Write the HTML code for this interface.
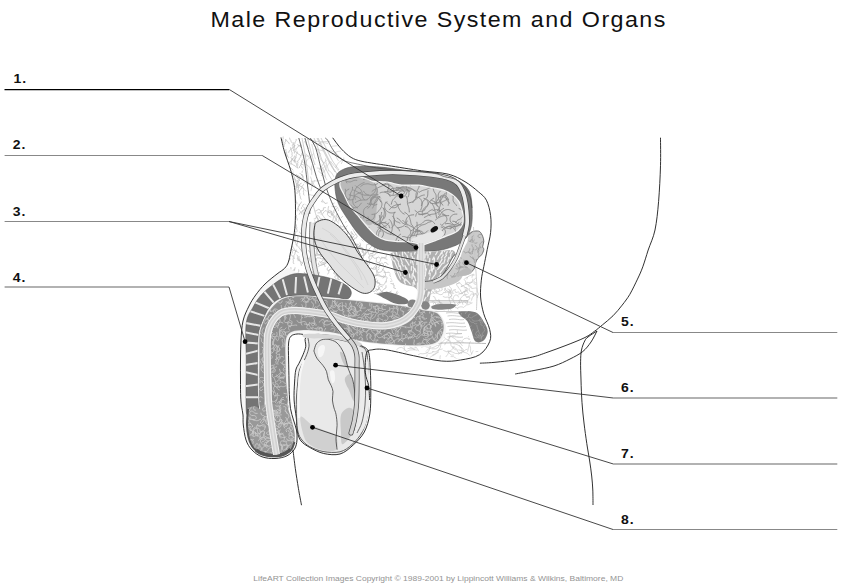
<!DOCTYPE html>
<html><head><meta charset="utf-8">
<style>
html,body{margin:0;padding:0;background:#fff;width:841px;height:587px;overflow:hidden}
svg{position:absolute;left:0;top:0;display:block}
text{font-family:"Liberation Sans",sans-serif}
.lb{font-weight:bold;font-size:12.5px;fill:#111;letter-spacing:0.9px}
</style></head><body>
<svg width="841" height="587" viewBox="0 0 841 587">
<!-- ANATOMY -->
<g id="anat">
<defs><clipPath id="c1"><path d="M281.0,137.5C283.4,135.1 295.5,135.4 299.0,137.5C302.5,139.6 301.0,145.6 302.0,150.0C303.0,154.4 304.0,157.9 304.9,163.7C305.8,169.5 306.8,178.9 307.5,185.0C308.2,191.1 309.1,195.5 309.3,200.0C309.6,204.5 309.7,207.8 309.0,212.0C308.3,216.2 306.0,220.3 305.0,225.0C304.0,229.7 303.2,234.5 303.0,240.0C302.8,245.5 303.0,252.2 304.0,258.0C305.0,263.8 309.7,272.0 309.0,275.0C308.3,278.0 303.5,277.2 300.0,276.0C296.5,274.8 289.6,272.1 288.0,268.0C286.4,263.9 289.7,256.7 290.7,251.4C291.7,246.1 293.0,241.1 293.8,236.0C294.6,230.9 295.1,227.0 295.3,220.7C295.6,214.4 295.5,204.1 295.3,198.0C295.1,191.9 294.8,188.7 294.0,184.0C293.2,179.3 292.1,175.1 290.5,169.7C288.9,164.3 286.1,157.2 284.5,151.8C282.9,146.4 278.6,139.9 281.0,137.5Z"/></clipPath><clipPath id="c2"><path d="M305.0,138.0C309.0,126.0 323.3,134.3 330.0,138.0C336.7,141.7 343.7,154.3 345.0,160.0C346.3,165.7 340.8,168.3 338.0,172.0C335.2,175.7 331.0,179.0 328.0,182.0C325.0,185.0 322.7,187.0 320.0,190.0C317.3,193.0 314.3,196.7 312.0,200.0C309.7,203.3 307.2,220.3 306.0,210.0C304.8,199.7 301.0,150.0 305.0,138.0Z"/></clipPath><clipPath id="c3"><path d="M306.0,268.0C306.5,274.2 308.0,280.3 312.0,282.0C316.0,283.7 323.7,277.7 330.0,278.0C336.3,278.3 343.0,281.7 350.0,284.0C357.0,286.3 365.0,289.3 372.0,292.0C379.0,294.7 387.3,299.3 392.0,300.0C396.7,300.7 400.0,299.3 400.0,296.0C400.0,292.7 394.0,285.7 392.0,280.0C390.0,274.3 389.2,266.7 388.0,262.0C386.8,257.3 387.7,255.0 385.0,252.0C382.3,249.0 376.2,246.3 372.0,244.0C367.8,241.7 363.3,240.7 360.0,238.0C356.7,235.3 354.7,231.3 352.0,228.0C349.3,224.7 346.7,221.8 344.0,218.0C341.3,214.2 338.7,208.7 336.0,205.0C333.3,201.3 331.0,196.0 328.0,196.0C325.0,196.0 320.7,200.7 318.0,205.0C315.3,209.3 313.5,215.3 312.0,222.0C310.5,228.7 310.0,237.3 309.0,245.0C308.0,252.7 305.5,261.8 306.0,268.0Z"/></clipPath><clipPath id="c4"><path d="M405.0,345.0C412.0,344.3 425.3,346.5 432.0,345.0C438.7,343.5 440.7,338.5 445.0,336.0C449.3,333.5 454.5,330.7 458.0,330.0C461.5,329.3 463.7,329.8 466.0,332.0C468.3,334.2 470.0,339.7 472.0,343.0C474.0,346.3 480.0,349.5 478.0,352.0C476.0,354.5 466.3,356.8 460.0,358.0C453.7,359.2 447.8,359.7 440.0,359.0C432.2,358.3 421.3,355.7 413.0,354.0C404.7,352.3 391.3,350.5 390.0,349.0C388.7,347.5 398.0,345.7 405.0,345.0Z"/></clipPath><clipPath id="c5"><path d="M444.0,282.0C450.2,279.3 457.3,277.7 462.0,276.0C466.7,274.3 469.3,270.5 472.0,272.0C474.7,273.5 477.0,280.3 478.0,285.0C479.0,289.7 479.3,296.7 478.0,300.0C476.7,303.3 473.8,303.3 470.0,305.0C466.2,306.7 460.0,309.2 455.0,310.0C450.0,310.8 444.2,311.7 440.0,310.0C435.8,308.3 432.5,303.0 430.0,300.0C427.5,297.0 422.7,295.0 425.0,292.0C427.3,289.0 437.8,284.7 444.0,282.0Z"/></clipPath><clipPath id="c6"><path d="M340.8,182.5C341.5,181.1 341.8,179.1 345.0,178.3C348.2,177.5 355.6,176.9 360.0,177.5C364.4,178.1 367.8,180.9 371.7,181.7C375.6,182.5 380.2,182.2 383.3,182.5C386.4,182.8 386.9,182.8 390.0,183.3C393.1,183.9 397.0,185.4 401.7,185.8C406.4,186.2 413.3,185.4 418.3,185.8C423.3,186.2 427.5,187.5 431.7,188.3C435.9,189.1 440.0,189.7 443.3,190.8C446.6,191.9 449.2,193.2 451.7,195.0C454.2,196.8 456.6,198.9 458.3,201.7C460.0,204.5 461.0,209.0 461.7,211.7C462.4,214.4 462.5,216.0 462.5,218.0C462.5,220.0 462.8,221.9 461.9,223.9C461.0,225.9 459.6,228.4 457.4,230.2C455.2,232.0 451.2,233.4 448.5,234.6C445.8,235.8 443.2,236.6 441.0,237.5C438.8,238.4 437.3,239.2 435.1,240.0C432.9,240.8 429.9,241.8 428.0,242.5C426.1,243.2 425.1,243.9 423.5,244.0C421.9,244.1 420.4,243.4 418.3,243.0C416.2,242.6 413.4,241.8 410.6,241.5C407.8,241.2 404.2,241.1 401.7,241.0C399.1,240.9 397.9,240.9 395.3,240.7C392.7,240.4 389.1,240.4 386.0,239.5C382.9,238.6 379.9,237.6 377.0,235.5C374.1,233.4 371.4,230.4 368.3,227.0C365.2,223.6 361.4,218.7 358.3,215.0C355.2,211.3 352.2,208.3 350.0,205.0C347.8,201.7 346.5,198.1 345.0,195.0C343.5,191.9 341.5,188.8 340.8,186.7C340.1,184.6 340.1,183.9 340.8,182.5Z"/></clipPath><clipPath id="c7"><path d="M316.2,222.5C317.6,221.4 321.0,219.8 323.4,219.6C325.8,219.3 327.8,219.6 330.7,221.0C333.6,222.4 337.7,225.4 340.8,228.3C343.9,231.2 346.6,234.3 349.5,238.4C352.4,242.5 355.2,248.6 358.1,252.9C361.0,257.2 364.4,261.1 366.8,264.5C369.2,267.9 371.2,270.5 372.6,273.1C374.0,275.7 374.7,277.6 375.0,280.0C375.3,282.4 375.2,285.6 374.3,287.7C373.4,289.8 371.4,291.6 369.5,292.5C367.6,293.4 365.2,293.7 362.7,293.1C360.2,292.5 357.7,291.0 354.5,289.0C351.3,287.0 346.8,283.6 343.6,280.9C340.4,278.2 337.8,275.4 335.4,272.7C333.0,270.0 331.4,267.3 329.2,264.5C327.0,261.7 324.2,258.9 322.0,255.8C319.8,252.7 317.5,249.1 316.2,245.7C314.9,242.3 314.2,238.8 314.0,235.5C313.8,232.2 314.3,228.2 314.7,226.0C315.1,223.8 314.8,223.6 316.2,222.5Z"/></clipPath><clipPath id="proc"><path d="M391.8,252.8C395.7,251.2 409.5,251.9 415.2,251.7C420.9,251.5 421.8,251.8 425.9,251.7C430.0,251.6 435.6,251.3 440.0,251.0C444.4,250.7 449.4,249.5 452.0,250.0C454.6,250.5 455.5,252.7 455.5,254.0C455.5,255.3 453.4,256.0 452.2,258.0C450.9,260.0 449.4,263.5 448.0,266.0C446.6,268.5 445.3,271.2 443.8,273.2C442.3,275.2 440.6,276.2 439.0,278.0C437.4,279.8 435.3,281.7 434.0,284.0C432.7,286.3 431.9,289.0 431.0,292.0C430.1,295.0 430.2,300.2 428.5,302.0C426.8,303.8 422.7,304.7 421.0,303.0C419.3,301.3 419.7,294.7 418.5,292.0C417.3,289.3 416.1,288.2 414.0,287.0C411.9,285.8 408.5,286.0 406.0,285.0C403.5,284.0 400.9,283.2 399.0,281.0C397.1,278.8 395.7,275.3 394.5,272.0C393.3,268.7 392.4,264.5 392.0,261.3C391.6,258.1 387.9,254.4 391.8,252.8Z"/></clipPath><clipPath id="c8"><path d="M470.5,232.7C471.5,232.0 473.1,231.3 474.6,231.1C476.1,230.9 478.4,230.7 479.7,231.6C481.0,232.5 482.0,234.7 482.7,236.3C483.4,237.9 483.8,239.7 483.8,241.4C483.8,243.1 482.7,245.1 482.7,246.5C482.7,247.9 484.0,248.2 483.8,249.6C483.6,251.0 482.7,253.2 481.7,254.7C480.7,256.2 478.6,257.4 477.6,258.8C476.6,260.2 476.1,261.4 475.6,262.9C475.1,264.4 475.3,266.5 474.6,268.0C473.9,269.5 472.7,270.9 471.5,272.1C470.3,273.3 469.3,274.4 467.4,275.1C465.5,275.8 462.6,275.8 460.2,276.2C457.8,276.6 455.4,277.0 453.0,277.5C450.6,278.0 447.8,278.8 446.0,279.0C444.2,279.2 441.7,280.0 442.0,279.0C442.3,278.0 445.8,275.3 448.0,273.0C450.2,270.7 453.0,267.6 455.0,265.0C457.0,262.4 459.0,259.9 460.2,257.7C461.4,255.5 461.4,253.6 462.3,251.6C463.2,249.6 464.5,247.2 465.3,245.5C466.1,243.8 466.9,243.1 467.4,241.4C467.9,239.7 467.9,236.6 468.4,235.2C468.9,233.8 469.5,233.4 470.5,232.7Z"/></clipPath><clipPath id="c9"><path d="M459.4,311.3C461.8,310.7 471.5,310.6 475.5,312.3C479.5,314.0 481.6,318.2 483.6,321.4C485.6,324.6 487.7,328.3 487.7,331.5C487.7,334.7 485.6,338.9 483.6,340.6C481.6,342.3 477.5,343.1 475.5,341.6C473.5,340.1 472.8,334.9 471.5,331.5C470.2,328.1 469.2,324.0 467.5,321.4C465.8,318.8 462.4,317.7 461.0,316.0C459.6,314.3 457.0,311.9 459.4,311.3Z"/></clipPath><clipPath id="dkc"><path d="M246.2,410.0C245.7,401.3 246.2,374.4 246.2,360.0C246.2,345.6 245.1,332.4 246.2,323.6C247.3,314.8 250.5,312.0 253.0,307.2C255.5,302.4 258.0,298.6 261.2,295.0C264.4,291.4 268.0,288.4 272.0,285.4C276.0,282.4 280.3,279.0 285.0,277.0C289.7,275.0 292.9,273.4 300.0,273.5C307.1,273.6 320.0,275.7 327.5,277.5C335.0,279.3 341.1,282.2 345.0,284.5C348.9,286.8 350.2,288.9 351.0,291.0C351.8,293.1 351.0,295.6 350.0,297.0C349.0,298.4 347.0,299.4 345.0,299.5C343.0,299.6 343.3,298.3 338.0,297.7C332.7,297.1 320.6,296.0 313.0,295.7C305.4,295.4 298.2,295.1 292.5,295.7C286.8,296.2 282.8,297.1 278.9,299.0C275.0,300.9 272.0,303.6 269.3,307.2C266.6,310.8 264.3,316.3 262.5,320.9C260.7,325.4 259.2,328.0 258.4,334.5C257.6,341.0 257.6,349.9 257.5,360.0C257.4,370.1 257.8,386.8 258.0,395.0C258.2,403.2 259.5,406.2 259.0,409.0C258.5,411.8 256.7,411.5 255.0,412.0C253.3,412.5 250.5,412.3 249.0,412.0C247.5,411.7 246.7,418.7 246.2,410.0Z"/></clipPath><clipPath id="c10"><path d="M259.5,405.0C258.7,397.5 259.4,371.8 259.5,360.0C259.6,348.2 258.9,341.5 259.8,334.5C260.8,327.5 262.9,322.9 265.2,318.1C267.5,313.3 270.0,309.3 273.4,305.9C276.8,302.5 280.2,299.3 285.7,297.7C291.1,296.1 299.0,296.1 306.1,296.3C313.2,296.5 320.1,298.0 328.6,298.8C337.1,299.6 347.5,300.1 357.0,301.0C366.5,301.9 377.6,303.0 385.7,304.0C393.8,305.0 401.1,305.9 405.7,306.8C410.2,307.7 412.1,308.5 413.0,309.5C413.9,310.5 413.2,311.5 411.0,313.0C408.8,314.5 404.2,317.0 400.0,318.5C395.8,320.0 390.5,321.4 385.7,322.0C380.9,322.6 376.2,322.3 371.4,322.0C366.6,321.7 361.8,320.9 357.0,320.0C352.2,319.1 347.6,317.8 342.9,316.4C338.2,315.0 335.8,312.9 328.6,311.4C321.5,309.8 306.5,307.8 300.0,307.1C293.5,306.4 293.6,306.7 289.8,307.4C286.1,308.1 280.9,309.1 277.5,311.3C274.1,313.6 271.4,317.0 269.3,320.9C267.2,324.8 265.5,328.0 264.6,334.5C263.7,341.0 263.9,348.2 263.9,360.0C263.9,371.8 265.2,397.5 264.5,405.0C263.8,412.5 260.3,412.5 259.5,405.0Z"/></clipPath><clipPath id="c11"><path d="M273.0,406.0C270.5,402.7 272.2,391.8 271.8,385.0C271.4,378.2 271.0,371.7 270.8,365.0C270.6,358.3 270.4,350.1 270.5,345.0C270.6,339.9 270.5,338.1 271.3,334.5C272.1,330.9 273.4,326.8 275.3,323.6C277.2,320.4 280.2,317.0 283.0,315.4C285.8,313.8 289.2,314.2 292.0,314.0C294.8,313.8 293.9,313.7 300.0,314.3C306.1,314.9 321.5,316.5 328.6,317.9C335.8,319.3 338.2,321.5 342.9,322.9C347.6,324.3 352.2,325.4 357.0,326.4C361.8,327.3 366.6,328.1 371.4,328.6C376.2,329.1 380.9,329.7 385.7,329.3C390.5,328.9 395.7,327.9 400.0,326.4C404.3,324.8 408.7,322.1 411.4,320.0C414.1,317.9 414.8,315.3 416.0,313.5C417.2,311.7 417.2,309.5 418.5,309.0C419.8,308.5 421.8,310.1 424.0,310.5C426.2,310.9 429.5,310.8 432.0,311.5C434.5,312.2 437.1,312.8 439.0,315.0C440.9,317.2 443.1,321.5 443.5,325.0C443.9,328.5 443.4,332.8 441.5,336.0C439.6,339.2 438.4,342.5 432.0,344.0C425.6,345.5 414.8,345.5 402.8,345.0C390.8,344.5 370.8,342.7 360.0,340.8C349.2,338.9 344.7,335.1 338.0,333.5C331.3,331.9 325.8,331.6 320.0,331.0C314.2,330.4 308.0,329.9 303.4,330.0C298.8,330.1 295.2,330.5 292.5,331.5C289.8,332.5 288.2,333.8 287.0,336.0C285.8,338.2 285.6,341.0 285.3,345.0C285.1,349.0 285.4,354.2 285.5,360.0C285.6,365.8 285.8,372.5 286.0,380.0C286.2,387.5 289.2,400.7 287.0,405.0C284.8,409.3 275.5,409.3 273.0,406.0Z"/></clipPath><clipPath id="c12"><path d="M247.5,410.0C248.1,407.0 249.1,407.6 250.5,407.0C251.9,406.4 254.4,406.2 256.0,406.5C257.6,406.8 258.8,409.2 260.0,409.0C261.2,408.8 258.7,405.8 263.0,405.0C267.3,404.2 281.8,403.2 286.0,404.0C290.2,404.8 287.6,407.3 288.5,410.0C289.4,412.7 290.5,416.3 291.5,420.0C292.5,423.7 294.0,428.3 294.5,432.0C295.0,435.7 295.0,439.1 294.5,442.0C294.0,444.9 293.1,447.5 291.5,449.5C289.9,451.5 287.4,452.9 285.0,454.0C282.6,455.1 280.0,455.8 277.0,456.0C274.0,456.2 270.2,456.2 267.0,455.5C263.8,454.8 260.5,453.6 258.0,452.0C255.5,450.4 253.6,448.5 252.0,446.0C250.4,443.5 249.3,440.5 248.5,437.0C247.7,433.5 247.2,429.5 247.0,425.0C246.8,420.5 246.9,413.0 247.5,410.0Z"/></clipPath></defs>
<path d="M281.0,137.5C283.4,135.1 295.5,135.4 299.0,137.5C302.5,139.6 301.0,145.6 302.0,150.0C303.0,154.4 304.0,157.9 304.9,163.7C305.8,169.5 306.8,178.9 307.5,185.0C308.2,191.1 309.1,195.5 309.3,200.0C309.6,204.5 309.7,207.8 309.0,212.0C308.3,216.2 306.0,220.3 305.0,225.0C304.0,229.7 303.2,234.5 303.0,240.0C302.8,245.5 303.0,252.2 304.0,258.0C305.0,263.8 309.7,272.0 309.0,275.0C308.3,278.0 303.5,277.2 300.0,276.0C296.5,274.8 289.6,272.1 288.0,268.0C286.4,263.9 289.7,256.7 290.7,251.4C291.7,246.1 293.0,241.1 293.8,236.0C294.6,230.9 295.1,227.0 295.3,220.7C295.6,214.4 295.5,204.1 295.3,198.0C295.1,191.9 294.8,188.7 294.0,184.0C293.2,179.3 292.1,175.1 290.5,169.7C288.9,164.3 286.1,157.2 284.5,151.8C282.9,146.4 278.6,139.9 281.0,137.5Z" fill="#ffffff"/>
<path d="M285.8,139.7Q285.9,141.3 285.3,141.8Q284.6,142.2 284.9,143Q285.2,143.7 284.6,144.2Q283.9,144.7 284,145.5L284.2,146.3M289.6,138.1Q289.8,139.6 290.5,140.1Q291.1,140.6 291.1,141.4Q291.2,142.2 291.8,142.6L292.5,143M296.2,139.4Q296.4,141 295.7,141.4Q295,141.8 295.1,142.6Q295.1,143.4 294.5,143.8Q293.9,144.3 294.2,145L294.5,145.8M283.2,144.2Q282.5,142.7 282.8,142Q283.1,141.2 282.8,140.5Q282.4,139.8 282.9,139.2Q283.4,138.5 283.1,137.8Q282.7,137 283.2,136.4L283.8,135.8M289.2,143.7Q288.8,142.1 288,142Q287.2,141.9 287,141.1Q286.8,140.3 286.1,140L285.4,139.7M293.7,142.6Q293.3,144.1 293.8,144.7Q294.3,145.3 294.1,146.1Q294,146.9 294.5,147.5Q295.1,148 294.9,148.8Q294.8,149.6 295.4,150L296.1,150.5M297.7,144.4Q298.2,145.9 299,145.8Q299.8,145.7 300.2,146.4Q300.5,147.1 301.3,147Q302.1,146.9 302.5,147.6L303,148.2M285.9,149.6Q285.6,151.2 286.2,151.7Q286.7,152.3 286.6,153Q286.4,153.8 286.9,154.4Q287.5,155 287.5,155.8Q287.4,156.6 288.1,157L288.7,157.5M290.6,147.6Q290.5,149.2 291.2,149.6Q291.9,150.1 291.6,150.9Q291.3,151.6 291.9,152.2Q292.4,152.8 292.1,153.5Q291.7,154.2 292.1,154.9Q292.5,155.6 292,156.3L291.5,156.9M296.3,149.2Q296.6,147.6 297.4,147.3Q298.1,147 298.5,146.3Q298.8,145.6 299.6,145.4L300.4,145.2M300.9,146.7Q300.8,145.1 301.6,145Q302.4,144.8 302.4,144Q302.5,143.2 303.3,143Q304.1,142.8 304.1,142.1Q304.2,141.3 305,141Q305.7,140.7 305.8,139.9L305.9,139.1M288.7,152.4Q288.8,150.8 289.6,150.7Q290.3,150.5 290.5,149.7Q290.7,148.9 291.5,148.8Q292.3,148.6 292.6,147.9Q292.9,147.1 293.7,147.1Q294.4,147 294.7,146.2L294.9,145.4M294.4,153.1Q294.7,151.5 294.1,151.1Q293.4,150.7 293.6,150Q293.9,149.2 293.3,148.7Q292.6,148.2 292.9,147.5Q293.3,146.7 292.7,146.2Q292.1,145.6 292.6,144.9L293,144.2M297.3,151.9Q297.4,153.5 296.7,153.9Q296.1,154.3 296.2,155.1Q296.4,155.9 295.7,156.3Q295.1,156.7 295.3,157.5Q295.5,158.3 294.9,158.8Q294.2,159.3 294.5,160L294.7,160.8M302.1,153.1Q302,154.7 301.4,155.1Q300.7,155.6 300.6,156.4Q300.6,157.2 300,157.7Q299.3,158.2 299.3,159Q299.3,159.8 298.7,160.2L298,160.7M286.4,156.6Q286.6,155 285.9,154.5Q285.3,154 285.5,153.2Q285.7,152.5 285,152L284.4,151.5M290.9,157.6Q291.4,159.1 292.2,159.3Q293,159.4 293.2,160.2Q293.4,161 294.2,161.1L295,161.2M294.5,156Q294.4,157.6 293.7,157.9Q292.9,158.2 292.8,159Q292.6,159.8 291.8,160Q291.1,160.3 290.9,161Q290.7,161.8 289.9,162Q289.1,162.2 289,163L288.9,163.8M300.9,155.9Q300.1,154.5 299.3,154.6Q298.5,154.6 298.2,153.8Q297.9,153.1 297.1,153Q296.3,152.8 296,152.1Q295.8,151.3 295,151.2Q294.2,151.1 294,150.3L293.9,149.5M294.3,162.2Q294,160.6 294.6,160.1Q295.2,159.6 295.2,158.8Q295.3,158 295.9,157.5L296.5,157M297.6,161.2Q298.4,162.6 297.8,163.2Q297.2,163.8 297.7,164.4Q298.2,165.1 297.6,165.6Q297.1,166.2 297.5,166.9L297.8,167.7M302,161Q302.1,162.6 301.6,163.1Q301,163.7 301,164.5Q301,165.3 300.3,165.6Q299.6,166 299.5,166.8L299.5,167.6M291.4,163.4Q290.7,162 291.3,161.5Q292,161 291.7,160.2Q291.3,159.5 292,159.1L292.6,158.6M296.5,165.4Q296.8,163.9 296.2,163.4Q295.6,162.8 295.8,162.1Q296,161.3 295.4,160.7L294.8,160.2M301.4,164.5Q301.1,162.9 301.7,162.4Q302.4,161.9 302.1,161.1Q301.9,160.4 302.5,159.8L303,159.2M304,166.1Q304.5,167.6 303.9,168.1Q303.3,168.6 303.5,169.4Q303.6,170.1 302.9,170.5Q302.2,170.8 302.2,171.6L302.1,172.4M292.9,170Q292,168.7 291.3,168.6Q290.5,168.4 290.2,167.7Q290,166.9 289.2,166.7L288.5,166.6M297.8,168.2Q296.9,166.8 296.1,166.8Q295.3,166.8 295.1,166Q294.8,165.3 294,165.3Q293.2,165.3 292.8,164.6Q292.3,163.9 291.5,164.1Q290.8,164.2 290.2,163.6L289.7,163M304.6,169.5Q305,168 304.3,167.5Q303.6,167.1 303.7,166.3Q303.9,165.5 303.3,165.1L302.6,164.6M296.2,174.4Q297.1,175.7 297.9,175.6Q298.7,175.6 299,176.3Q299.2,177.1 300,177Q300.8,177 301.1,177.7Q301.4,178.5 302.2,178.7Q303,178.8 303.1,179.6L303.3,180.4M302,174.3Q302.3,175.8 303.1,176.1Q303.9,176.3 304.1,177Q304.3,177.8 305.1,178L305.9,178.1M305.2,172.7Q305.1,171.1 304.4,170.7Q303.7,170.3 303.6,169.5Q303.4,168.7 302.7,168.4Q302,168 301.9,167.2Q301.9,166.4 301.2,166L300.5,165.6M294.6,179Q295.5,180.4 295.4,181.2Q295.3,182 295.9,182.5Q296.5,183 296.4,183.8Q296.3,184.6 296.9,185.1Q297.5,185.7 297.3,186.4Q297.2,187.2 297.7,187.8L298.3,188.4M299.3,178.8Q299.7,180.3 299,180.8Q298.4,181.3 298.4,182.1Q298.5,182.9 297.8,183.3Q297.2,183.8 297.2,184.6Q297.2,185.4 296.6,185.8Q295.9,186.2 296,187L296.2,187.8M303.2,177.7Q303.2,176.1 302.4,175.9Q301.6,175.7 301.6,174.9Q301.5,174.1 300.8,173.8L300,173.6M296.3,181.2Q296,179.6 295.3,179.2Q294.6,178.8 294.7,178Q294.7,177.2 294,176.8Q293.4,176.3 293.5,175.5Q293.7,174.7 293.1,174.2Q292.6,173.6 292.8,172.8L293,172M299.4,180.6Q299.1,179 298.3,178.9Q297.5,178.8 297.5,178Q297.4,177.2 296.7,176.8L296,176.5M304,180.5Q304,178.9 303.5,178.4Q302.9,177.8 302.9,177Q302.9,176.2 302.4,175.6L301.8,175.1M298.8,187.6Q298.4,186.1 299.1,185.7Q299.8,185.4 299.8,184.6Q299.7,183.8 300.5,183.5L301.2,183.3M301.7,187Q302.2,185.5 302.9,185.3Q303.7,185.2 303.8,184.4Q303.9,183.6 304.7,183.4Q305.5,183.2 305.5,182.4L305.6,181.6M296,190.3Q295.7,188.7 296.2,188.1Q296.7,187.5 296.4,186.7Q296.2,186 296.7,185.4Q297.2,184.8 297,184Q296.7,183.3 297.3,182.7Q297.8,182.1 297.7,181.3L297.6,180.5M299,191.9Q299.1,190.3 299.9,190.2Q300.7,190.1 300.7,189.3Q300.7,188.5 301.4,188.3L302.2,188M304.2,189.2Q303.7,187.7 302.9,187.7Q302.1,187.8 301.9,187Q301.6,186.2 300.8,186.3Q300,186.4 299.6,185.7Q299.2,185 298.5,185.2L297.7,185.4M297,193.6Q297,192 297.6,191.5Q298.2,190.9 298,190.1Q297.8,189.3 298.3,188.7Q298.8,188 298.5,187.3Q298.2,186.5 298.6,185.9Q299,185.2 298.6,184.5L298.2,183.8M304.1,195.2Q303.2,193.8 303.6,193.1Q304,192.5 303.5,191.8Q303.1,191.1 303.6,190.5Q304.2,189.9 303.9,189.2L303.7,188.4M308.7,196.2Q308.6,197.8 309.2,198.3Q309.8,198.8 309.6,199.6Q309.4,200.4 309.8,201Q310.3,201.7 309.9,202.4Q309.6,203.1 310,203.7Q310.5,204.4 310.2,205.1L309.9,205.9M295.3,197.4Q295.6,195.8 295,195.4Q294.3,195 294.5,194.2Q294.7,193.4 294,193Q293.3,192.6 293.4,191.8L293.6,191.1M301.1,199.2Q300.2,197.9 300.3,197.1Q300.5,196.4 300,195.8Q299.5,195.2 299.7,194.4Q300,193.6 299.5,193.1Q298.9,192.5 299.2,191.7Q299.5,191 299,190.3L298.5,189.7M307.1,198.9Q307,200.5 307.7,200.9Q308.4,201.4 308.3,202.2Q308.2,203 308.9,203.3Q309.6,203.7 309.5,204.5L309.4,205.3M296.9,203.9Q297.2,202.4 296.5,201.9Q295.8,201.5 295.8,200.7Q295.9,199.9 295.2,199.5L294.5,199.1M301.4,202Q301,203.5 300.2,203.9Q299.5,204.2 299.5,205Q299.6,205.8 299,206.4L298.4,206.9M307,204.6Q307.8,205.9 308.6,205.9Q309.4,205.9 309.7,206.6Q310.1,207.4 310.9,207.4Q311.7,207.4 311.9,208.1Q312.1,208.9 312.9,209Q313.7,209.1 313.8,209.9L314,210.6M301.3,208.7Q301.3,207.1 302.1,206.8Q302.8,206.4 302.7,205.6Q302.5,204.8 303.3,204.6L304,204.3M305.6,207.9Q305.2,209.4 304.4,209.4Q303.6,209.5 303.4,210.2Q303.2,211 302.4,211.1Q301.6,211.2 301.5,212Q301.3,212.8 300.5,212.7Q299.7,212.7 299.5,213.5L299.3,214.2M297.2,210.9Q296.8,209.3 297.5,208.8Q298.1,208.4 298.1,207.6Q298,206.8 298.6,206.3Q299.2,205.7 299.2,204.9L299.2,204.1M302.9,210.4Q302.6,212 303.2,212.6Q303.8,213.1 303.5,213.9Q303.2,214.6 303.6,215.3Q304.1,215.9 303.8,216.7L303.5,217.4M296.4,215.8Q295.8,214.3 295.1,214Q294.3,213.7 294.1,213Q293.9,212.2 293.1,212.1Q292.3,212 291.9,211.3L291.6,210.6M301.9,214.1Q301.8,212.5 301,212.2Q300.2,212 300,211.2Q299.8,210.4 299.1,210.2Q298.3,210 298.2,209.2L298.1,208.4M306.3,215.4Q306.6,213.8 306,213.2Q305.5,212.6 305.4,211.8Q305.4,211 304.8,210.5Q304.3,209.9 304.5,209.2Q304.7,208.4 304.2,207.8L303.7,207.1M297.3,220.1Q297.5,218.6 296.9,218Q296.3,217.5 296.3,216.7Q296.4,215.9 295.7,215.5L294.9,215.2M302.1,221Q303,222.4 303.8,222.2Q304.5,222 305,222.6Q305.5,223.3 306.3,223.2Q307.1,223.1 307.4,223.8L307.8,224.5M296.3,224.9Q296,226.5 296.5,227Q297.1,227.6 296.7,228.3Q296.3,229 296.8,229.7Q297.3,230.3 297.1,231.1L296.8,231.8M302.1,224.8Q302.1,226.4 302.8,226.9Q303.5,227.3 303.6,228.1Q303.6,228.9 304.3,229.3Q304.9,229.8 305,230.6L305,231.4M294.4,229.9Q293.8,228.5 293,228.6Q292.2,228.7 291.8,228Q291.5,227.2 290.7,227.4Q289.9,227.6 289.5,226.9Q289,226.2 288.3,226.4Q287.5,226.6 287.1,225.9L286.7,225.2M296.6,229.1Q296.2,227.6 295.4,227.5Q294.6,227.3 294.4,226.6Q294.2,225.8 293.4,225.8Q292.6,225.7 292.4,224.9Q292.1,224.2 291.3,224.2L290.5,224.2M295.6,231.6Q295.9,233.2 295.3,233.8Q294.8,234.4 295.1,235.2Q295.3,235.9 295,236.6Q294.6,237.3 294.8,238.1Q295.1,238.9 294.8,239.6Q294.4,240.3 294.7,241L295,241.8M299.6,232Q300.1,233.5 300.8,233.8Q301.6,234 301.7,234.8Q301.8,235.6 302.4,236.1Q303.1,236.5 303.2,237.3Q303.4,238.1 304.1,238.5Q304.7,238.9 304.7,239.7L304.7,240.5M297.7,236.8Q298.5,238.2 297.9,238.8Q297.4,239.4 297.7,240.1Q298.1,240.9 297.6,241.5Q297.2,242.2 297.5,242.9Q297.8,243.7 297.1,244.2Q296.5,244.7 296.8,245.5L297,246.2M295.2,240.6Q295,242.2 295.6,242.7Q296.2,243.1 296.1,243.9Q295.9,244.7 296.6,245.1L297.3,245.6M301.9,239.5Q301.2,238.1 301.7,237.5Q302.2,236.9 301.8,236.2Q301.5,235.4 302,234.8Q302.4,234.2 302,233.5Q301.6,232.8 302,232.1Q302.3,231.3 301.8,230.7L301.4,230M292.6,246.1Q292.6,247.7 293.3,247.9Q294.1,248 294.1,248.8Q294.1,249.6 294.8,249.9Q295.6,250.1 295.5,250.9L295.5,251.7M298.8,246.8Q298.7,248.4 299.5,248.5Q300.3,248.6 300.3,249.4Q300.3,250.2 301.1,250.3Q301.9,250.5 301.9,251.3Q301.9,252.1 302.7,252.2L303.5,252.4M296.3,250Q296.2,251.6 295.5,252.1Q294.9,252.5 295,253.3Q295.1,254.1 294.5,254.6Q293.8,255.1 293.9,255.8Q294,256.6 293.5,257.2L292.9,257.8M302.2,248Q302.2,249.6 302.9,249.9Q303.7,250.1 303.7,250.9Q303.6,251.7 304.3,252.1Q305,252.5 304.7,253.2Q304.5,254 305.2,254.4L305.9,254.8M292.2,253.1Q292.5,251.5 292,250.8Q291.5,250.2 291.6,249.4Q291.7,248.6 291.1,248.1Q290.5,247.6 290.5,246.8Q290.5,246 289.8,245.6L289.1,245.2M298.3,252.6Q297.4,251.3 296.6,251.5Q295.8,251.7 295.4,251Q295,250.3 294.2,250.5Q293.4,250.6 292.9,250L292.4,249.4M303.4,254.9Q304,256.4 304.8,256.3Q305.6,256.3 306,257Q306.4,257.7 307.2,257.6Q308,257.5 308.2,258.3Q308.4,259.1 309.2,258.9Q310,258.8 310.5,259.4L311,260.1M290.1,258.1Q290.2,259.7 289.4,259.9Q288.6,260.1 288.4,260.8Q288.2,261.6 287.4,261.8Q286.7,262 286.7,262.8Q286.7,263.6 285.9,263.8Q285.1,264 285,264.8L284.9,265.6M294.2,258.5Q294,257 293.2,256.7Q292.5,256.5 292.2,255.7Q292,255 291.2,254.8Q290.4,254.7 290.1,253.9L289.8,253.2M299,256.6Q298.6,258.2 299.2,258.8Q299.8,259.3 299.7,260.1Q299.7,260.9 300.2,261.5Q300.8,262 300.7,262.8Q300.7,263.6 301.2,264.2L301.6,264.9M293.8,263.7Q292.9,262.3 293.3,261.6Q293.8,261 293.3,260.3Q292.8,259.6 293.3,259L293.8,258.4M298.2,260.7Q298.5,259.1 298,258.5Q297.5,257.9 297.7,257.2Q298,256.4 297.5,255.8L297,255.1M302.6,263.5Q301.9,262.1 301.1,261.9Q300.3,261.7 300,260.9Q299.7,260.2 298.9,260.1Q298.1,260 297.8,259.3L297.4,258.6M290.9,267.5Q291.2,269 290.7,269.6Q290.1,270.1 290,270.9Q290,271.7 289.4,272.3L288.8,272.8M295.1,267.7Q294.9,269.3 294.2,269.5Q293.4,269.8 293.1,270.5Q292.8,271.2 292,271.2L291.2,271.2M301.3,265.4Q301.3,263.8 302,263.5Q302.7,263.2 302.8,262.4Q302.9,261.6 303.6,261.2Q304.3,260.8 304.3,260Q304.2,259.2 304.8,258.7L305.4,258.1M305.8,265.8Q306.7,267.1 306.2,267.8Q305.7,268.4 306.2,269Q306.7,269.7 306.4,270.4Q306,271.1 306.6,271.7Q307.1,272.2 306.9,273L306.7,273.8M294.7,269.3Q294.8,270.9 294,271.1Q293.3,271.3 293.2,272.1Q293.2,272.9 292.5,273.1Q291.7,273.3 291.7,274.1L291.7,274.9M298.7,269.8Q299.1,271.4 298.5,271.9Q297.9,272.4 298,273.2Q298.1,274 297.5,274.4Q296.8,274.9 297,275.7Q297.2,276.4 296.7,277Q296.2,277.6 296.5,278.3L296.9,279.1M304.3,272.2Q305.2,273.6 304.8,274.3Q304.5,275 304.9,275.7Q305.3,276.4 304.8,277Q304.3,277.6 304.4,278.4L304.6,279.2M299.3,274.6Q299.2,276.2 298.6,276.6Q297.9,277 297.8,277.8Q297.7,278.6 297,279Q296.3,279.3 296,280Q295.7,280.8 294.9,281.1Q294.2,281.4 293.9,282.1L293.6,282.9M305.4,273.6Q305.6,275.2 304.9,275.7Q304.3,276.1 304.4,276.9Q304.5,277.7 303.7,278Q303,278.3 303.1,279.1Q303.1,279.9 302.5,280.3L301.8,280.8" clip-path="url(#c1)" fill="none" stroke="#bcbcbc" stroke-width="0.75" stroke-linejoin="round" stroke-linecap="round"/>
<path d="M305.0,138.0C309.0,126.0 323.3,134.3 330.0,138.0C336.7,141.7 343.7,154.3 345.0,160.0C346.3,165.7 340.8,168.3 338.0,172.0C335.2,175.7 331.0,179.0 328.0,182.0C325.0,185.0 322.7,187.0 320.0,190.0C317.3,193.0 314.3,196.7 312.0,200.0C309.7,203.3 307.2,220.3 306.0,210.0C304.8,199.7 301.0,150.0 305.0,138.0Z" fill="#ffffff"/>
<path d="M307.2,139.6l3 .2 2.9 .5 2.2 1 3.2 .2M312.8,140.6l.9 3.5 1.8 2.9 1.7 2.2 .8 1.9 2.5 2.9M318.5,143.8l3.1 -1.1 3.1 -0 3 .8M329.5,141.6l-2.8 -.1 -3.2 0 -2.8 .1M308.6,148.4l-1.2 -2.2 -1.5 -2.3 -1.8 -3M315.8,149.3l2.4 .5 2.7 .4 2.1 .7M321.8,148.4l2.9 .7 3.3 1 2.6 .8 2.9 .6M332.3,146.2l3.8 -.3 2.3 -.4 3.8 0 2.4 -.8M308.7,156.1l-3.9 -.1 -3.2 -1 -2.2 -.3M313.4,153.6l-2.4 3.1 -1.9 1.4 -2.6 2.7 -2.3 3.1 -2 2.7M319,152.5l-.1 2 .9 3 1 2 1.8 2.3 2.6 1.7M329.7,152.4l3.1 .8 3.1 1.8 2.3 1.5 3.1 1.6M332.2,154.6l3.1 -2.2 2.9 -1 2.7 -.3M311.5,159.9l-1.7 -1.7 -2.3 -2.5 -1.3 -1.7M315.5,158.9l-1 -2.4 -.9 -3.4 -.6 -3.8 -.5 -2 -.7 -2.8M325.5,158.9l.2 2.2 1 3.8 1.3 3.5 .6 2.5M330,161.7l-1.5 2.5 -2.1 3.1 -1.2 2.7 -2.3 2.9 -1.4 2.7M338.3,160.6l-1.6 -2.7 -1.1 -2.5 -.7 -2.6M311.5,166.1l-0 2.9 .2 2.8 -0 2.6M321.3,166.4l2 2.6 1.3 3 .6 2.8 .3 2.5M326.4,165.3l-1.9 1.4 -1.7 1.9 -2.7 1.5M335.7,167.7l1.7 -3.6 2.4 -2.6 2.2 -1.4 3.3 -1.1M341.4,163.6l.9 -2.2 1.3 -2.2 .7 -2.3M310.9,170l-1 -2.2 -1.3 -1.6 -2.3 -1.6 -2.1 -1.5 -3.2 -1.8M319.4,169.6l2.2 -3.2 2.1 -3.1 2.6 -2.9M324.1,171.5l-2.9 -2.3 -1.9 -.9 -2.1 -.3M329.1,170.7l2.4 2 1.8 2.9 1.6 3.3 .4 3.2 .2 3.6M338.5,171.2l-2.1 -2.9 -2.1 -2.5 -1.5 -1.4 -1.9 -2.8M310.6,177l1 2.8 .6 3.6 -0 2.7M321.2,180.5l-3.8 .4 -3.2 -0 -2.6 .8M326.8,179.8l-1.8 -3 -1.8 -2.2 -2.9 -1.9 -1.8 -1.5M311.8,183.4l-2.1 -0 -3.8 -.4 -3 -1.3 -3.3 -1.8M315.5,186.7l-1.9 -2.4 -1.2 -1.8 -1 -2M306.1,191l-2.9 -1.9 -2.1 -.9 -2.6 -1.2 -2.4 -.9M311,190.8l.6 -2.9 1 -3.1 1.2 -2.4 .7 -1.9M308.7,194.2l2.9 1 2.4 .3 2.9 1M315.2,194.5l1 2.6 .8 2.4 .1 3.6M306.1,204.9l-1.9 -.9 -3.8 -1.1 -3.6 -.8 -3.1 .3 -2.8 -.6" clip-path="url(#c2)" fill="none" stroke="#c4c4c4" stroke-width="0.6" stroke-linejoin="round" stroke-linecap="round"/>
<path d="M306.0,268.0C306.5,274.2 308.0,280.3 312.0,282.0C316.0,283.7 323.7,277.7 330.0,278.0C336.3,278.3 343.0,281.7 350.0,284.0C357.0,286.3 365.0,289.3 372.0,292.0C379.0,294.7 387.3,299.3 392.0,300.0C396.7,300.7 400.0,299.3 400.0,296.0C400.0,292.7 394.0,285.7 392.0,280.0C390.0,274.3 389.2,266.7 388.0,262.0C386.8,257.3 387.7,255.0 385.0,252.0C382.3,249.0 376.2,246.3 372.0,244.0C367.8,241.7 363.3,240.7 360.0,238.0C356.7,235.3 354.7,231.3 352.0,228.0C349.3,224.7 346.7,221.8 344.0,218.0C341.3,214.2 338.7,208.7 336.0,205.0C333.3,201.3 331.0,196.0 328.0,196.0C325.0,196.0 320.7,200.7 318.0,205.0C315.3,209.3 313.5,215.3 312.0,222.0C310.5,228.7 310.0,237.3 309.0,245.0C308.0,252.7 305.5,261.8 306.0,268.0Z" fill="#ffffff"/>
<path d="M322.9,201l-1 -2 -1.7 -.9 -2.1 -.1 -1.6 1.2 -2 -1.1 -1.8 -1.4 .6 -2.3M327.3,203l-2.3 .5 -.9 -1.6 -2.4 0 -1.3 -1.9M333.1,204l1.5 -1.3 2 .7 1.1 1.6 -1.6 1.6 -2 .2 -2.2 -.5M325.4,207.6l-2 .3 -0 2.2 -2.3 .8 -1.2 2 -2 0M328.6,206.5l-.5 2.2 -0 2.1 .2 1.8 2.5 .3 1.7 1.1M337,207l2.4 1 1.5 -1.1 1 -1.7 -.1 -2.3 -1.3 -1.6 -2.1 .6 -2.3 .1M321.2,214.3l.1 -2.2 -1.3 -2.2 -1.7 -.8 -1.1 1.4 -1.8 .4 -2.3 -1M327.8,212.2l-1.8 -1.8 -1.6 1.1 -1.4 1.6 -.7 1.8 1.3 1.6 1.2 1.8M331.2,214.5l2 -.6 .9 2.2 .9 1.8 1.3 2.1 .9 1.8 1.6 1.5M338.4,210.6l.8 -1.7 -1.6 -1 -1.9 1.6 -2.1 1.1 .5 2.3M316.6,217l1.5 2 -.8 2.2 -2 1.3 -1.9 .6 -.4 2.3 -.8 1.6 -1.8 1.4M325.5,219l-1.8 1.7 -1.4 1.2 -2.1 -.8 -2 .6 -.3 1.9 .8 2.1 -1.1 2.3M331.9,215.6l-.5 -2.1 -.1 -2.4 -1.9 -.6 -1.5 1.4 -.5 2.5 1.6 2 1.9 .6M334.3,215.9l1.6 1.6 .8 1.9 -1.7 .9 -.3 1.8M314.3,220.7l1.4 1.3 -1.4 1.8 1.1 1.9 .4 1.8 -1.8 1.3 .3 2.2M323.1,221l-.4 -1.8 -2.4 -.4 -1 -1.9 -1.2 -1.5 -1.8 1.3 -.4 1.9 -1.8 .3M328.5,223.5l1.8 1.4 1.3 2.2 -.8 2.1 -2 .8 -2.4 .6M332.8,220.6l.6 -2.5 -.1 -1.9 -1.4 -1.3 1.2 -2.1 -1.5 -1.5 -2.3 1M338.8,221.1l.4 -2.2 -1.3 -1.5 -1.8 -1.3 .5 -1.8M345.8,222.3l1.2 -1.8 -.6 -2.3 -1.1 -1.8 -2.3 -.4 -1.8 1.7M312.9,227.7l.5 1.8 -1.2 1.5 -2.2 .4 -.7 -1.8 1.1 -2.1 -1.8 -1.3 -2.4 -0M318.5,227.5l-1.5 -1.1 -.2 -1.8 .4 -2.1 1.4 -1.4 2.2 1M322.4,229.5l-1.8 .6 -2.3 -.2 -1.2 1.5 .2 2.2 -1.6 1.7 -1.5 1M329.5,226.2l-1.8 -1.6 -2.4 -.3 -.5 2.4 -.2 2.4 -1.6 1.1M336.3,229.3l-2.2 -.9 .1 -1.9 -1.1 -2.3 -2 .6M339.1,226.8l1.9 .3 2.2 -.5 2.4 .7 1.7 -1.4M346.6,228.4l-2.5 .5 -1.9 1.5 -1 2.3 -2.3 .9M352.9,229.3l1 1.5 .8 2.2 2 1.4 1.8 .7 1.9 -1.2M310.7,233.5l-.1 -1.8 -.6 -2.3 -1 -1.8 -2.1 -.2 -.7 -2 -1.9 -1.4 -1.5 -1M313.9,231.5l-.5 2.4 -1 1.5 -1.9 .5 -1.3 -2.2 -2.3 .6 -1 1.6 -2.1 -.2M321.2,230.7l-2.2 1.1 .1 2.5 1.8 .7 1.9 -.2 .5 -2.3M325.5,232.6l1.8 1.8 1.7 1.3 1.9 .8 1.9 .2 2.1 -1.1 1.6 -1M333.9,231.9l1.1 -2 .2 -2.3 -.4 -2.2 1.7 -.8M340,234.2l.9 -2.1 -1.1 -2.1 -.2 -2.1 1 -2.3M342.4,231.6l-.7 -2 -1.9 -.6 -.7 -2.5 -1.2 -1.6M351.3,231.5l1 2.3 -.9 2.4 -2.2 1.1 -1.9 -1.6 .4 -2 .3 -1.9M355.3,234.4l2.1 1.5 -1.1 2.2 -1.8 .1 -.6 1.9 -2.1 -.5 -1.1 -1.6M312.6,238.1l1.2 2.1 -1.1 2 -2.2 -.1 -2 .5 -1.2 1.5 -2.1 -.8 -1.2 1.5M320.5,238.9l.1 -2.1 .8 -1.8 1.4 -2.1 2.1 -.4 1.3 1.8 2.1 -1.1M326.8,236.7l-1.7 -1.5 -2 -.3 -1 -1.7 -.7 -1.7M332.7,235.5l2 1.6 1.6 1.3 2.4 .2 2 .7 1.2 1.5M338.1,239.2l-2.2 .2 -.8 1.7 -1.7 1.2 -1.6 1 -1.5 -1.4 -.9 -2.1 -1.5 -1.3M341.6,235.8l.9 1.7 .9 2.4 -.3 2.2 -2.3 .3M346.3,238.2l2.3 1.1 1.7 -1.6 2.5 -.3 1.6 -2 -1.5 -1.7 -2.1 -.8M353.4,236.9l-1.9 .4 -.1 2.4 1.5 1.7 2 1.5 1.1 1.5 2.3 -.2 1.7 1.7M310.7,240.9l1.8 1.5 .8 2.3 1.2 1.8 2.4 .6 1.5 1.6 -.2 2.5 1.9 .6M315.9,241.5l-1.8 .7 -2.3 .9 -1.3 -2 -1.8 -.6 -2 .2 -1.9 .5M320.1,243.3l.3 2.4 1.2 1.5 1.2 1.8 .4 2.5 1 1.9 -.3 2.5M327,244.1l1.7 -.9 1.3 1.8 .1 2.5 2.3 .8M332.9,240.8l1.9 -0 1.3 2.2 1.9 1.2 1.6 -1.6 2.5 -.5 1.5 1.3M339.5,242.7l.8 -1.8 -1.2 -1.9 0 -1.9 0 -2.2 0 -2.1 -.3 -1.9 -1.8 -.4M342.9,243.2l1.4 1.2 -.1 2.2 -2.4 .7 .3 1.8 1.5 1.1M348.3,243.2l2.4 -.9 2.1 .2 .1 2 -.2 2.1M354.7,244.4l2.2 -.1 .7 2.5 2.5 -.1 .6 -1.8 -.8 -1.9M363.1,241.1l-1.5 -1.9 -.4 -2.3 -.1 -1.9 1.9 -.3 1.8 -.6M368.7,244.4l-2 .2 -.3 2.4 -.1 2 -1.7 1.4M313.5,245.9l-.5 2.5 -2.2 .1 -1.2 -1.9 -2 -.8 -1.6 -1.3M317,246.8l-.2 2.2 -0 2.2 .2 2.5 1.5 1.2 2.5 -.2M322.6,245.5l2 -.1 1.8 0 1.9 .1 1.6 1.1 1.5 1.5 1.9 1.7 1.8 1.9M328.9,246.5l.8 -1.7 2 -.5 2.5 -.1 .7 1.8 2 .3M337.6,248.1l.2 -2.2 -1.5 -1.1 -.3 -2.1 -2.2 -.5 -2 .1 -1.6 -1.4 -1.5 -1.4M339.9,246.6l.4 -2.3 1.9 -.7 1.4 1.1 -.1 1.8 -.7 1.9 1.4 1.9 2.3 -.3M346.1,247.1l-1.9 -.9 -.1 -1.8 -1.7 -1.2 -1.3 -1.9 1 -1.8 1.9 -1.4M352.5,247.3l-1.6 -1.2 -2.3 -1 -1.8 1.7 -.4 1.8 -.6 2.2M359.3,245.6l.9 2 2.2 .3 1.6 1.9 1.9 1 -0 1.8 -.6 1.8 -2.2 .8M362.8,249.3l-.9 2.3 1.9 1.3 2.2 .7 1.6 -1.9 1.2 -1.9 1.2 -1.8 1.6 -1.5M369.3,248.8l-1.1 2.2 -1.6 1 -1.2 1.3 -.5 1.9 -1.9 0 -1.6 .8M377,247.1l-2 -.1 -1 2.3 -.5 2.2 -.7 2.3 -2.1 -.2M311.6,251.4l-2 .8 -.9 -1.6 -1.8 -.5 -2.3 1.2 -.6 2 1.2 1.3M316.8,253.7l.3 -2.1 -.2 -2.4 -2 -1.3 -2.2 1.4 .6 2.2 -1.1 2M321.4,254.1l-2.5 .7 -2.3 .7 -2.5 0 -1.8 -.7 -1.8 .9M328.1,252.2l-1.6 1.8 -.9 1.7 -.2 2.5 -.6 1.8M333.3,252l1.2 1.6 2.3 .6 1.5 1.7 1.8 -1.3 2.1 .2M340.8,251.2l1.2 1.7 1.9 -.4 -.2 -1.9 -1.4 -1.5M344.1,254.1l2.1 -1 1.7 -1.6 2.3 1 .6 2.3M350.5,250.6l.7 -2 -.4 -2 .6 -2 -1.6 -1.2 -2.3 -1.2 -1.6 1.3M355.8,252.4l1 -2.1 -1.1 -2.2 -2.1 .5 -0 2.4 .1 2.1 -1.9 .7 -2.3 -.3M363.4,251.9l-.2 -2.1 -.9 -1.9 -2.3 .1 -2.1 -1.5 -2 -1 -1.6 -1.8M370,253.9l2.4 -.5 1.9 -1.7 1.8 -.3 1.2 -1.6 -0 -2 -2.3 -1 -0 -2.2M374.6,252.2l.8 -2.4 -.8 -2.1 -1.5 -2.1 -1.5 -2.1M378.1,252.8l-1.9 .1 -1.4 2 -2.3 .3 -.6 2.3 -1.2 1.7M312.1,255.5l1.2 -1.9 2.2 .9 2.5 -.6 1.7 1.2 1.9 .7M320.2,257l1.8 -.7 2.1 1.4 .3 2.2 2.2 1.2 1.4 -2 -.5 -2.3M323.6,256l.4 2.3 1.2 2.2 1.3 1.8 -1.5 1.9 -2.2 .1M328.6,258.1l-.5 2.1 -2.1 .4 -1.2 1.5 -1.8 .5 -2.1 .7 -1.3 -2.1M335.6,257.2l.4 -2.5 -1 -1.5 -2.4 -.5 -1.9 -.3M340.4,255.6l-.9 -1.9 -2.5 0 -2 .3 -1.2 1.5M347.4,258.7l-1.1 2.1 -2.3 -.8 .2 -2.2 .8 -2 2 -1.1M351.6,258.2l.7 2.1 2.5 -.6 1.7 -.8 -.1 -2 0 -2.5 -.9 -2.1 -2 -1.4M358,255.7l-2.3 -.2 -2.5 .6 -.5 2.3 1.6 1.7 .2 1.9M363.3,258.1l.1 -2.1 .6 -2.5 -1.7 -1.1 .1 -2.3M369.4,257.2l1.4 -1.9 1.9 .9 1.5 2.1 2.3 -.1 1.8 -1.2 1.8 1.1M376.7,257.8l-.3 2 -.2 2.2 2.4 .7 1.6 1.2 -.7 2.3 -1.2 1.8M381.3,257.3l2.2 .3 2.3 .2 .5 -2 .2 -2.5M311.7,262.7l-1.6 -1.6 -.5 -2.4 -2.5 .2 -1.9 .5 -1.9 -.5 -1.6 -1.5 -.1 -1.9M314.2,260.5l1.8 -1.2 1.2 -1.5 2.2 .2 1.8 .8 2.4 -.1M321.1,261.8l2 -1.4 .2 -1.8 1.5 -1.7 -1.3 -1.8 .9 -1.6 .5 -2.3 .3 -2.5M328.3,262.5l-2.4 .3 -2.2 .7 -1.1 1.5 -2.2 .3 -1.9 1.3M333.4,263.3l-.7 2.2 1.6 1.9 -.7 2.2 1.8 1 2.3 -1.2M340,264.3l1.8 -.9 2.1 -.6 2.2 .3 .5 1.8 -.9 2.3M343,262.9l2 1.4 1 1.7 -.8 2 .3 2.1 1.1 2M350.5,262l.4 1.9 2.3 .9 .5 2.5 1.4 1.7 1.3 2.2M355.3,261l-1.8 -.6 -1.5 -1.1 -2.1 .2 -2.4 0 -1.2 1.4M363.5,262.2l1.8 -.3 2 1.1 1 1.8 .1 2.2 1.6 1.4M369.7,264l-.7 -2.1 .8 -2.3 -1.2 -1.8 .9 -2.4 -1 -2.1 -.5 -2.1 -1.2 -1.9M373.2,264l-1.6 -1.6 -2.2 -.2 -2.2 .2 -.6 -2.2M379.2,262.2l1.3 -1.4 .3 -2.5 2.5 -.5 2.2 .9 1.9 .9M384.4,262.7l1.8 -.3 .8 1.6 1.9 .4 2 .3M307.2,268.3l-0 -2.2 -1.1 -2 .3 -1.9 -.5 -1.9 1.8 -1.3 1.7 -1.6M313.6,269.2l1.4 -1.3 .9 -2 -1.7 -1.8 .6 -2M316.7,265.9l-1.4 -1.7 .3 -2.3 1.4 -1.8 -1.5 -1.6 -2.6 .1 -2 -1.4M325.1,266.6l-.6 -2 -2.2 -.3 -1.9 1.1 -2 -.5 .3 -1.9M330.5,269l-1.6 1.9 -1.7 -.8 -0 -1.8 1.4 -1.3M334.1,265.9l1 1.9 1.1 1.7 2.2 -.3 .3 -1.9 1.9 -1.3M341.8,266.2l-1.8 .6 -2 -1.1 .5 -1.9 -1.4 -1.4M345.7,266.6l2.3 .2 1.9 -1.3 -.8 -2.3 -1.9 -.3 -1.1 -1.4M353,268.9l2.2 0 .4 2 2.2 .6 1.8 .6 -.3 1.9M357.7,269l.9 1.6 1.4 1.4 .3 1.8 2.1 1 1.7 1.8 -.1 2.5 -.2 2.1M362.7,265.6l-.3 2.1 .9 1.7 -.6 1.9 1.4 1.9 -0 2 -1.7 1.6M371.6,268.1l2.3 1.2 2.2 -.5 .8 -1.8 -1.3 -1.7M376,268.4l.5 2 .3 2.5 .4 2.1 -2.2 .6M383.1,265.8l.4 -1.8 -1.6 -1 -1.8 .9 -1.2 -1.6M385.4,265.7l-1.6 2 -1.1 2 -1 1.8 -1.7 .8 -2.4 .1 -.5 -1.9 2 -1.5M308.9,271.2l2.2 .3 2.1 1.2 .5 2 -.4 2.2 -2.3 .4 -.1 2.2 1.7 1.3M313.4,274.4l-.3 2.6 -1.3 1.8 -.2 2.6 -.1 2.5 -.8 1.7 -.8 1.9M319.3,272.3l-.5 1.7 -1 2.3 1.8 1.3 -1 1.7 -.8 2.5 -1.8 1.7M327.8,274l1.1 -1.8 -.2 -2 2.1 -1.1 2.3 .6 1.5 1.3 -.8 2.3M334.3,273.5l1.4 1.9 -1.1 1.9 1.6 1.3 .9 1.7 2.5 -.7 1.5 -1.8M337,273.7l.1 2.2 1.3 2.1 -1.7 1.5 -.7 1.7M345.6,274.4l2.3 .9 .9 -1.7 1.7 -1.5 1.8 -1.2 1.4 -1.2M349.3,271.1l.2 2.3 -1.4 1.7 -2.3 1.1 -2.1 -.7M357.4,272.5l.5 -2 2.1 -.3 1.6 -1.5 0 -2.5M363.2,270.9l-2.3 -.5 -.1 -2.1 -1.4 -1.7 -2.1 -.2M368.2,271l.6 -1.9 2.4 -.8 1.7 .6 1.3 -2.1 1.8 .7 1 -1.7M373,273.4l-2.2 1.3 -1.7 -1.5 -2.4 -.4 -1.2 -2.2 -.7 -2.3 2.1 -1.1 1.4 -1.3M378.7,274.3l1.6 1.3 2.1 1.1 1.8 .2 1.7 -.7 1.3 1.7 -.8 1.7 -.1 2.4M384,272.2l2.5 .3 2.5 -.3 1.4 1.4 -.5 2.2 1.7 1.4 2.2 -1.2M390.3,272.8l2.4 .3 2.1 -.5 1.9 -.9 1.9 .7 1.9 .2 1.5 -1.5 1.9 .7M310.3,276l.4 2.6 -1.3 2.1 -1.3 2 -1.5 1.2 -2.3 -1.1 .1 -2.4 -1 -1.8M316.2,277.5l-1.4 1.2 .8 1.9 -.2 2.5 -1.3 1.2 -2 .8 -1.8 1 -2.1 -1.1M322.1,276.9l1.4 1.9 1.7 -.8 2.1 .4 1.7 1.7 1.1 2.1M328.3,278.2l-1.5 1.7 -2 .5 -.8 2.3 -.1 2.2M336.5,276l.4 -2.5 -.4 -2.5 -.1 -2.4 -2.1 -.4M341.5,277.4l-1.4 -1.8 -1.8 .1 -.3 2.1 .7 2.1 -.6 2 -.7 2.1 .8 1.7M346.4,278.7l-.2 -2.1 -.4 -2.4 .8 -1.7 1.3 -1.6 2.3 1M350.8,277.3l.5 2.1 -2.1 .8 .3 1.9 -2 .8M358.2,277.8l-1.7 -1.5 -.2 -2.5 -2.3 -.2 -.3 1.8 .7 2.4 1.5 1.8 -.4 2.1M364.6,278.3l-.5 -2.4 2.4 -.9 -.5 -2.1 -1.1 -1.5 1.2 -1.4 .6 -2.1M369.5,279.1l.8 -1.7 1.7 -.9 2.3 -.2 1.8 -.5 2.1 -1.4M376.2,278.9l-1.3 1.8 -2.3 -.3 -1.8 -0 -1.2 -2.2M383.1,278.1l1.2 -1.5 1.3 -1.6 -.5 -2.5 -.8 -1.8 -2.1 -1.5M384.9,277.1l-1.3 -1.3 -1.6 1.1 -1.9 -.7 -2.5 -.7 -1.9 -.4 -1.9 .2 -1 -1.7M390.9,278.4l1.7 2 1.8 1 .1 2.4 -.5 2.1 -.2 2.1 1.8 .5M343.5,280.9l-1.1 -1.7 1.5 -1.4 1.2 -1.9 -1.2 -1.4 -2.2 -.3M347.4,281.8l-.1 2.5 -1.3 2.1 -2 -.9 -1.6 1.2 -.6 2.3M356.2,281.9l-1.1 2 1.7 1.8 -1 1.7 -.2 2.1 -1.8 1.7 -1.8 .8M362.2,280.7l1.9 -.9 2.2 -1.4 2.2 .4 1.8 -1.7 2.5 .7 1.7 -1.6M366.6,284.1l-1.8 -1.3 -1.1 -2 -1.9 -.1 -2.4 .1 -1.6 -1.1 -2.5 -.5 -1.8 -.3M374.2,281.1l-1.1 -1.8 -2 -.4 -.1 -2 -1.8 -.3 -1.9 -0 -1.6 -1.8 -1.4 -2M377.3,283.1l-.8 -1.7 -2 -.1 -.5 2.1 -1.9 1.5 1.1 2.3M385.6,281.6l-.8 2.1 -1.6 1.4 -2.3 -.4 -1.6 -1 -2.2 -1 .6 -2.5M390.9,283.5l1.9 .3 2.3 -.4 2.2 .1 1.4 1.9 2.2 -.8 -.3 -2.3 -.7 -2.1M364.4,286.2l-1.2 -2 -1.9 -.7 -2.1 -.7 -.9 -1.9 -1.8 .3M370.1,285.8l-2.1 -.3 -1.3 1.9 -2.2 .2 -1.6 -1.6 0 -2.1 -.2 -2.2M375.9,288.6l1.7 1.1 1.6 -1.6 -1 -1.6 1.5 -1.6 -.1 -2 -2.4 -.9M382.5,287l-1.8 -.8 -1.7 1.6 -.7 2 -2 -.3 -1.5 1.9 -1.9 -.2M386,285.6l-0 2.4 -1.7 .7 -1.2 1.7 -1.9 1.6 -2 1M394.3,285.8l-1.3 -1.6 1.1 -2.1 -1.7 -1.3 -1.8 .6M381.4,292.1l-1.5 1.6 -2.4 -.6 -1.6 2 -1.7 1.7 -1.6 1.1 -2.1 -.2M385.1,294.1l-1.7 -.9 -.7 -1.6 -1.8 -.5 -1.1 -2.3 -1.8 .3 -1.3 2.1M391.3,291.1l-1.7 1 -1.6 .9 -1.7 -.9 -2.2 1.1 -1.9 -.8M397.3,291.1l-1.1 1.9 -.9 2.4 -.9 1.8 .1 2.1 -1.1 2.2M389.5,297.5l.2 2.2 .6 2.2 -1.3 1.5 -2.3 -.6 -.2 -2 -2.2 -.4M392,299.2l-.8 -2.4 .8 -1.8 2.1 -.2 2.2 -.8 1.9 -1.3" clip-path="url(#c3)" fill="none" stroke="#bdbdbd" stroke-width="0.7" stroke-linejoin="round" stroke-linecap="round"/>
<path d="M405.0,345.0C412.0,344.3 425.3,346.5 432.0,345.0C438.7,343.5 440.7,338.5 445.0,336.0C449.3,333.5 454.5,330.7 458.0,330.0C461.5,329.3 463.7,329.8 466.0,332.0C468.3,334.2 470.0,339.7 472.0,343.0C474.0,346.3 480.0,349.5 478.0,352.0C476.0,354.5 466.3,356.8 460.0,358.0C453.7,359.2 447.8,359.7 440.0,359.0C432.2,358.3 421.3,355.7 413.0,354.0C404.7,352.3 391.3,350.5 390.0,349.0C388.7,347.5 398.0,345.7 405.0,345.0Z" fill="#ffffff"/>
<path d="M450.2,335.5l-1.1 -2.5 -1.1 -2.4 -.6 -2.1 -.8 -2.2 .6 -3.4 -.9 -2M457.9,333.7l-.6 -2 0 -2.6 -.1 -2.5 0 -2.1 .3 -3.2 -1 -1.9M461.4,333.6l-3.5 -.1 -3 1.6 -2 .2 -2.5 1.2 -1.4 1.8M468.5,336.5l2.3 -1.7 3 -1.7 2.7 -.4M444.8,339.6l-1.8 1.9 -1.3 1.7 -2 1 -1.4 3.1 -2.9 1.5 -3.5 .1M450.7,341.4l-2.1 -1.1 -3.1 -1.5 -1.2 -1.7 -1.2 -3.2 -.6 -2 .5 -2.6M456.7,341.9l1.8 -.8 2 -.4 2.9 1.6M462.5,340.5l1.6 -1.8 2.3 -.5 3 .2M468.7,339.5l3.3 -.2 2.4 1.1 2.4 .9 1.2 1.7 3.1 1.5M405.1,345.9l.7 -2.3 2.1 -2.8 3.1 -.8 2.8 -1.3 2.3 -2.3 3.1 -.4M409.9,347l2.4 1.2 1.6 1.3 3.1 .8M416,347.6l-2.8 .7 -2.3 -.1 -3 .4M423.1,345.5l.1 -2.5 .3 -3.5 -1.5 -2.5 -1.9 -2.8 -.4 -2.7M432.3,344.8l-1.7 1.9 -2.2 .5 -2 -.4 -2 -.5 -2.8 .8M439.2,345.2l-2.2 .3 -2.9 1.6 -2.4 .8 -3.3 1 -1.4 1.5M444.8,344.8l.8 -2 1.8 -1.5 1.8 -2.2 .5 -3.1M452.6,346.7l1.9 1 2.4 1.5 1 2.7 1.5 1.5M459.3,345.5l2.4 2.2 1.5 1.8 .2 2.2M462.3,345.7l-1.4 -1.7 -2 -2.6 -2.5 -1.2 -1.6 -1.5 -2.4 -1.4M469.9,345.8l.7 2.4 0 3.4 1.1 2.1M404.2,350.4l.2 -2.4 -.6 -2.4 -2.3 -2.6 -2.2 -.7 -2 -1.1 -2.4 -.2M406.4,351.6l-1.1 -1.7 -1.8 -1.5 -2 -1 -2.4 .4 -2.3 1.6M414.7,349.7l-3.1 .2 -2.2 .2 -2.7 1.5 -2.3 2.5M418.7,351l-1.5 -2.3 -1.8 -2 -2.2 -2.7M425.9,352l3.2 1.5 2.2 -.4 2 -1.4M432.4,351.7l3.3 .1 1.8 -1.2 2.1 -1 2.7 -.6M438.5,352.2l-2.2 1.2 -2.3 1.7 -2.2 .9 -1.8 1.4 -1.3 3.2 .5 3.2M443.7,350.6l3.2 1.2 2.5 -.7 3.1 1 3 1.4 2.1 -0 3.3 -1M448.1,350.6l.6 2.1 2.6 2.3 2.3 .1M456.1,350l-2.6 -1.3 -1.3 -1.6 -1.2 -1.7 -.2 -2 -1.7 -2.1 -1 -1.8M458.8,349.9l3.1 .8 2 1.5 3.3 1 2.6 2.3M467.7,351.3l.7 -3.1 .5 -2.3 .4 -2 1.1 -2.3M473.1,350.7l-1.1 2.4 -.9 1.8 -1 3.3 -1 3.3 .7 1.9M476,351.6l2.9 -.2 2.5 -.6 1.9 -1.8 .9 -3.1 .9 -2.4M418.4,354.6l1.9 -1 2.6 .2 3.4 -.5 2.2 -2 1.5 -3 .1 -2.2M427.2,354.8l-.7 2.4 -2.7 2.1 -1.8 2.4 -.2 2.7M432.9,354.8l2.3 -.9 2.4 -1.8 1.1 -2.2 1.6 -2.3 .4 -2.3 .5 -3.3M440.3,355.7l-.4 2.4 1.3 3.2 .9 2.3 2.4 2.5 .5 2.6 -1.2 2.9M446,356.6l1.8 -2.3 1 -2.4 2.1 -1.2 2.1 -2.4 1.3 -2.1M451,356.6l2.4 -0 1.7 1.1 1.9 1.2 2.3 0 1.6 1.2 1.7 2.3M458.3,354.1l2.9 -1.5 2.5 -1.1 1.5 -1.6 2 -.6M461.2,353.7l1 -2.5 -.4 -2.1 -1.6 -2.6 -2.2 -1.5 -2 -.8 -2.7 -.5" clip-path="url(#c4)" fill="none" stroke="#c2c2c2" stroke-width="0.6" stroke-linejoin="round" stroke-linecap="round"/>
<path d="M444.0,282.0C450.2,279.3 457.3,277.7 462.0,276.0C466.7,274.3 469.3,270.5 472.0,272.0C474.7,273.5 477.0,280.3 478.0,285.0C479.0,289.7 479.3,296.7 478.0,300.0C476.7,303.3 473.8,303.3 470.0,305.0C466.2,306.7 460.0,309.2 455.0,310.0C450.0,310.8 444.2,311.7 440.0,310.0C435.8,308.3 432.5,303.0 430.0,300.0C427.5,297.0 422.7,295.0 425.0,292.0C427.3,289.0 437.8,284.7 444.0,282.0Z" fill="#ffffff"/>
<path d="M466.9,279.1l.6 -2 1.8 -1.2 2.3 -.9 2 -.8 1.9 1M472,277.4l.4 -2.2 1.8 -.1 .8 -1.8 2.3 .4M446.3,282.6l.8 1.7 1.6 1 1.2 1.7 1.6 1.9 -.3 2.4 -1.8 .9M453.2,282.1l2.5 .2 1.4 1.5 2.1 -1.3 1.4 1.3 1.6 1.5 -1.1 1.5M459.7,282.9l-2.3 .6 -1.1 1.5 1.6 1.4 .8 1.9 1.7 1.5 .6 2.2 1.8 1.7M465.7,284.2l2.3 .2 .5 1.7 1.9 1.2 1.7 1.2 2.2 -.3 1.8 -.3M468.7,284.3l1.6 -2 2.1 -.5 1.6 1.9 1.9 .8M476.1,283l-1.9 -.9 -.5 -1.7 1 -1.6 2.1 -1.3M437.8,287.7l1.7 1.5 -.3 2.3 -2.1 .4 -2.2 -.3 -.1 -1.8 -1.3 -2 -1.6 -1.1M445.3,287.9l.5 2.3 2.1 1 .6 2.3 .3 2.5M447.7,289l1.9 .7 .9 1.7 -.4 1.9 1.7 1.9 -1.1 1.9 .8 1.7 2 .9M455.5,289.5l-2.4 .7 -.7 2.2 -2.3 -.4 -1.8 -.1 -2.2 .2 -1.5 -1.5 .2 -2.1M461.7,286.2l2.4 -.7 1.7 -1.7 1.2 -1.5 1.9 .3 2 .6 1.4 -1.6 .5 -2.5M465.4,289.3l-.2 1.9 -2.2 .7 -1.3 1.9 -1.9 -.5 -1.5 -1.4 -2.5 .7 -.9 -2.1M471.8,287.3l-1.8 -1.6 -1.9 -1.4 -2.3 -.8 -.3 -2.4 -1.3 -1.7 1.5 -1.5 1.8 -.6M476.9,288.3l.3 1.9 .1 2 1.7 1.4 -1.3 2.1M429.3,292.1l1.8 -1.8 1.8 -1.3 2.4 .5 1.6 1.7 -.3 1.8M434,292l-1.8 1.4 -1.9 .8 -1.6 1.7 -1.9 -.9 -1.3 2.1 -2.4 -.4M440.6,290.8l1.7 -.9 -.4 -1.8 .4 -2.4 .6 -2.1 -1.5 -1.6 1.1 -2.3 1.8 .3M445.7,292.6l-2.2 -.1 -1.2 1.9 -2.2 .3 -2.1 -1 -1.9 -.9 -2.3 .8 -1.2 -2.3M453.8,293.2l-2.4 .1 -2.1 -.2 -.4 -2.2 1.9 -.8M458.7,294.1l2 -.4 2.2 -.9 1.8 -1.4 2 -.6M464.7,293.5l-.2 -1.9 2.3 -1.1 -.1 -2.1 -1.6 -1 -1.5 -1.6 -2.1 .6M468.3,293.2l-1.4 -2.2 1.1 -1.8 -1.3 -1.6 -2.5 .2M475.8,293.5l-2.3 .6 -1.9 -.1 -1.7 1.6 -1.4 1.8 -2.3 -.5 -.7 -2 -2 .1M433.2,296.4l1.8 .9 .3 2.1 1.9 1.2 2.1 .7 .4 1.8 1.9 -.2M438.8,299.5l1 2.2 1.2 1.9 -1.7 1.6 -1.1 2.3 -1.8 .5 -2 .5 -1.4 1.6M443.2,296.5l1.9 .8 2.5 -.2 1.9 .6 1.7 -1.3 .6 -1.7M450.3,296.5l-1.3 1.3 .3 2.5 1.2 2.1 .1 2.5 1.7 1.6 -.6 1.7M452.9,299l.8 -2.2 1.6 -1.9 2.4 .4 .7 1.7M460.5,299.2l1.5 2 -1.6 1.7 -1.7 -.6 -1.4 1.5M466.7,297.3l1.7 -1 1.7 1.7 -1.5 1.9 -1.6 1.9 .7 1.7M473.4,295.9l.1 -2.2 -.6 -1.8 -1.8 -.4 -1.8 -.6 -.1 -2.5M477.4,297.8l.1 -2.1 -2 -1.5 -1.9 1.6 -1.4 2 -.7 2.5M433.6,303.4l-.9 1.9 .4 2.2 1.6 1.7 .3 2 .4 2.2M442.2,303.8l-2.2 .3 -1.8 -.6 -1.8 1 -1.5 1.3 -1.6 .9 -1.6 1.4 -1.8 .8M446.1,304.3l1.4 1.6 -.8 2.2 2.1 1.3 -.8 2.2 -1.1 1.9 -2.4 -.4 -.3 -2.1M453.2,300.9l1.4 1.8 .7 2 2.4 .7 1.5 -1.9 .4 -2.4M458.9,300.6l1.3 -1.4 1 -1.7 1.7 -1.6 2.1 -1.4 2.2 -.1M464.9,302.2l1.7 1.3 1.1 1.6 2.3 -1.2 2.2 -1M471,302.3l-2.2 -.1 -2 -1.3 -2.6 .2 -1.9 1.6 .6 1.7M441.2,306.5l-2.3 .3 -.6 -2 -2.4 -.2 -.8 -2.1 -2.1 -.9 -2 .7M449.1,308.5l1.8 1.3 .8 1.8 1.4 1.3 -0 2.1 1.7 1.3 2.3 -.9 2.1 .2M455.4,307.6l2.1 .3 .6 1.9 2.1 -.4 2.3 .4 .5 -1.7 1.9 -1.7 1.8 -1.6M458.3,307.4l2.5 -.6 2.1 .2 1.5 1.6 -.4 2.2" clip-path="url(#c5)" fill="none" stroke="#c0c0c0" stroke-width="0.6" stroke-linejoin="round" stroke-linecap="round"/>
<path d="M302.0,138.0C302.7,141.7 304.8,152.2 306.0,160.0C307.2,167.8 308.5,180.8 309.0,185.0" fill="none" stroke="#b0b0b0" stroke-width="0.6"/>
<path d="M307.5,138.0C308.1,140.3 309.8,147.5 311.0,152.0C312.2,156.5 314.3,162.8 315.0,165.0" fill="none" stroke="#b0b0b0" stroke-width="0.6"/>
<path d="M314.0,138.0C314.7,139.7 316.7,144.3 318.0,148.0C319.3,151.7 320.2,155.5 322.0,160.0C323.8,164.5 326.7,170.8 329.0,175.0C331.3,179.2 334.8,183.3 336.0,185.0" fill="none" stroke="#b0b0b0" stroke-width="0.6"/>
<path d="M317.0,138.0C318.0,140.0 321.0,146.0 323.0,150.0C325.0,154.0 327.0,158.3 329.0,162.0C331.0,165.7 334.0,170.3 335.0,172.0" fill="none" stroke="#b0b0b0" stroke-width="0.6"/>
<path d="M321.0,138.0C321.8,139.7 324.2,144.3 326.0,148.0C327.8,151.7 329.8,156.3 332.0,160.0C334.2,163.7 337.8,168.3 339.0,170.0" fill="none" stroke="#b0b0b0" stroke-width="0.6"/>
<path d="M312.0,200.0C312.7,202.5 314.7,211.3 316.0,215.0C317.3,218.7 319.3,220.8 320.0,222.0" fill="none" stroke="#b0b0b0" stroke-width="0.6"/>
<path d="M298.8,138.0C299.3,140.0 301.0,145.7 302.0,150.0C303.0,154.3 304.0,157.9 304.9,163.7C305.8,169.5 306.8,178.9 307.5,185.0C308.2,191.1 308.9,195.2 309.3,200.0C309.7,204.8 309.7,211.7 309.8,214.0" fill="none" stroke="#333" stroke-width="0.75"/>
<path d="M304.9,138.0C305.5,140.2 307.4,146.7 308.7,151.0C310.0,155.3 311.3,159.4 312.6,163.7C313.9,167.9 314.9,172.1 316.3,176.5C317.7,180.9 320.4,187.8 321.2,190.0" fill="none" stroke="#333" stroke-width="0.75"/>
<path d="M310.3,138.0C310.8,138.8 312.2,141.0 313.2,142.9C314.2,144.8 315.1,146.0 316.2,149.5C317.3,153.0 318.6,158.9 319.8,163.7C321.0,168.4 322.3,173.6 323.5,178.0C324.7,182.4 325.4,185.4 327.0,190.0C328.6,194.6 330.9,200.6 333.1,205.4C335.3,210.2 337.8,214.9 340.0,219.0C342.2,223.1 344.4,226.8 346.5,230.0C348.6,233.2 350.0,234.1 352.4,238.4C354.8,242.7 357.6,248.9 361.0,255.8C364.4,262.7 370.7,276.0 372.6,280.0" fill="none" stroke="#333" stroke-width="0.75"/>
<path d="M318.0,138.0C318.7,139.3 320.5,143.0 322.0,146.0C323.5,149.0 325.3,152.7 327.0,156.0C328.7,159.3 330.3,163.0 332.0,166.0C333.7,169.0 336.2,172.7 337.0,174.0" fill="none" stroke="#aaa" stroke-width="0.6"/>
<path d="M336.0,176.0C337.2,173.0 338.8,171.6 342.0,170.0C345.2,168.4 348.7,167.0 355.0,166.5C361.3,166.0 370.8,166.2 380.0,167.0C389.2,167.8 401.4,169.9 410.0,171.0C418.6,172.1 425.3,172.4 431.7,173.5C438.1,174.6 443.4,176.0 448.3,177.5C453.2,179.0 457.6,180.4 461.0,182.5C464.4,184.6 466.8,187.4 468.5,190.0C470.2,192.6 470.6,194.5 471.2,198.0C471.8,201.5 472.1,206.6 472.2,211.0C472.3,215.4 472.3,220.5 471.6,224.5C470.9,228.5 469.6,232.4 468.2,235.0C466.8,237.6 465.4,238.3 463.5,240.0C461.6,241.7 460.3,243.3 456.6,245.0C452.9,246.7 446.0,249.0 441.3,250.0C436.6,251.0 432.4,251.0 428.3,251.2C424.2,251.4 420.7,251.1 416.8,251.2C412.9,251.2 408.6,251.5 405.0,251.5C401.4,251.5 399.5,251.7 395.3,251.4C391.1,251.1 384.6,250.9 380.0,249.5C375.4,248.1 371.7,245.7 368.0,243.0C364.3,240.3 361.3,237.3 358.0,233.5C354.7,229.7 351.6,225.0 348.3,220.0C345.0,215.0 340.5,208.6 338.3,203.3C336.1,198.0 335.4,192.6 335.0,188.0C334.6,183.4 334.8,179.0 336.0,176.0Z" fill="#787878" stroke="#555" stroke-width="0.6"/>
<path d="M340.8,182.5C341.5,181.1 341.8,179.1 345.0,178.3C348.2,177.5 355.6,176.9 360.0,177.5C364.4,178.1 367.8,180.9 371.7,181.7C375.6,182.5 380.2,182.2 383.3,182.5C386.4,182.8 386.9,182.8 390.0,183.3C393.1,183.9 397.0,185.4 401.7,185.8C406.4,186.2 413.3,185.4 418.3,185.8C423.3,186.2 427.5,187.5 431.7,188.3C435.9,189.1 440.0,189.7 443.3,190.8C446.6,191.9 449.2,193.2 451.7,195.0C454.2,196.8 456.6,198.9 458.3,201.7C460.0,204.5 461.0,209.0 461.7,211.7C462.4,214.4 462.5,216.0 462.5,218.0C462.5,220.0 462.8,221.9 461.9,223.9C461.0,225.9 459.6,228.4 457.4,230.2C455.2,232.0 451.2,233.4 448.5,234.6C445.8,235.8 443.2,236.6 441.0,237.5C438.8,238.4 437.3,239.2 435.1,240.0C432.9,240.8 429.9,241.8 428.0,242.5C426.1,243.2 425.1,243.9 423.5,244.0C421.9,244.1 420.4,243.4 418.3,243.0C416.2,242.6 413.4,241.8 410.6,241.5C407.8,241.2 404.2,241.1 401.7,241.0C399.1,240.9 397.9,240.9 395.3,240.7C392.7,240.4 389.1,240.4 386.0,239.5C382.9,238.6 379.9,237.6 377.0,235.5C374.1,233.4 371.4,230.4 368.3,227.0C365.2,223.6 361.4,218.7 358.3,215.0C355.2,211.3 352.2,208.3 350.0,205.0C347.8,201.7 346.5,198.1 345.0,195.0C343.5,191.9 341.5,188.8 340.8,186.7C340.1,184.6 340.1,183.9 340.8,182.5Z" fill="none" stroke="#f4f4f4" stroke-width="2.6"/>
<path d="M340.8,182.5C341.5,181.1 341.8,179.1 345.0,178.3C348.2,177.5 355.6,176.9 360.0,177.5C364.4,178.1 367.8,180.9 371.7,181.7C375.6,182.5 380.2,182.2 383.3,182.5C386.4,182.8 386.9,182.8 390.0,183.3C393.1,183.9 397.0,185.4 401.7,185.8C406.4,186.2 413.3,185.4 418.3,185.8C423.3,186.2 427.5,187.5 431.7,188.3C435.9,189.1 440.0,189.7 443.3,190.8C446.6,191.9 449.2,193.2 451.7,195.0C454.2,196.8 456.6,198.9 458.3,201.7C460.0,204.5 461.0,209.0 461.7,211.7C462.4,214.4 462.5,216.0 462.5,218.0C462.5,220.0 462.8,221.9 461.9,223.9C461.0,225.9 459.6,228.4 457.4,230.2C455.2,232.0 451.2,233.4 448.5,234.6C445.8,235.8 443.2,236.6 441.0,237.5C438.8,238.4 437.3,239.2 435.1,240.0C432.9,240.8 429.9,241.8 428.0,242.5C426.1,243.2 425.1,243.9 423.5,244.0C421.9,244.1 420.4,243.4 418.3,243.0C416.2,242.6 413.4,241.8 410.6,241.5C407.8,241.2 404.2,241.1 401.7,241.0C399.1,240.9 397.9,240.9 395.3,240.7C392.7,240.4 389.1,240.4 386.0,239.5C382.9,238.6 379.9,237.6 377.0,235.5C374.1,233.4 371.4,230.4 368.3,227.0C365.2,223.6 361.4,218.7 358.3,215.0C355.2,211.3 352.2,208.3 350.0,205.0C347.8,201.7 346.5,198.1 345.0,195.0C343.5,191.9 341.5,188.8 340.8,186.7C340.1,184.6 340.1,183.9 340.8,182.5Z" fill="#d6d6d6"/>
<path d="M356.8,180.3Q355,180.1 354.1,180.4Q353.3,180.6 352.5,181.1Q351.7,181.5 350.8,181.8Q350,182 349.1,181.9Q348.2,181.9 347.4,181.5Q346.5,181.2 345.8,180.6L345.1,180.1M363.5,179.5Q365.2,178.8 366,178.4Q366.9,178 367.7,177.7Q368.5,177.3 369.4,177.1Q370.2,176.8 371.1,176.5Q371.9,176.1 372.7,175.8Q373.6,175.4 374.4,175.1L375.2,174.8M346.9,183Q346,181.4 345.8,180.6Q345.7,179.7 345.7,178.8Q345.7,177.9 345.6,177Q345.5,176.1 345.6,175.2Q345.7,174.3 345.4,173.4Q345.2,172.6 344.8,171.8Q344.3,171 343.8,170.2Q343.3,169.5 343,168.7L342.7,167.8M352.5,187.2Q352.6,189 352.3,189.9Q352.1,190.7 351.5,191.4Q351,192.2 350.7,193Q350.4,193.9 350.4,194.8Q350.3,195.7 350.2,196.6Q350,197.5 349.6,198.2Q349.1,199 348.4,199.6Q347.8,200.2 347,200.7Q346.2,201.2 345.4,201.4L344.5,201.7M360.7,186.5Q362,185.3 362.8,184.9Q363.6,184.4 364.4,184.2Q365.3,184 366.2,183.9Q367.1,183.8 368,183.8Q368.9,183.9 369.7,184.2Q370.6,184.6 371.4,184.7Q372.3,184.9 373.2,184.9Q374.1,185 375,184.7Q375.9,184.5 376.7,184.1L377.5,183.7M364.1,182.6Q362.4,183.2 361.7,183.6Q360.9,184.1 360.1,184.5Q359.3,185 358.6,185.5Q357.8,186 357.2,186.7Q356.6,187.3 356.1,188.1Q355.7,188.8 355.3,189.7Q354.9,190.5 354.6,191.3Q354.3,192.2 354.2,193Q354.1,193.9 354.2,194.8Q354.3,195.7 354.5,196.6Q354.8,197.5 355.1,198.3L355.3,199.2M374.7,183.7Q375.7,185.2 375.9,186.1Q376.1,186.9 376,187.8Q375.9,188.7 375.7,189.6Q375.5,190.5 375.1,191.3Q374.7,192.1 374.1,192.8Q373.6,193.5 372.8,193.9Q372,194.4 371.3,195Q370.7,195.6 370.3,196.4Q369.9,197.2 369.3,197.9Q368.7,198.5 367.9,198.9L367.1,199.3M383.1,185Q384.8,184.4 385.7,184.4Q386.6,184.3 387.5,184.5Q388.4,184.6 389.2,184.9Q390.1,185.2 390.9,185.7Q391.6,186.1 392.2,186.8Q392.8,187.5 393.1,188.4Q393.5,189.2 393.7,190.1Q393.8,191 393.7,191.9Q393.6,192.7 393.4,193.6L393.1,194.5M389.9,186.4Q388.7,185.1 388.3,184.3Q387.8,183.5 387.6,182.7Q387.4,181.8 387.4,180.9Q387.5,180 387.9,179.2Q388.2,178.4 388.3,177.5Q388.4,176.6 388.2,175.7Q388.1,174.8 388.1,173.9L388.2,173M396.4,187.4Q398.2,187.3 399.1,187.5Q400,187.6 400.9,187.8Q401.7,188.1 402.6,188.2Q403.5,188.2 404.4,188.4Q405.3,188.5 406.1,188.9Q406.9,189.4 407.6,189.9Q408.4,190.4 409,191.1L409.6,191.7M410.6,185.8Q409.7,184.3 409.1,183.6Q408.6,182.8 407.9,182.3Q407.1,181.8 406.3,181.4Q405.5,180.9 404.6,180.8Q403.8,180.8 402.9,180.9Q402,181.1 401.2,181.5Q400.4,181.9 399.6,182.4L398.9,182.9M348.9,189.1Q347.2,189.8 346.6,190.5Q346,191.1 345.6,191.9Q345.2,192.7 345.1,193.6Q344.9,194.5 345.1,195.4Q345.3,196.3 345.8,197.1Q346.3,197.8 347,198.4Q347.6,199 348.5,199.3L349.3,199.6M353.7,190.1Q355.4,190.7 356.2,191.2Q357,191.7 357.7,192.1Q358.5,192.6 359.3,193.1Q360,193.6 360.8,193.9Q361.7,194.3 362.5,194.6Q363.3,194.9 364.2,195.1Q365.1,195.2 366,195.1Q366.9,195.1 367.8,195.1L368.7,195.1M363.6,191.2Q364.6,192.8 365.2,193.4Q365.9,194 366.7,194.4Q367.4,194.9 368.3,195.1Q369.2,195.3 370.1,195.3Q371,195.3 371.9,195.2Q372.8,195.1 373.6,194.7Q374.5,194.4 375.3,194.3Q376.2,194.2 377.1,194.4L378,194.6M372,191.4Q373.3,190.2 374.1,189.8Q374.9,189.3 375.7,189Q376.5,188.6 377.3,188.1Q378,187.6 378.9,187.3Q379.7,186.9 380.6,186.6Q381.4,186.4 382.2,185.9Q382.9,185.4 383.6,184.8Q384.3,184.2 385,183.7Q385.8,183.3 386.6,182.9L387.4,182.4M377.1,189.3Q377.3,191.1 377.1,192Q376.9,192.9 376.6,193.7Q376.2,194.6 375.8,195.4Q375.3,196.1 374.8,196.8Q374.2,197.5 373.5,198.1Q372.8,198.7 372.2,199.4Q371.6,200 371.1,200.8Q370.6,201.5 370.1,202.3Q369.7,203.1 369.5,204L369.3,204.8M384.7,191.7Q386.5,191.6 387.4,191.5Q388.3,191.3 389.2,191.1Q390.1,190.9 391,190.9Q391.9,190.9 392.7,190.7Q393.6,190.6 394.5,190.3Q395.3,190 396.2,189.6Q397,189.3 397.8,189Q398.7,188.7 399.5,188.3Q400.3,187.9 401.1,187.4Q401.8,186.9 402.6,186.6Q403.5,186.3 404.4,186.1L405.2,185.9M389.7,192.5Q391.4,191.8 392.2,191.5Q393,191.2 393.9,191Q394.8,190.8 395.7,190.6Q396.6,190.5 397.5,190.4Q398.4,190.3 399.3,190.3Q400.2,190.3 401,190.1Q401.9,189.9 402.8,189.9Q403.7,189.8 404.6,189.8Q405.5,189.8 406.4,189.9Q407.3,190.1 408.2,190.2Q409.1,190.2 410,190.2L410.9,190.1M399.5,192Q398.3,193.3 397.6,193.8Q396.9,194.3 396,194.7Q395.2,195 394.3,195.3Q393.5,195.5 392.6,195.5Q391.7,195.5 390.8,195.3Q389.9,195 389.2,194.5Q388.4,194.1 387.7,193.6Q387,193 386.1,192.7Q385.3,192.4 384.4,192.2Q383.5,192.1 382.6,192.2Q381.7,192.2 380.9,192.6L380,192.9M404.4,192Q403.2,190.7 402.5,190.1Q401.8,189.5 401,189.1Q400.2,188.7 399.3,188.5Q398.5,188.3 397.6,188.2Q396.7,188.2 395.8,188.2Q394.9,188.2 394,188.3Q393.1,188.4 392.2,188.6L391.3,188.8M415.3,190.8Q413.7,190 413,189.5Q412.2,189 411.4,188.6Q410.7,188.1 409.8,187.8Q409,187.5 408.1,187.4Q407.2,187.2 406.3,187.3Q405.4,187.3 404.5,187.4Q403.6,187.5 402.7,187.7Q401.8,187.8 401,188.1Q400.1,188.4 399.3,188.9Q398.5,189.3 397.8,189.9L397.2,190.4M419.4,192.2Q420.9,191.2 421.8,190.8Q422.6,190.4 423.4,190.2Q424.3,189.9 425.2,189.7Q426,189.5 426.9,189.2Q427.7,188.9 428.5,188.4Q429.3,188 430.2,187.7Q431,187.5 431.9,187.3Q432.8,187.1 433.6,186.7Q434.4,186.3 435.2,185.8Q435.9,185.3 436.5,184.6L437.1,184M428,190.6Q427.7,192.4 427.8,193.3Q427.8,194.2 427.7,195.1Q427.6,196 427.3,196.8Q426.9,197.6 426.3,198.3Q425.7,199 424.9,199.4Q424.2,199.9 423.6,200.6Q423,201.3 422.7,202.1Q422.4,203 422.2,203.9Q422,204.7 422,205.6Q422,206.5 421.7,207.4Q421.5,208.3 421.1,209.1L420.7,209.9M433.2,188.8Q433.6,190.6 434,191.4Q434.3,192.2 434.9,192.9Q435.5,193.6 435.8,194.5Q436.1,195.3 436.2,196.2Q436.2,197.1 436.1,198Q436,198.9 436,199.8Q436,200.7 436.2,201.6Q436.5,202.4 436.5,203.3Q436.6,204.2 436.9,205.1L437.2,205.9M353.2,199.5Q351.4,199.9 350.5,199.9Q349.6,199.9 348.8,199.5Q348,199.1 347.4,198.5Q346.7,197.8 346.3,197Q345.9,196.2 345.6,195.4Q345.3,194.5 345.2,193.6Q345.2,192.7 345.3,191.8Q345.5,191 345.4,190.1L345.3,189.2M360.7,199.3Q359.4,198.1 358.6,197.6Q357.9,197.2 357,196.8Q356.2,196.5 355.3,196.3Q354.4,196 353.6,195.9Q352.7,195.7 351.8,195.5Q350.9,195.3 350,195.1L349.2,194.8M364.6,199.9Q363.3,198.6 362.9,197.8Q362.5,197 362.3,196.1Q362.1,195.3 362.2,194.4Q362.3,193.5 362.1,192.6Q361.8,191.7 361.4,190.9Q361,190.1 360.5,189.4Q359.9,188.7 359.2,188.2Q358.5,187.6 357.6,187.3Q356.8,187 356.1,186.4L355.5,185.8M370.9,199.5Q372.2,198.2 373,197.8Q373.8,197.4 374.7,197.4Q375.6,197.3 376.5,197.6Q377.3,197.8 378.1,198.2Q378.9,198.7 379.4,199.4Q379.9,200.1 380.3,201L380.7,201.8M379.8,196.3Q378.7,197.8 378.3,198.6Q377.9,199.4 377.5,200.2Q377,201 376.4,201.7Q375.9,202.3 375.2,202.9Q374.5,203.5 373.7,203.9Q372.8,204.2 371.9,204.3Q371,204.4 370.1,204.3Q369.3,204.3 368.4,203.9L367.6,203.6M390.1,196.3Q389.3,194.8 388.7,194.1Q388.1,193.4 387.9,192.5Q387.6,191.7 387.7,190.8Q387.8,189.9 388.2,189.1Q388.5,188.2 388.7,187.4Q388.8,186.5 388.7,185.6L388.6,184.7M397.7,195.9Q399.5,196 400.4,195.8Q401.3,195.6 402.1,195.1Q402.9,194.7 403.5,194.1Q404.1,193.4 404.4,192.6Q404.8,191.7 405.3,191Q405.9,190.3 406.6,189.7Q407.2,189.1 408.1,188.9Q409,188.6 409.9,188.7Q410.8,188.7 411.6,189Q412.5,189.3 413.1,189.9Q413.8,190.5 414.6,190.9L415.4,191.2M400.2,198.5Q402,198 402.7,197.6Q403.5,197.1 404.2,196.5Q404.9,196 405.4,195.2Q405.9,194.5 406.3,193.7Q406.8,192.9 407,192Q407.2,191.1 407.3,190.2L407.5,189.4M408,197Q408.8,195.4 408.9,194.5Q409,193.6 408.9,192.7Q408.8,191.8 408.4,191Q408.1,190.2 407.5,189.5Q406.9,188.8 406.6,188Q406.2,187.2 406.1,186.3Q406,185.4 405.8,184.5L405.6,183.6M416.1,197Q415.9,195.3 416,194.4Q416.1,193.5 416.4,192.6Q416.7,191.7 417,190.9Q417.4,190.1 417.9,189.3Q418.3,188.6 418.7,187.7Q419,186.9 419.2,186L419.4,185.1M423.8,198.3Q425.5,198.9 426.2,199.4Q426.9,199.9 427.4,200.7Q427.9,201.5 428,202.4Q428.2,203.2 428,204.1Q427.9,205 427.5,205.8Q427.1,206.6 426.4,207.2Q425.7,207.8 425.3,208.6L424.8,209.4M431.2,199.9Q432.7,200.9 433.5,201.3Q434.3,201.7 435.1,202.1Q435.9,202.5 436.8,202.7Q437.7,202.9 438.6,202.8Q439.5,202.8 440.3,202.6Q441.2,202.3 442.1,202Q442.9,201.7 443.7,201.2Q444.5,200.8 445.3,200.4Q446,199.9 446.7,199.3L447.4,198.7M440.3,197Q442,196.7 442.9,196.8Q443.8,196.9 444.7,197.2Q445.5,197.6 446.2,198.1Q446.9,198.7 447.5,199.4Q448.1,200 448.4,200.9Q448.7,201.7 448.7,202.6Q448.7,203.5 448.4,204.4L448.2,205.3M448.5,199.7Q447.8,198 447.3,197.3Q446.7,196.6 446,196.1Q445.2,195.7 444.3,195.4Q443.5,195.2 442.6,195.3Q441.7,195.4 440.9,196Q440.2,196.5 439.6,197.1Q438.9,197.7 438.4,198.5Q437.9,199.2 437.6,200Q437.2,200.9 436.6,201.5L436,202.2M452.3,195.9Q454.1,196.4 454.9,196.2Q455.8,196 456.6,195.7Q457.4,195.3 458.1,194.6Q458.7,194 459.2,193.2Q459.7,192.5 460,191.6Q460.3,190.8 460.3,189.9Q460.3,189 460.1,188.1Q459.8,187.3 459.2,186.6Q458.6,185.9 457.9,185.4Q457.1,184.9 456.2,184.8L455.3,184.7M355.2,202.6Q356.8,201.7 357.6,201.3Q358.4,200.9 359.2,200.6Q360.1,200.3 361,200.2Q361.9,200.1 362.8,200Q363.7,199.9 364.6,200Q365.5,200 366.3,199.9L367.2,199.7M361.4,203.1Q360.2,204.4 359.7,205.2Q359.3,206 358.5,206.5Q357.8,207 357,207.4Q356.2,207.7 355.3,207.7Q354.4,207.6 353.5,207.3Q352.7,207 352,206.4Q351.3,205.8 350.7,205.1Q350.2,204.4 349.4,203.9L348.7,203.4M368.1,206.2Q366.4,206.9 365.7,207.4Q365,208 364.4,208.7Q363.9,209.4 363.7,210.3Q363.4,211.2 363.4,212.1Q363.4,213 363.7,213.8Q363.9,214.7 363.9,215.6Q363.8,216.5 363.5,217.3L363.2,218.2M376.9,204.5Q375.2,205.1 374.3,205.1Q373.4,205.1 372.6,204.6Q371.8,204.2 371.3,203.5Q370.8,202.8 370.6,201.9Q370.4,201 370.5,200.1Q370.7,199.2 371,198.4Q371.4,197.6 372,197Q372.7,196.3 373.5,196.1L374.4,195.8M386.8,201.7Q385.5,202.9 385.1,203.8Q384.7,204.6 384.6,205.5Q384.5,206.4 384.6,207.2Q384.7,208.1 385.2,208.9Q385.6,209.7 386.2,210.4Q386.8,211 387.6,211.6Q388.3,212.1 389.1,212.5Q389.9,212.9 390.8,212.9Q391.7,213 392.6,212.9Q393.5,212.8 394.4,212.6L395.2,212.4M391.3,204.2Q391.7,202.4 392,201.6Q392.3,200.7 392.8,200Q393.3,199.2 393.9,198.6Q394.6,197.9 395.3,197.4Q396,196.8 396.5,196.1Q397.1,195.4 397.4,194.6Q397.7,193.7 398.2,193Q398.8,192.3 399.6,191.8Q400.3,191.4 401.2,191.1Q402.1,190.9 403,190.8L403.9,190.8M400.2,204Q398.6,204.9 398,205.6Q397.5,206.3 396.8,206.8Q396,207.3 395.2,207.6Q394.3,207.8 393.4,207.7Q392.5,207.7 391.6,207.4Q390.8,207 390.2,206.4Q389.5,205.8 389.1,205Q388.7,204.2 388,203.6Q387.3,203 386.5,202.7L385.7,202.4M408.6,203Q410.3,202.6 411.2,202.3Q412,202 412.8,201.5Q413.5,201 414.2,200.3Q414.8,199.7 415.3,198.9Q415.8,198.2 416.2,197.4Q416.6,196.6 416.9,195.7Q417.1,194.9 417.3,194Q417.5,193.1 417.8,192.3L418.2,191.5M412.7,202.7Q413.8,201.3 414.4,200.6Q415.1,200 415.8,199.4Q416.5,198.9 417.2,198.3Q417.9,197.7 418.6,197.2Q419.4,196.7 420.2,196.3Q420.9,195.9 421.8,195.6Q422.7,195.3 423.5,195.1L424.4,195M421.4,205.7Q421.9,204 421.9,203.1Q422,202.2 421.7,201.4Q421.4,200.5 421,199.7Q420.5,199 419.8,198.3Q419.2,197.7 418.3,197.4Q417.5,197.2 416.6,197.2L415.7,197.2M430.4,203Q432.1,203.5 433,203.6Q433.9,203.7 434.8,203.7Q435.7,203.6 436.5,203.3Q437.4,202.9 438.1,202.5Q438.9,202.1 439.6,201.4Q440.2,200.8 440.8,200.1Q441.3,199.4 441.8,198.6Q442.2,197.8 442.6,197Q443,196.2 443.5,195.4Q444,194.7 444.5,194L445.1,193.3M434.8,202Q435.3,203.7 435.9,204.4Q436.5,205.1 437.2,205.6Q438,206.1 438.5,206.8Q439.1,207.5 439.3,208.4Q439.5,209.3 439.5,210.2Q439.5,211.1 439.2,211.9Q438.9,212.8 438.9,213.7L439,214.6M442.8,205.2Q441.9,203.7 441.2,203.1Q440.5,202.5 440,201.8Q439.5,201 439.2,200.2Q439,199.3 438.6,198.5Q438.3,197.7 438.2,196.8Q438,195.9 438.2,195Q438.3,194.1 438.7,193.3Q439.1,192.5 439.7,191.8L440.3,191.2M449.7,203.2Q448.3,202.1 447.7,201.4Q447.2,200.7 446.7,199.9Q446.3,199.1 446.1,198.2Q445.9,197.4 445.9,196.5Q445.9,195.6 446.1,194.7Q446.4,193.8 446.3,192.9Q446.2,192 446.4,191.2Q446.7,190.3 446.7,189.4Q446.7,188.5 446.4,187.6L446.2,186.7M456.5,205.5Q455.6,203.9 454.9,203.4Q454.1,202.8 453.7,202Q453.3,201.2 453.1,200.4Q453,199.5 453.1,198.6Q453.1,197.7 453.3,196.8Q453.6,195.9 453.4,195Q453.3,194.1 452.8,193.4Q452.3,192.6 451.6,192.1Q450.9,191.6 450.1,191.2Q449.3,190.8 448.4,190.8L447.5,190.8M353.8,208.2Q352,208.2 351.2,208.6Q350.4,208.9 349.5,208.9Q348.6,208.9 347.7,208.8Q346.8,208.6 346,208.2Q345.2,207.8 344.6,207.1Q344.1,206.4 343.9,205.5L343.7,204.6M357.6,207.9Q356,207 355.4,206.4Q354.7,205.8 354.1,205.1Q353.6,204.4 353.2,203.6Q352.9,202.7 352.8,201.9Q352.7,201 352.8,200.1Q353,199.2 353.3,198.3Q353.6,197.5 354,196.7Q354.5,195.9 355.1,195.3Q355.7,194.6 356.5,194.2Q357.3,193.7 358.1,193.4Q358.9,193.1 359.8,192.8L360.7,192.6M367.7,208.2Q369.2,207.3 369.8,206.6Q370.4,205.9 370.7,205Q371,204.2 370.9,203.3Q370.8,202.4 371.1,201.5Q371.4,200.7 371.5,199.8Q371.6,198.9 372.1,198.1Q372.6,197.4 373.3,196.8Q374,196.3 374.9,196.1Q375.8,195.9 376.7,196Q377.6,196.1 378.4,196.4Q379.2,196.7 379.9,197.3L380.5,198M372.6,208.1Q373.5,206.5 373.8,205.7Q374,204.8 374.3,203.9Q374.5,203.1 374.8,202.2Q375.1,201.4 375.6,200.6Q376,199.8 376.5,199Q376.9,198.3 377.6,197.6L378.2,197M382.9,207.9Q384.1,209.2 384.5,210Q385,210.8 385.3,211.6Q385.6,212.5 385.7,213.4Q385.7,214.3 385.5,215.2Q385.3,216 385,216.9Q384.6,217.7 384,218.4L383.4,219.1M389.5,209.5Q390.9,208.3 391.4,207.6Q392,206.9 392.8,206.4Q393.5,205.9 394.4,205.6Q395.2,205.2 396.1,205Q396.9,204.8 397.8,204.6Q398.7,204.5 399.6,204.5L400.5,204.6M394.5,212.2Q393.8,213.9 393.6,214.7Q393.5,215.6 393.6,216.5Q393.7,217.4 394,218.3Q394.3,219.1 394.7,219.9Q395.1,220.7 395.9,221.3Q396.6,221.8 397.5,222Q398.3,222.2 399.1,222.7L399.9,223.1M404.8,212.4Q406.4,213.2 407,213.9Q407.7,214.5 408.2,215.2Q408.8,215.9 409.2,216.7Q409.6,217.5 409.8,218.4Q410,219.3 410.3,220.1Q410.6,221 410.7,221.8Q410.8,222.7 411.1,223.6L411.3,224.5M409.3,212Q409.3,210.2 409.1,209.3Q409,208.4 408.7,207.5Q408.5,206.7 408.2,205.8Q407.9,205 407.6,204.1Q407.4,203.2 407.4,202.3Q407.4,201.4 407.4,200.5Q407.4,199.6 407.2,198.8Q407,197.9 406.5,197.1L406.1,196.3M415.1,210.6Q416.6,211.6 417.3,212.2Q417.9,212.9 418.6,213.4Q419.4,213.9 420.2,214.2Q421.1,214.4 422,214.4Q422.9,214.4 423.8,214.3Q424.7,214.1 425.5,213.8Q426.4,213.5 427.1,213Q427.8,212.5 428.5,211.8Q429.1,211.2 429.9,210.8Q430.7,210.3 431.5,209.9L432.3,209.5M424.9,209.7Q423.5,210.9 422.7,211.1Q421.8,211.3 420.9,211.3Q420,211.2 419.2,211.5Q418.3,211.8 417.6,212.3Q416.9,212.9 416.5,213.7Q416.1,214.5 415.9,215.4L415.7,216.2M433,210.5Q434.7,209.9 435.6,209.7Q436.5,209.6 437.3,209.7Q438.2,209.9 439,210.3Q439.8,210.7 440.6,211.2Q441.3,211.8 441.8,212.5Q442.4,213.2 443.1,213.8Q443.8,214.3 444.6,214.7L445.4,215.1M437.2,211.1Q438.4,209.7 438.8,209Q439.3,208.2 439.6,207.3Q439.9,206.5 440.2,205.6Q440.4,204.8 440.4,203.9Q440.4,203 440.6,202.1Q440.7,201.2 440.7,200.3Q440.8,199.4 440.7,198.5L440.6,197.6M443.6,208.4Q442.1,209.4 441.3,209.9Q440.6,210.3 439.9,210.9Q439.2,211.5 438.4,212Q437.7,212.5 436.9,212.9Q436.1,213.4 435.3,213.7Q434.4,214 433.5,214.1Q432.6,214.2 431.7,214.3Q430.9,214.4 430,214.7Q429.1,215 428.3,215.3Q427.5,215.7 426.7,216.2Q426,216.7 425.1,217L424.3,217.4M454.2,211.6Q452.5,211.2 451.7,210.7Q451,210.3 450.1,209.9Q449.3,209.6 448.4,209.5Q447.5,209.5 446.6,209.6Q445.7,209.7 444.9,210.1Q444.1,210.5 443.3,211Q442.6,211.4 442,212.1Q441.4,212.8 441,213.6Q440.7,214.5 440.1,215.2Q439.6,215.9 438.8,216.4L438.1,216.9M459,208.5Q460.6,209.2 461.4,209.7Q462.1,210.2 462.6,211Q463.1,211.8 463.2,212.7Q463.3,213.6 463.2,214.4Q463.1,215.3 462.7,216.1Q462.3,216.9 461.7,217.6Q461.2,218.4 460.4,218.9Q459.7,219.4 458.8,219.6Q458,219.9 457.3,220.5Q456.6,221.1 456.1,221.8L455.6,222.6M360.9,217.5Q359.2,218.2 358.4,218.4Q357.5,218.7 356.8,219.2Q356,219.6 355.2,220.1Q354.5,220.6 353.8,221.2Q353.1,221.7 352.4,222.3Q351.7,222.9 351.2,223.6Q350.6,224.4 350.2,225.2Q349.9,226 349.3,226.7Q348.7,227.4 348.1,228.1Q347.5,228.7 347,229.5Q346.4,230.2 345.8,230.8L345.1,231.4M371.9,214.4Q373.7,214.4 374.5,214.2Q375.4,214 376.2,213.5Q376.9,213.1 377.5,212.4Q378.1,211.7 378.6,211Q379.1,210.2 379.8,209.6Q380.4,208.9 380.8,208.1Q381.3,207.4 381.5,206.5Q381.8,205.6 381.9,204.7Q382,203.8 381.8,203Q381.6,202.1 381.2,201.3Q380.8,200.5 380.2,199.8L379.7,199M379.4,215.5Q379.7,217.2 379.8,218.1Q380,219 380,219.9Q380,220.8 379.9,221.7Q379.7,222.6 379.8,223.5Q379.9,224.4 380,225.3Q380.1,226.2 380.1,227.1Q380.2,228 380.4,228.9Q380.5,229.8 380.7,230.6L380.8,231.5M382.3,215.9Q381.5,217.6 380.9,218.2Q380.3,218.9 379.8,219.7Q379.3,220.4 378.6,221Q378,221.6 377.1,222Q376.3,222.3 375.4,222.3Q374.5,222.3 373.6,222.1Q372.7,222 371.9,221.6Q371.1,221.1 370.5,220.6Q369.8,220 369.2,219.3Q368.6,218.6 368.3,217.8L368,216.9M392.7,216.2Q393.7,217.7 394,218.6Q394.3,219.5 394.4,220.3Q394.5,221.2 394.5,222.1Q394.5,223 394.2,223.9Q393.8,224.7 393.4,225.5Q393,226.3 392.4,227L391.7,227.6M397.1,218.1Q398.7,219 399.4,219.6Q400.1,220.1 400.5,220.9Q401,221.7 401.7,222.3Q402.3,222.9 403.1,223.3Q403.9,223.7 404.8,224.1Q405.6,224.4 406.4,224.7L407.3,225M404.2,214.1Q402.6,213.2 401.9,212.6Q401.2,212 400.7,211.3Q400.2,210.6 399.7,209.8Q399.2,209.1 398.8,208.3Q398.4,207.4 398.1,206.6Q397.8,205.7 397.4,204.9Q397.1,204.1 396.6,203.4Q396.1,202.6 395.5,202L394.8,201.3M413.7,214.8Q411.9,214.9 411,215.1Q410.1,215.3 409.3,215.7Q408.6,216.2 407.9,216.8Q407.3,217.4 406.8,218.2Q406.4,219 406.1,219.9Q405.8,220.7 405.7,221.6L405.7,222.5M422.4,215.1Q422.1,213.3 422.3,212.4Q422.4,211.5 422.7,210.7Q423,209.9 423.5,209.1Q424,208.3 424.6,207.7Q425.3,207 426.1,206.6Q426.9,206.2 427.4,205.5Q428,204.8 428.3,204Q428.6,203.1 429,202.4Q429.5,201.6 430.2,201.1Q430.9,200.5 431.5,199.8Q432.1,199.1 432.9,198.7L433.7,198.3M430.3,216Q429,214.6 428.3,214.1Q427.5,213.6 426.7,213.4Q425.8,213.2 424.9,213.4Q424,213.5 423.2,213.9Q422.4,214.3 421.5,214.5Q420.6,214.6 419.7,214.6L418.8,214.5M436.6,217.6Q436.2,215.8 436.1,215Q435.9,214.1 435.6,213.2Q435.4,212.3 435.1,211.5Q434.9,210.6 434.7,209.8Q434.4,208.9 434.2,208Q434,207.1 433.6,206.3Q433.2,205.5 432.7,204.8Q432.2,204.1 431.6,203.4Q431,202.7 430.3,202.2Q429.5,201.6 428.8,201Q428.2,200.5 427.5,199.9L426.8,199.3M442.6,214.6Q444.4,215 445.1,215.5Q445.8,216 446.3,216.8Q446.7,217.6 446.9,218.5Q447,219.3 446.8,220.2Q446.6,221.1 446,221.8Q445.4,222.5 444.6,222.9Q443.8,223.3 443.2,224L442.6,224.6M448.7,215.6Q446.9,215.7 446,215.6Q445.1,215.5 444.2,215.7Q443.3,215.8 442.5,216Q441.6,216.3 440.8,216.6Q440,217 439.1,217.4Q438.3,217.8 437.6,218.3Q436.9,218.8 436.2,219.4L435.5,220M456.9,214.1Q455.1,214.1 454.2,214.3Q453.4,214.5 452.6,215Q451.9,215.5 451.2,216.1Q450.6,216.8 450.3,217.6Q450,218.5 450,219.4Q450,220.3 450.3,221.1Q450.6,222 451.3,222.6Q451.9,223.3 452.6,223.8Q453.4,224.3 453.9,225Q454.5,225.7 454.8,226.5Q455.2,227.3 455.2,228.2L455.2,229.1M366.4,220.7Q368.2,220.2 369.1,220.3Q370,220.5 370.8,220.2Q371.7,220 372.4,219.5Q373.2,219 373.7,218.2Q374.2,217.5 374.4,216.6Q374.6,215.7 374.5,214.9L374.4,214M371.6,221.4Q372.7,222.8 373.4,223.4Q374.1,223.9 375,224.2Q375.8,224.6 376.7,224.7Q377.6,224.9 378.4,224.7Q379.3,224.4 380,223.9Q380.7,223.3 381.6,223Q382.4,222.8 383.3,222.7Q384.2,222.6 385.1,222.3L385.9,222M379.3,224.9Q380.1,223.3 380.7,222.6Q381.2,221.8 381.7,221.1Q382.3,220.4 382.6,219.6Q383,218.7 383.3,217.9Q383.6,217.1 383.8,216.2Q384,215.3 384.1,214.4Q384.3,213.5 384.4,212.6Q384.5,211.7 384.3,210.8Q384.2,210 384,209.1L383.9,208.2M388.7,222.9Q387.8,224.4 387,224.9Q386.3,225.5 385.6,225.9Q384.8,226.4 384,226.7Q383.1,227.1 382.3,227.3Q381.4,227.6 380.6,227.9Q379.7,228.2 379,228.8Q378.4,229.4 377.8,230.2Q377.3,230.9 377,231.7Q376.7,232.6 376.5,233.5Q376.3,234.3 376.2,235.2L376.1,236.1M394.2,220.5Q394,222.2 394.1,223.1Q394.3,224 394.7,224.8Q395,225.6 395.7,226.3Q396.3,226.9 397.1,227.4Q397.9,227.8 398.4,228.5Q399,229.2 399.2,230.1L399.5,230.9M402.8,220.4Q404,221.8 404.7,222.4Q405.4,222.9 406.2,223.4Q406.9,223.8 407.6,224.4Q408.3,225 409.1,225.4Q409.9,225.8 410.7,226.2Q411.5,226.6 412.3,227Q413.1,227.4 413.8,228Q414.5,228.6 415.3,229.1Q416,229.6 416.9,229.9L417.7,230.3M412.1,225.1Q413.1,226.6 413.4,227.4Q413.7,228.3 413.6,229.2Q413.6,230.1 413.4,231Q413.1,231.8 412.7,232.6Q412.3,233.4 411.7,234.1Q411.2,234.8 410.8,235.6Q410.4,236.4 410.2,237.3Q410,238.2 409.9,239.1Q409.8,240 410,240.9Q410.2,241.7 410.7,242.5Q411.2,243.2 411.6,244.1L411.9,244.9M416.9,222.2Q417.3,224 417.1,224.9Q417,225.8 417.1,226.7Q417.1,227.6 417.4,228.4Q417.6,229.3 417.8,230.2Q418,231 417.9,231.9Q417.8,232.8 417.3,233.6Q416.9,234.4 416.6,235.3Q416.3,236.1 416.3,237Q416.3,237.9 416.5,238.8Q416.7,239.7 417.2,240.4Q417.6,241.2 418.1,241.9L418.7,242.7M422.6,222.9Q423.7,221.5 424.5,221.1Q425.3,220.6 426.2,220.4Q427.1,220.3 428,220.2Q428.9,220.2 429.7,220.4Q430.6,220.5 431.5,220.9Q432.3,221.2 433,221.8Q433.7,222.4 434.2,223.1L434.7,223.8M431.2,221.6Q429.5,222 428.6,222.3Q427.8,222.6 427.1,223.1Q426.3,223.7 425.5,224Q424.7,224.4 423.8,224.6Q422.9,224.7 422.1,225Q421.2,225.3 420.5,225.8Q419.7,226.3 419.1,227Q418.5,227.6 417.8,228.2Q417.2,228.9 416.6,229.6Q416.1,230.3 415.8,231.1L415.4,232M440.6,224.4Q441.9,225.6 442.7,226Q443.5,226.4 444.2,227Q445,227.5 445.8,227.9Q446.6,228.2 447.5,228.4Q448.4,228.6 449.3,228.4Q450.1,228.2 451,227.8L451.8,227.4M445.4,223.8Q447.2,223.4 448.1,223.5Q449,223.5 449.8,223.7Q450.7,223.9 451.5,224.3Q452.3,224.7 453.2,224.8Q454.1,224.9 455,224.7Q455.9,224.5 456.7,224.1Q457.5,223.7 458.2,223.2L458.9,222.6M452.7,221.2Q454.5,221.3 455.3,221.7Q456,222.2 456.6,222.8Q457.2,223.5 458,224Q458.8,224.5 459.6,224.6Q460.5,224.7 461.4,225.1Q462.2,225.4 462.8,226.1Q463.4,226.7 463.7,227.6Q464,228.4 463.9,229.3Q463.8,230.2 463.5,231.1Q463.1,231.9 462.6,232.7Q462.2,233.4 461.5,234.1L460.9,234.7M461.2,222.7Q460.2,224.2 459.5,224.8Q458.9,225.4 458.1,225.8Q457.3,226.2 456.4,226.5Q455.5,226.7 454.7,226.6Q453.8,226.5 452.9,226.2Q452.1,225.9 451.2,225.9Q450.3,225.9 449.4,226Q448.5,226.2 447.7,226.6Q446.9,227.1 446.2,227.6L445.5,228.2M369,227.7Q367.3,228 366.4,228.4Q365.6,228.7 364.9,229.2Q364.1,229.7 363.5,230.3Q362.8,230.9 362.4,231.7Q361.9,232.5 361.6,233.3Q361.2,234.2 360.7,234.9Q360.2,235.7 359.6,236.3Q358.9,236.9 358.1,237.3Q357.3,237.8 356.5,238L355.6,238.2M379.4,230.8Q378.9,232.5 378.8,233.4Q378.6,234.3 378.3,235.1Q378,236 377.9,236.9Q377.8,237.7 377.7,238.6Q377.6,239.5 377.6,240.4Q377.6,241.3 377.8,242.2Q377.9,243.1 378.1,244Q378.2,244.9 378.6,245.7Q379,246.5 379.5,247.3Q380,248 380.6,248.7Q381.2,249.3 382,249.8L382.8,250.2M386.3,227.8Q385.1,226.4 384.4,226Q383.6,225.5 382.9,224.9Q382.2,224.4 381.6,223.7Q381.1,223 380.8,222.1Q380.5,221.3 380.6,220.4Q380.7,219.5 380.7,218.6Q380.7,217.7 380.8,216.8Q380.8,215.9 381.1,215Q381.4,214.2 381.5,213.3L381.6,212.4M389.8,227.9Q389.3,226.2 388.8,225.4Q388.3,224.7 387.5,224.2Q386.8,223.6 386,223.3Q385.1,223 384.3,222.8Q383.4,222.5 382.5,222.5Q381.6,222.4 380.7,222.7Q379.9,223 379,223.3Q378.2,223.7 377.4,224.1L376.6,224.5M397.5,227.9Q399.3,227.6 400.2,227.4Q401.1,227.2 401.9,226.8Q402.7,226.5 403.5,226Q404.2,225.5 404.8,224.8Q405.4,224.2 406,223.4Q406.5,222.7 406.8,221.9L407.1,221M405.2,226.4Q407,226.8 407.8,227.2Q408.6,227.6 409.1,228.3Q409.7,229 410.1,229.8Q410.6,230.6 410.6,231.5Q410.7,232.4 410.5,233.3Q410.3,234.2 409.8,234.9Q409.2,235.6 408.5,236.2L407.8,236.7M411.3,230.7Q412.9,229.8 413.5,229.2Q414.1,228.5 414.6,227.7Q415,227 415.7,226.4Q416.4,225.8 417.3,225.5Q418.1,225.1 419,224.9Q419.8,224.7 420.6,224.3L421.4,223.9M418.8,230.9Q417,230.8 416.2,231Q415.3,231.1 414.5,231.6Q413.7,232.1 413.3,232.8Q412.8,233.6 412.6,234.5Q412.3,235.3 411.8,236.1Q411.3,236.8 410.5,237.2Q409.7,237.6 408.8,237.7Q407.9,237.7 407,237.5Q406.1,237.3 405.3,236.9Q404.5,236.5 403.6,236.5L402.7,236.5M427.8,230.7Q426.6,232 425.8,232.5Q425.1,233 424.2,233.4Q423.4,233.8 422.5,233.9Q421.7,234.1 420.8,234Q419.9,234 419,234.1Q418.1,234.2 417.3,234.6Q416.4,235 415.6,235.2Q414.7,235.4 413.8,235.6Q412.9,235.8 412,235.7L411.2,235.6M435.8,230.2Q435.6,231.9 435.2,232.8Q434.8,233.6 434.3,234.3Q433.8,235 433.1,235.6Q432.4,236.2 431.6,236.6Q430.8,237 429.9,237.1Q429,237.2 428.1,237.1Q427.2,237 426.3,236.8Q425.5,236.6 424.7,236.1Q424,235.6 423.3,235Q422.6,234.4 422,233.7L421.5,233M442,231.1Q442.9,229.5 443.6,228.9Q444.2,228.3 445,227.8Q445.7,227.3 446.6,227Q447.4,226.7 448.3,226.6Q449.2,226.5 450.1,226.6Q451,226.7 451.8,227.1Q452.6,227.5 453.3,228.1Q454,228.7 454.6,229.4Q455.1,230.1 455.5,230.9Q455.9,231.7 455.9,232.6Q455.9,233.5 455.8,234.4L455.7,235.3M450.2,229Q451.6,227.9 452.4,227.5Q453.2,227 454,226.7Q454.8,226.3 455.7,226Q456.5,225.7 457.4,225.5Q458.3,225.3 459.1,225.1Q460,224.9 460.9,225Q461.8,225 462.7,225Q463.6,225.1 464.5,225.4L465.3,225.7M382,237.2Q383,235.7 383.3,234.9Q383.5,234 383.4,233.1Q383.3,232.2 382.9,231.4Q382.5,230.6 382,229.8Q381.5,229.1 380.8,228.5Q380.1,228 379.5,227.3L378.8,226.7M390.5,234.4Q391.3,232.8 391.6,231.9Q391.8,231 392,230.2Q392.2,229.3 392.3,228.4Q392.4,227.5 392.4,226.6Q392.3,225.7 392.1,224.8Q391.9,224 391.6,223.1Q391.3,222.3 390.9,221.5Q390.5,220.7 389.8,220L389.2,219.4M394,235.1Q392.3,234.7 391.4,234.5Q390.5,234.3 389.7,234Q388.8,233.8 388,233.5Q387.1,233.2 386.3,232.7Q385.5,232.3 384.8,231.8Q384,231.4 383.3,230.8Q382.6,230.3 381.8,229.8Q381,229.4 380.2,228.9Q379.5,228.4 378.7,228L377.9,227.6M400.6,234.2Q399.1,235.3 398.5,235.9Q397.9,236.6 397.4,237.4Q396.9,238.1 396.6,238.9Q396.2,239.8 395.9,240.6Q395.6,241.4 395.5,242.3Q395.4,243.2 395.2,244.1Q395.1,245 394.7,245.8Q394.4,246.7 394.2,247.5Q394,248.4 393.9,249.3Q393.8,250.2 393.8,251.1L393.8,252M407.5,237.5Q407.5,239.3 407.3,240.1Q407,241 406.4,241.7Q405.8,242.4 405,242.8Q404.2,243.1 403.3,243.3Q402.4,243.4 401.6,243.1Q400.7,242.9 400,242.3Q399.3,241.8 398.8,241L398.3,240.3M416.7,236.8Q415.5,238.1 414.8,238.7Q414.1,239.2 413.5,239.9Q412.9,240.6 412.5,241.4Q412.1,242.2 411.9,243.1Q411.7,244 411.2,244.7Q410.7,245.5 410,246.1L409.4,246.7M423.8,233.3Q422.6,231.9 421.8,231.5Q421,231.1 420.1,231Q419.2,230.8 418.4,231.1Q417.5,231.3 416.7,231.7Q415.9,232.1 415.3,232.8Q414.7,233.5 414.4,234.3L414.1,235.2M433,237.3Q434.4,236.1 435.2,235.8Q436.1,235.5 436.9,235.2Q437.8,235 438.7,235Q439.6,235 440.5,234.7Q441.3,234.5 442.2,234.4Q443.1,234.4 444,234.6L444.9,234.8M437.4,235.5Q438.9,236.5 439.8,236.6Q440.7,236.7 441.5,236.5Q442.4,236.2 443.1,235.7Q443.9,235.2 444.4,234.5Q445,233.8 445.3,232.9Q445.5,232.1 445.4,231.2Q445.2,230.3 444.7,229.5Q444.3,228.8 443.6,228.2Q442.9,227.6 442,227.3L441.2,227M415.5,239.5Q414.8,241.1 414.2,241.8Q413.6,242.5 412.9,243Q412.2,243.5 411.4,243.9Q410.5,244.3 409.7,244.4Q408.8,244.6 407.9,244.6Q407,244.7 406.1,244.6Q405.2,244.5 404.3,244.3Q403.4,244.1 402.7,243.6Q401.9,243.1 401.2,242.5L400.6,241.9M427.6,239.2Q426.1,238.2 425.5,237.6Q424.8,237 424.3,236.2Q423.8,235.5 423.1,234.9Q422.4,234.4 421.7,233.8Q421,233.2 420.4,232.5Q419.9,231.8 419.5,231L419.2,230.2" clip-path="url(#c6)" fill="none" stroke="#8a8a8a" stroke-width="0.95" stroke-linejoin="round" stroke-linecap="round"/>
<path d="M343.0,179.0C346.2,177.7 355.2,177.6 360.0,178.0C364.8,178.4 368.7,179.7 371.7,181.7C374.7,183.7 377.1,186.1 378.0,190.0C378.9,193.9 377.5,200.0 377.0,205.0C376.5,210.0 376.4,216.7 375.0,220.0C373.6,223.3 371.1,225.8 368.3,225.0C365.5,224.2 361.4,218.3 358.3,215.0C355.2,211.7 352.2,208.3 350.0,205.0C347.8,201.7 346.5,198.2 345.0,195.0C343.5,191.8 341.3,188.7 341.0,186.0C340.7,183.3 339.8,180.3 343.0,179.0Z" fill="#9a9a9a" opacity="0.45"/>
<path d="M411.0,240.0C410.9,238.8 415.5,237.1 418.0,236.0C420.5,234.9 423.7,234.2 426.0,233.5C428.3,232.8 430.2,232.2 432.0,231.5C433.8,230.8 435.3,229.1 437.0,229.0C438.7,228.9 440.8,230.1 442.0,231.0C443.2,231.9 444.2,233.4 444.0,234.5C443.8,235.6 442.5,236.6 441.0,237.5C439.5,238.4 437.3,239.2 435.1,240.0C432.9,240.8 429.9,241.8 428.0,242.5C426.1,243.2 425.1,243.9 423.5,244.0C421.9,244.1 420.4,243.7 418.3,243.0C416.2,242.3 411.1,241.2 411.0,240.0Z" fill="#e6e6e6"/>
<ellipse cx="434.3" cy="229.3" rx="4.2" ry="2.4" transform="rotate(-35 434.3 229.3)" fill="#111"/>
<path d="M310.0,222.0C309.2,223.7 309.5,231.3 309.5,236.0C309.5,240.7 309.6,245.2 310.0,250.0C310.4,254.8 311.2,260.3 312.0,265.0C312.8,269.7 313.7,275.5 315.0,278.0C316.3,280.5 319.7,281.7 320.0,280.0C320.3,278.3 317.9,272.3 317.0,268.0C316.1,263.7 315.3,258.7 314.8,254.0C314.3,249.3 313.9,244.7 313.8,240.0C313.8,235.3 315.1,229.0 314.5,226.0C313.9,223.0 310.8,220.3 310.0,222.0Z" fill="#e6e6e6"/>
<path d="M310.0,222.0C309.9,224.3 309.5,231.3 309.5,236.0C309.5,240.7 309.6,245.2 310.0,250.0C310.4,254.8 311.2,260.3 312.0,265.0C312.8,269.7 314.5,275.8 315.0,278.0" fill="none" stroke="#444" stroke-width="0.6"/>
<path d="M314.5,226.0C314.4,228.3 313.8,235.3 313.8,240.0C313.9,244.7 314.3,249.3 314.8,254.0C315.3,258.7 316.1,263.7 317.0,268.0C317.9,272.3 319.5,278.0 320.0,280.0" fill="none" stroke="#444" stroke-width="0.6"/>
<path d="M316.2,222.5C317.6,221.4 321.0,219.8 323.4,219.6C325.8,219.3 327.8,219.6 330.7,221.0C333.6,222.4 337.7,225.4 340.8,228.3C343.9,231.2 346.6,234.3 349.5,238.4C352.4,242.5 355.2,248.6 358.1,252.9C361.0,257.2 364.4,261.1 366.8,264.5C369.2,267.9 371.2,270.5 372.6,273.1C374.0,275.7 374.7,277.6 375.0,280.0C375.3,282.4 375.2,285.6 374.3,287.7C373.4,289.8 371.4,291.6 369.5,292.5C367.6,293.4 365.2,293.7 362.7,293.1C360.2,292.5 357.7,291.0 354.5,289.0C351.3,287.0 346.8,283.6 343.6,280.9C340.4,278.2 337.8,275.4 335.4,272.7C333.0,270.0 331.4,267.3 329.2,264.5C327.0,261.7 324.2,258.9 322.0,255.8C319.8,252.7 317.5,249.1 316.2,245.7C314.9,242.3 314.2,238.8 314.0,235.5C313.8,232.2 314.3,228.2 314.7,226.0C315.1,223.8 314.8,223.6 316.2,222.5Z" fill="#e2e2e2"/>
<path d="M316.2,222.5C317.6,221.4 321.0,219.8 323.4,219.6C325.8,219.3 327.8,219.6 330.7,221.0C333.6,222.4 337.7,225.4 340.8,228.3C343.9,231.2 346.6,234.3 349.5,238.4C352.4,242.5 355.2,248.6 358.1,252.9C361.0,257.2 364.4,261.1 366.8,264.5C369.2,267.9 371.2,270.5 372.6,273.1C374.0,275.7 374.7,277.6 375.0,280.0C375.3,282.4 375.2,285.6 374.3,287.7C373.4,289.8 371.4,291.6 369.5,292.5C367.6,293.4 365.2,293.7 362.7,293.1C360.2,292.5 357.7,291.0 354.5,289.0C351.3,287.0 346.8,283.6 343.6,280.9C340.4,278.2 337.8,275.4 335.4,272.7C333.0,270.0 331.4,267.3 329.2,264.5C327.0,261.7 324.2,258.9 322.0,255.8C319.8,252.7 317.5,249.1 316.2,245.7C314.9,242.3 314.2,238.8 314.0,235.5C313.8,232.2 314.3,228.2 314.7,226.0C315.1,223.8 314.8,223.6 316.2,222.5Z" fill="none" stroke="#1a1a1a" stroke-width="0.8"/>
<path d="M322.0,228.0C324.0,229.3 330.0,232.3 334.0,236.0C338.0,239.7 342.3,245.3 346.0,250.0C349.7,254.7 353.0,259.7 356.0,264.0C359.0,268.3 362.0,272.5 364.0,276.0C366.0,279.5 367.3,283.5 368.0,285.0" fill="none" stroke="#cdcdcd" stroke-width="0.7"/>
<path d="M330.0,234.0C331.7,235.7 336.7,240.0 340.0,244.0C343.3,248.0 347.0,253.7 350.0,258.0C353.0,262.3 356.0,266.3 358.0,270.0C360.0,273.7 361.3,278.3 362.0,280.0" fill="none" stroke="#cdcdcd" stroke-width="0.7"/>
<path d="M320.0,238.0C321.3,240.0 325.0,246.0 328.0,250.0C331.0,254.0 334.7,258.3 338.0,262.0C341.3,265.7 344.7,268.7 348.0,272.0C351.3,275.3 355.3,279.3 358.0,282.0C360.7,284.7 363.0,287.0 364.0,288.0" fill="none" stroke="#cdcdcd" stroke-width="0.7"/>
<path d="M391.8,252.8C395.7,251.2 409.5,251.9 415.2,251.7C420.9,251.5 421.8,251.8 425.9,251.7C430.0,251.6 435.6,251.3 440.0,251.0C444.4,250.7 449.4,249.5 452.0,250.0C454.6,250.5 455.5,252.7 455.5,254.0C455.5,255.3 453.4,256.0 452.2,258.0C450.9,260.0 449.4,263.5 448.0,266.0C446.6,268.5 445.3,271.2 443.8,273.2C442.3,275.2 440.6,276.2 439.0,278.0C437.4,279.8 435.3,281.7 434.0,284.0C432.7,286.3 431.9,289.0 431.0,292.0C430.1,295.0 430.2,300.2 428.5,302.0C426.8,303.8 422.7,304.7 421.0,303.0C419.3,301.3 419.7,294.7 418.5,292.0C417.3,289.3 416.1,288.2 414.0,287.0C411.9,285.8 408.5,286.0 406.0,285.0C403.5,284.0 400.9,283.2 399.0,281.0C397.1,278.8 395.7,275.3 394.5,272.0C393.3,268.7 392.4,264.5 392.0,261.3C391.6,258.1 387.9,254.4 391.8,252.8Z" fill="#b0b0b0" stroke="none"/>
<path d="M408.3,252.2l-.4 -4.5M415.4,252.1l-1.3 -3.9M429.4,252.4l-.2 -4.2M441.8,252l1.8 -2.3M444.4,251.8l1.4 -2.9M449.9,252.4l1 -2.9M394.2,255.1l-1.4 -2.5M397,255l-.9 -3.5M402.6,255.2l-.2 -4.1M405.7,254.2l-1.5 -2.4M411.1,256l-0 -3M414.6,254.2l.7 -4.1M418.9,255.4l-.4 -4.5M423.5,254.5l0 -4.3M426.9,254.9l.3 -4.7M430,254.4l.9 -3.2M435.6,254.7l1.8 -3M439.7,255.7l1.5 -2.9M442,253.9l.5 -4.1M445.8,254.4l1.4 -2.8M450.6,254.4l1.7 -2.5M392.3,258.8l-2.3 -4.2M396.8,259.4l-2.7 -2.9M401,259l-1.4 -3.8M403.3,259.2l-.4 -2.9M408.2,258.9l-1.4 -3.9M413.2,259.6l-.9 -3M417.2,258.9l.7 -4.5M419.8,258.8l-.7 -4.3M424.9,258l.3 -4M427.9,257.8l.3 -2.9M432.6,259.7l1.3 -2.6M437.5,259.2l1.2 -2.6M441.4,257.9l1.9 -2.9M444.5,257.8l2 -2.5M449.9,258.7l1 -4M394.6,261.6l-3.2 -3M398.5,261.9l-2.3 -3.1M402.2,262.6l-1.4 -3.7M406.6,261.4l-1.8 -3.3M410.8,262.9l.2 -3.7M414.8,261.2l-.6 -2.9M419.2,263.4l.3 -4.3M422.1,262.9l-.9 -3.4M426.1,263.1l-.4 -3.1M429.6,263l.2 -4.6M434.2,263l.2 -4.6M439.9,263.1l2.2 -4M443.8,263.3l1.3 -4.3M447.6,261.8l1.2 -4.5M396,265.1l-1.6 -4.3M399.3,266.5l-1 -3.7M403.3,266.1l-1.6 -2.9M409,265.1l-2.3 -3.9M413.4,265.2l-.9 -3.8M416.9,264.5l.1 -3.3M421.4,265.5l1.2 -3.5M424.8,264.6l-.4 -3.4M428.2,264.9l.3 -3M432.8,266.8l2 -3.5M437.9,266.3l1.6 -3.3M439.8,266.7l2.7 -3.5M445.3,266.5l3.4 -3.3M397.4,268.1l-1.6 -3.7M401,270.3l-.7 -4.5M406.2,269l-1.2 -3.3M411.3,270.3l.2 -3.8M414.3,269.7l-1 -3M419.5,268.7l-.7 -3.7M421.4,269.3l-1 -4.3M425.5,270l-.2 -4.4M431.3,270.3l.1 -4.8M433.8,268.9l-.2 -3.8M437.7,269.4l2.7 -3.4M443.2,268.2l2.6 -2.4M395.3,272.1l-2.9 -2.5M399.8,272.4l-1.7 -3.1M403.8,273.4l-1.8 -2.4M408,272.3l-1.5 -4.3M413.3,273.5l.3 -3.2M415.9,271.8l-.9 -3.2M419.7,272.4l1 -3.7M425.4,272.8l1.2 -4M428.8,273.8l1 -3.7M432,271.8l.8 -3.5M435.8,273.9l.1 -3.7M440.2,272.5l3 -3.7M398.9,275.5l-1.7 -3.7M400.9,275.9l-1 -3.5M405,276.2l-1.4 -3.5M410,277.4l-.7 -3.6M414.1,277l-1.4 -3.5M419,275.3l-.9 -2.8M422.8,277l.7 -4M425.4,276l.3 -3.5M430,276l.2 -2.9M434.8,275.1l1.1 -3.4M439.5,276.8l1.2 -2.5M400.4,279.1l-1.9 -4.3M405.2,280.5l-2.8 -3.3M407.3,281l-1.9 -2.1M412,278.8l.2 -4.7M415.7,280.7l-1.2 -4.3M419.5,280.9l-.3 -3.3M424.3,278.6l-.8 -3.7M428.8,281.1l.9 -3.4M432,278.7l2.4 -3.4M436.1,280.5l2.2 -3.4M405.4,284l-1.3 -3.1M410.2,284.2l-2.6 -3.1M414.9,284.5l-1.3 -3.8M419.1,282.9l.5 -4.3M423.5,283.2l-.7 -3.8M426.9,284.4l1.5 -3.6M431.5,284.2l1.4 -3M433.5,283.6l.3 -3.5M413,286.2l.2 -3.9M417.3,287l.2 -4M419.9,286.9l.6 -3.3M425.5,287.5l1.4 -3.6M429.1,287.2l.7 -2.7M418.3,290.6l-1.1 -2.9M421.5,290.9l.3 -4.3M426.7,289.8l.6 -3.5M419.7,293.6l.2 -3.8M423.8,294.9l1 -4.5M428.2,295.1l1.6 -3.1M422.2,297.4l.1 -3.4M427.6,296.3l.9 -4.3M421.3,301.2l1.5 -4.4M424.2,300.5l1.8 -3.3" clip-path="url(#proc)" fill="none" stroke="#f0f0f0" stroke-width="1.25" stroke-linecap="round"/>
<path d="M441.0,278.5C444.5,277.9 449.3,277.4 453.0,276.5C456.7,275.6 461.8,272.4 463.0,273.0C464.2,273.6 462.0,278.0 460.0,280.0C458.0,282.0 454.7,283.6 451.0,285.0C447.3,286.4 442.3,287.9 438.0,288.5C433.7,289.1 427.2,289.7 425.0,288.5C422.8,287.3 423.3,282.9 424.5,281.5C425.7,280.1 429.2,280.5 432.0,280.0C434.8,279.5 437.5,279.1 441.0,278.5Z" fill="#c6c6c6" stroke="none"/>
<path d="M455.5,254.0C454.9,254.7 453.4,256.0 452.2,258.0C450.9,260.0 449.4,263.5 448.0,266.0C446.6,268.5 445.3,271.2 443.8,273.2C442.3,275.2 441.0,276.8 439.0,278.0C437.0,279.2 434.3,279.9 432.0,280.5C429.7,281.1 426.2,281.3 425.0,281.5" fill="none" stroke="#333" stroke-width="0.7"/>
<path d="M470.5,232.7C471.5,232.0 473.1,231.3 474.6,231.1C476.1,230.9 478.4,230.7 479.7,231.6C481.0,232.5 482.0,234.7 482.7,236.3C483.4,237.9 483.8,239.7 483.8,241.4C483.8,243.1 482.7,245.1 482.7,246.5C482.7,247.9 484.0,248.2 483.8,249.6C483.6,251.0 482.7,253.2 481.7,254.7C480.7,256.2 478.6,257.4 477.6,258.8C476.6,260.2 476.1,261.4 475.6,262.9C475.1,264.4 475.3,266.5 474.6,268.0C473.9,269.5 472.7,270.9 471.5,272.1C470.3,273.3 469.3,274.4 467.4,275.1C465.5,275.8 462.6,275.8 460.2,276.2C457.8,276.6 455.4,277.0 453.0,277.5C450.6,278.0 447.8,278.8 446.0,279.0C444.2,279.2 441.7,280.0 442.0,279.0C442.3,278.0 445.8,275.3 448.0,273.0C450.2,270.7 453.0,267.6 455.0,265.0C457.0,262.4 459.0,259.9 460.2,257.7C461.4,255.5 461.4,253.6 462.3,251.6C463.2,249.6 464.5,247.2 465.3,245.5C466.1,243.8 466.9,243.1 467.4,241.4C467.9,239.7 467.9,236.6 468.4,235.2C468.9,233.8 469.5,233.4 470.5,232.7Z" fill="#cbcbcb"/>
<path d="M471.4,232.9Q470.5,233.9 469.8,233.8Q469.1,233.6 468.6,234.1Q468.2,234.6 468.1,235.3Q468,236 467.4,236.3L466.8,236.7M473.6,235.6Q472.3,236.1 472.1,236.8Q472,237.5 472.2,238.1Q472.4,238.8 472.2,239.5Q472.1,240.2 471.7,240.8Q471.4,241.4 470.7,241.6Q470,241.8 469.4,241.4L468.8,241M480.1,237.7Q478.7,237.5 478.2,236.9Q477.8,236.4 478,235.8Q478.2,235.1 478.8,234.7Q479.4,234.4 480.1,234.5L480.8,234.5M472,242.7Q473,241.8 473,241.1Q472.9,240.4 472.4,239.9Q471.9,239.4 471.2,239.6Q470.5,239.8 470.4,240.4L470.3,241.1M477,242.9Q475.7,243.4 475,243.2Q474.3,243 473.8,242.5Q473.3,242 473.4,241.3Q473.4,240.6 474,240.3L474.6,239.9M469.8,248.7Q469.7,250.1 469.2,250.7Q468.8,251.2 468.8,251.9Q468.8,252.6 469.3,253.1Q469.8,253.6 470.5,253.8L471.2,253.9M473.1,249.2Q474.4,249.8 475.1,249.8Q475.8,249.8 476.4,249.4Q477,249.1 477.1,248.4Q477.2,247.7 476.9,247.1Q476.6,246.4 476,246L475.4,245.7M481,247.8Q480.1,246.8 479.8,246.1Q479.5,245.5 479.7,244.8Q479.9,244.2 480.3,243.6Q480.7,243 481.2,242.5Q481.6,242 482.3,241.8Q483,241.6 483.6,241.9Q484.3,242.1 484.8,242.7L485.2,243.2M463.9,251.4Q464.6,252.6 465.3,252.8Q465.9,253.1 466.4,252.6Q466.9,252.1 467.6,252.1Q468.3,252 468.9,252.4Q469.5,252.8 470.2,252.8Q470.9,252.8 471.3,252.2Q471.6,251.6 472.2,251.3L472.8,250.9M472.3,253.7Q472.2,252.3 472.6,251.8Q473,251.2 472.9,250.5Q472.8,249.8 473,249.2Q473.3,248.5 473.2,247.8Q473.1,247.1 472.6,246.7Q472,246.2 472,245.5L472,244.8M477.7,252.5Q478.8,251.6 478.8,250.9Q478.9,250.2 478.6,249.5Q478.3,248.9 478.5,248.3Q478.7,247.6 479.3,247.1L479.8,246.7M461.4,258.1Q460.2,257.4 459.6,257.8Q459,258.1 458.8,258.8Q458.6,259.5 458.7,260.2Q458.9,260.8 459.3,261.3Q459.8,261.8 459.8,262.5L459.7,263.2M470,256.3Q471.2,257.1 471.6,257.7Q472,258.3 472.7,258.3Q473.4,258.3 473.8,258.9Q474.2,259.5 474.3,260.2Q474.5,260.8 474.4,261.5Q474.2,262.2 474.7,262.7L475.2,263.2M472.8,257.1Q473,258.5 473.4,259.1Q473.9,259.6 474.6,259.8Q475.2,259.9 475.9,259.8Q476.6,259.7 477.2,260.1L477.7,260.5M478.3,256.6Q478,255.2 478.5,254.7Q478.9,254.2 478.8,253.5Q478.8,252.8 478.2,252.3Q477.7,251.9 477.6,251.2Q477.5,250.5 477.8,249.8Q478.1,249.2 478.8,249.1Q479.5,249.1 479.9,248.5L480.2,247.9M458.5,263.4Q459.4,264.4 459.7,265.1Q460,265.7 460,266.4Q460,267.1 459.9,267.8Q459.7,268.5 459.4,269.1Q459.1,269.7 458.9,270.4Q458.7,271.1 458.6,271.8Q458.6,272.5 458.1,273L457.7,273.6M463.8,261.4Q462.8,262.5 462.9,263.1Q463,263.8 463.4,264.4Q463.8,265 464.4,265.3Q465.1,265.7 465.4,266.3Q465.7,266.9 466.4,267Q467.1,267.2 467.6,267.6Q468.2,268 468.3,268.7Q468.4,269.4 468,270L467.6,270.6M469.8,262.1Q468.5,262.6 467.8,262.5Q467.1,262.4 466.5,262Q465.9,261.7 465.4,261.2Q464.9,260.6 464.3,260.4L463.6,260.2M455.9,268.7Q457.3,269.1 457.9,269Q458.6,268.9 459.1,268.3Q459.5,267.8 460.1,267.4Q460.6,266.9 461.3,266.9Q462,266.8 462.6,267.3L463.1,267.7M461.1,267.8Q459.7,267.9 459,267.8Q458.3,267.6 457.7,267.2Q457.1,266.9 456.9,266.2Q456.7,265.5 456.8,264.9L457,264.2M466.4,267.7Q465.2,267.2 464.5,267Q463.8,266.9 463.1,266.9Q462.4,266.9 461.7,266.9Q461,266.8 460.3,266.9L459.6,267.1M473.4,266.6Q474.5,267.4 475.2,267.3Q475.9,267.3 476.6,267.4Q477.3,267.6 478,267.4Q478.6,267.3 479.3,267.6Q479.9,267.8 480.1,268.5Q480.2,269.2 479.8,269.8Q479.3,270.3 478.7,270.7L478.1,271M447.7,273.8Q447.9,275.2 447.5,275.8Q447.1,276.4 447.1,277.1Q447.2,277.8 447.4,278.4Q447.7,279.1 447.4,279.7Q447.2,280.3 447.1,281Q447,281.7 446.7,282.4Q446.5,283 445.8,283.3L445.2,283.7M454.9,273.4Q454.6,274.8 454.2,275.3Q453.8,275.9 453.1,276.2Q452.5,276.6 452.1,277.1Q451.7,277.7 451.8,278.4Q451.8,279 452.5,279.3L453.1,279.6M457.8,272.3Q456.8,273.3 456.8,274Q456.7,274.7 456.3,275.2Q455.8,275.8 455.2,276.1Q454.6,276.5 453.9,276.4L453.2,276.3M463.7,270.7Q465.1,270.6 465.8,270.7Q466.4,270.9 467.1,270.6Q467.7,270.3 468.4,270.3Q469.1,270.3 469.7,270.6Q470.4,270.9 470.7,271.5Q471.1,272.1 470.9,272.8Q470.7,273.5 470.1,273.7L469.4,273.9M450.7,275.7Q452,276.1 452.2,276.8Q452.4,277.4 453.1,277.7Q453.8,277.9 454.4,277.6Q455.1,277.4 455.2,276.7Q455.2,276 455.9,275.7Q456.5,275.4 457.2,275.6Q457.8,275.8 458.3,276.3L458.7,276.9" clip-path="url(#c8)" fill="none" stroke="#9a9a9a" stroke-width="0.8" stroke-linejoin="round" stroke-linecap="round"/>
<path d="M468.4,235.2C468.8,234.8 469.5,233.4 470.5,232.7C471.5,232.0 473.1,231.3 474.6,231.1C476.1,230.9 478.4,230.7 479.7,231.6C481.0,232.5 482.0,234.7 482.7,236.3C483.4,237.9 483.8,239.7 483.8,241.4C483.8,243.1 482.7,245.1 482.7,246.5C482.7,247.9 484.0,248.2 483.8,249.6C483.6,251.0 482.7,253.2 481.7,254.7C480.7,256.2 478.6,257.4 477.6,258.8C476.6,260.2 476.1,261.4 475.6,262.9C475.1,264.4 475.3,266.5 474.6,268.0C473.9,269.5 472.0,271.4 471.5,272.1" fill="none" stroke="#444" stroke-width="0.7"/>
<path d="M462.0,270.0C464.2,268.7 466.3,267.7 468.0,268.0C469.7,268.3 472.1,270.8 472.0,272.0C471.9,273.2 469.4,274.4 467.4,275.1C465.4,275.8 462.3,276.1 460.2,276.2C458.1,276.3 454.7,277.0 455.0,276.0C455.3,275.0 459.8,271.3 462.0,270.0Z" fill="#b9b9b9"/>
<path d="M446.0,313.0 C454.0,311.8 457.0,314.0 462.0,313.0M447.5,316.0 C455.2,314.8 458.2,317.0 463.0,316.0M449.0,319.5 C456.5,318.3 459.5,320.5 464.0,319.5M446.0,323.0 C455.5,321.8 458.5,324.0 465.0,323.0M447.5,326.5 C456.8,325.3 459.8,327.5 466.0,326.5M449.0,330.0 C458.0,328.8 461.0,331.0 467.0,330.0M446.0,333.5 C454.0,332.3 457.0,334.5 462.0,333.5M447.5,337.0 C455.2,335.8 458.2,338.0 463.0,337.0" fill="none" stroke="#b8b8b8" stroke-width="0.7"/>
<path d="M473.5,227.0C473.7,230.8 474.1,242.5 474.5,250.0C474.9,257.5 475.6,265.3 476.0,272.0C476.4,278.7 476.9,283.7 477.0,290.0C477.1,296.3 476.6,306.7 476.5,310.0" fill="none" stroke="#c4c4c4" stroke-width="0.8"/>
<path d="M436.0,343.2C440.0,343.1 451.7,342.8 460.0,342.8C468.3,342.9 481.7,343.4 486.0,343.5" fill="none" stroke="#a8a8a8" stroke-width="0.8"/>
<path d="M459.4,311.3C461.8,310.7 471.5,310.6 475.5,312.3C479.5,314.0 481.6,318.2 483.6,321.4C485.6,324.6 487.7,328.3 487.7,331.5C487.7,334.7 485.6,338.9 483.6,340.6C481.6,342.3 477.5,343.1 475.5,341.6C473.5,340.1 472.8,334.9 471.5,331.5C470.2,328.1 469.2,324.0 467.5,321.4C465.8,318.8 462.4,317.7 461.0,316.0C459.6,314.3 457.0,311.9 459.4,311.3Z" fill="#7e7e7e"/>
<path d="M461.6,313.4l-.7 1.5 -.1 1.7 .2 2.6 .8 1.4 .8 1.5 1.6 .2 .9 1.5 1.9 1.7 .4 2.4M465.4,313.6l.8 -1.6 1.6 -1 1.2 -1.2 -.9 -1.8 -1.9 .5 -1.9 -1.7 -1.5 -.8 -1.7 -.1 -1.7 1.4M470,314.1l-1.6 .8 .2 2.1 -1.7 .8 -2.3 1.2 .6 2.4 -1 2.1 -2.4 .6M469.8,317.6l1.8 .3 1.9 -1.5 1.8 -.9 1.6 -.9 .6 -1.6 .1 -1.7 2.4 -1M472.3,319.6l1 1.4 2.4 .1 2 -.3 2.1 -.7 2 .3 .5 2.5M480.8,320.4l1.3 -1.4 1.7 .6 1.8 -1.4 1.5 -.6 1.4 -1.5 2.4 .2 .9 1.9 -1.5 1.5 -.4 1.7M471.3,325.9l-1.5 .9 -1.4 -1 -1 -2.1 -1.2 -1.8M476.8,323.7l-1.8 .2 -1.5 -1.4 -2.2 -.3 -1 -1.3 -1.2 -1.2M482.4,325.5l-1.5 -.6 .1 -1.7 -.9 -1.4 -.7 -2.3 1.5 -1.1 1.5 -1.2 1.3 -2.1 0 -1.9M473,329.5l-.9 1.5 -.5 2.2 .3 2.6 1.4 2.1 -1.5 1.6M478.5,330.9l-1.6 .6 -1.2 2.2 .2 1.7 1.5 1.1 2.1 -1.4 2 1.3M484.8,329.3l-1.5 -2.1 1.3 -1.7 1.1 -1.1 2.5 .4 1.7 .6 1.7 -1.5 2.2 -.4M478,334.3l.7 2.1 1.7 -.2 .1 -1.6 -1.3 -1.5 -.5 -1.9 -.7 -1.7 -.8 -2.4 -.3 -1.8M483.7,335.4l-1.6 .9 -.7 1.6 -1.7 .1 -1.8 -.6 -1.8 .7 -1.4 -.9 -1.9 -.5 -2.2 -.5 -.7 -2.1M481.3,339.3l.2 -1.8 .6 -2 .3 -2.3 1.6 -1.7 .7 -1.5" clip-path="url(#c9)" fill="none" stroke="#a8a8a8" stroke-width="0.6" stroke-linejoin="round" stroke-linecap="round"/>
<path d="M287.0,268.0C283.2,268.1 280.7,271.3 277.0,274.0C273.3,276.7 268.6,280.5 265.0,284.0C261.4,287.5 258.4,291.3 255.7,295.0C253.0,298.7 251.1,301.7 249.0,306.0C246.9,310.3 244.3,315.3 243.0,321.0C241.7,326.7 241.4,333.5 241.0,340.0C240.6,346.5 240.6,353.3 240.5,360.0C240.4,366.7 240.5,373.8 240.5,380.0C240.5,386.2 240.5,392.7 240.7,397.0C240.9,401.3 241.1,403.0 241.5,406.0C241.9,409.0 242.7,411.8 243.0,415.0C243.3,418.2 242.8,420.8 243.3,425.0C243.8,429.2 244.6,435.8 246.0,440.0C247.4,444.2 249.3,447.2 252.0,450.0C254.7,452.8 258.2,455.4 262.0,456.8C265.8,458.2 270.8,458.7 275.0,458.5C279.2,458.3 283.8,457.4 287.0,455.8C290.2,454.2 292.8,451.6 294.5,449.0C296.2,446.4 296.7,443.2 297.0,440.0C297.3,436.8 297.1,433.3 296.5,430.0C295.9,426.7 294.5,423.6 293.5,420.0C292.5,416.4 291.2,412.9 290.5,408.6C289.8,404.3 289.6,399.1 289.3,394.3C289.1,389.5 289.1,385.7 289.0,380.0C288.9,374.3 288.7,366.2 288.6,360.0C288.5,353.8 288.2,347.0 288.6,343.0C289.0,339.0 289.7,337.6 291.1,336.1C292.5,334.6 295.0,334.3 297.0,334.0C299.0,333.7 301.6,333.8 303.0,334.4C304.4,335.0 301.1,337.5 305.6,337.8C310.1,338.1 320.9,335.5 330.0,336.0C339.1,336.5 347.9,339.3 360.0,341.0C372.1,342.7 390.8,345.2 402.8,346.0C414.8,346.8 425.1,347.3 432.0,346.0C438.9,344.7 441.7,341.3 444.0,338.0C446.3,334.7 446.7,330.0 446.0,326.0C445.3,322.0 443.0,317.7 440.0,314.0C437.0,310.3 432.7,305.3 428.0,304.0C423.3,302.7 419.1,306.2 412.0,306.0C404.9,305.8 394.9,304.0 385.7,303.0C376.5,302.0 363.8,300.7 357.0,300.0C350.2,299.3 346.0,300.5 345.0,299.0C344.0,297.5 351.0,293.4 351.0,291.0C351.0,288.6 348.9,286.8 345.0,284.5C341.1,282.2 335.0,279.3 327.5,277.5C320.0,275.7 306.8,275.1 300.0,273.5C293.2,271.9 290.8,267.9 287.0,268.0Z" fill="#f6f6f6" stroke="none"/>
<path d="M281.0,137.5C281.6,139.9 282.9,146.4 284.5,151.8C286.1,157.2 288.9,164.3 290.5,169.7C292.1,175.1 293.2,179.3 294.0,184.0C294.8,188.7 295.1,191.9 295.3,198.0C295.5,204.1 295.6,214.4 295.3,220.7C295.1,227.0 294.6,230.9 293.8,236.0C293.0,241.1 291.6,247.1 290.7,251.4C289.8,255.8 289.4,259.3 288.4,262.1C287.4,264.9 286.5,266.3 284.6,268.3C282.7,270.3 280.3,271.4 277.0,274.0C273.7,276.6 268.6,280.5 265.0,284.0C261.4,287.5 258.4,291.3 255.7,295.0C253.0,298.7 251.1,301.7 249.0,306.0C246.9,310.3 244.3,315.3 243.0,321.0C241.7,326.7 241.4,333.5 241.0,340.0C240.6,346.5 240.6,353.3 240.5,360.0C240.4,366.7 240.5,373.8 240.5,380.0C240.5,386.2 240.5,392.7 240.7,397.0C240.9,401.3 241.1,403.0 241.5,406.0C241.9,409.0 242.7,411.8 243.0,415.0C243.3,418.2 242.8,420.8 243.3,425.0C243.8,429.2 244.6,435.8 246.0,440.0C247.4,444.2 249.3,447.2 252.0,450.0C254.7,452.8 258.2,455.4 262.0,456.8C265.8,458.2 270.8,458.7 275.0,458.5C279.2,458.3 283.8,457.4 287.0,455.8C290.2,454.2 292.8,451.6 294.5,449.0C296.2,446.4 296.7,443.2 297.0,440.0C297.3,436.8 297.1,433.3 296.5,430.0C295.9,426.7 294.5,423.6 293.5,420.0C292.5,416.4 291.2,412.9 290.5,408.6C289.8,404.3 289.6,399.1 289.3,394.3C289.1,389.5 289.1,385.7 289.0,380.0C288.9,374.3 288.7,366.2 288.6,360.0C288.5,353.8 288.2,347.0 288.6,343.0C289.0,339.0 289.7,337.6 291.1,336.1C292.5,334.6 295.0,334.3 297.0,334.0C299.0,333.7 302.0,334.3 303.0,334.4" fill="none" stroke="#1a1a1a" stroke-width="0.9"/>
<path d="M374.0,293.0C374.1,292.8 376.0,293.9 378.3,293.7C380.6,293.5 384.2,291.6 387.8,291.9C391.4,292.2 396.3,294.1 399.7,295.5C403.1,296.9 406.8,298.8 408.0,300.2C409.2,301.6 408.9,303.2 406.9,303.8C404.9,304.4 399.8,304.6 396.2,303.8C392.6,303.0 388.5,300.5 385.5,299.0C382.5,297.5 379.9,296.0 378.0,295.0C376.1,294.0 373.9,293.2 374.0,293.0Z" fill="#767676"/>
<ellipse cx="412.5" cy="304" rx="5" ry="4.6" fill="#858585"/>
<ellipse cx="425.5" cy="305.5" rx="4.3" ry="4.2" fill="#858585"/>
<path d="M431.8,306.0C433.0,305.2 437.0,304.4 440.0,304.0C443.0,303.6 447.3,303.6 450.0,303.8C452.7,304.0 455.7,304.2 456.0,305.0C456.3,305.8 454.3,307.7 452.0,308.5C449.7,309.3 445.2,309.6 442.0,309.7C438.8,309.8 434.7,309.6 433.0,309.0C431.3,308.4 430.6,306.8 431.8,306.0Z" fill="#868686"/>
<path d="M428,300.5 L468,300.5" stroke="#aaa" stroke-width="0.6"/>
<path d="M428,302.0 L468,302.0" stroke="#aaa" stroke-width="0.6"/>
<path d="M428,311.5 L468,311.5" stroke="#aaa" stroke-width="0.6"/>
<path d="M246.2,410.0C245.7,401.3 246.2,374.4 246.2,360.0C246.2,345.6 245.1,332.4 246.2,323.6C247.3,314.8 250.5,312.0 253.0,307.2C255.5,302.4 258.0,298.6 261.2,295.0C264.4,291.4 268.0,288.4 272.0,285.4C276.0,282.4 280.3,279.0 285.0,277.0C289.7,275.0 292.9,273.4 300.0,273.5C307.1,273.6 320.0,275.7 327.5,277.5C335.0,279.3 341.1,282.2 345.0,284.5C348.9,286.8 350.2,288.9 351.0,291.0C351.8,293.1 351.0,295.6 350.0,297.0C349.0,298.4 347.0,299.4 345.0,299.5C343.0,299.6 343.3,298.3 338.0,297.7C332.7,297.1 320.6,296.0 313.0,295.7C305.4,295.4 298.2,295.1 292.5,295.7C286.8,296.2 282.8,297.1 278.9,299.0C275.0,300.9 272.0,303.6 269.3,307.2C266.6,310.8 264.3,316.3 262.5,320.9C260.7,325.4 259.2,328.0 258.4,334.5C257.6,341.0 257.6,349.9 257.5,360.0C257.4,370.1 257.8,386.8 258.0,395.0C258.2,403.2 259.5,406.2 259.0,409.0C258.5,411.8 256.7,411.5 255.0,412.0C253.3,412.5 250.5,412.3 249.0,412.0C247.5,411.7 246.7,418.7 246.2,410.0Z" fill="#747474" stroke="#4a4a4a" stroke-width="0.5"/>
<path d="M338.5,294.4 L343.3,279.1M327.9,293.6 L331.5,277.8M316.3,292.8 L319.4,276.9M307.9,292.5 L304.1,276.5M295.3,293.4 L296.1,277.0M287.0,294.9 L282.7,279.2M280.3,298.3 L272.9,284.1M274.3,303.4 L263.9,291.2M269.7,308.5 L254.5,302.2M264.5,315.9 L249.3,310.9M260.4,325.7 L244.5,322.8M259.9,335.2 L244.1,332.1M259.7,343.5 L243.7,342.5M259.7,350.3 L243.7,354.3M259.7,362.7 L243.8,365.3M259.9,375.4 L243.9,371.8M260.1,384.3 L244.1,386.3M260.3,397.2 L244.3,397.2" clip-path="url(#dkc)" stroke="#e6e6e6" stroke-width="2" fill="none"/>
<path d="M259.5,405.0C258.7,397.5 259.4,371.8 259.5,360.0C259.6,348.2 258.9,341.5 259.8,334.5C260.8,327.5 262.9,322.9 265.2,318.1C267.5,313.3 270.0,309.3 273.4,305.9C276.8,302.5 280.2,299.3 285.7,297.7C291.1,296.1 299.0,296.1 306.1,296.3C313.2,296.5 320.1,298.0 328.6,298.8C337.1,299.6 347.5,300.1 357.0,301.0C366.5,301.9 377.6,303.0 385.7,304.0C393.8,305.0 401.1,305.9 405.7,306.8C410.2,307.7 412.1,308.5 413.0,309.5C413.9,310.5 413.2,311.5 411.0,313.0C408.8,314.5 404.2,317.0 400.0,318.5C395.8,320.0 390.5,321.4 385.7,322.0C380.9,322.6 376.2,322.3 371.4,322.0C366.6,321.7 361.8,320.9 357.0,320.0C352.2,319.1 347.6,317.8 342.9,316.4C338.2,315.0 335.8,312.9 328.6,311.4C321.5,309.8 306.5,307.8 300.0,307.1C293.5,306.4 293.6,306.7 289.8,307.4C286.1,308.1 280.9,309.1 277.5,311.3C274.1,313.6 271.4,317.0 269.3,320.9C267.2,324.8 265.5,328.0 264.6,334.5C263.7,341.0 263.9,348.2 263.9,360.0C263.9,371.8 265.2,397.5 264.5,405.0C263.8,412.5 260.3,412.5 259.5,405.0Z" fill="none" stroke="#e8e8e8" stroke-width="1.6"/>
<path d="M259.5,405.0C258.7,397.5 259.4,371.8 259.5,360.0C259.6,348.2 258.9,341.5 259.8,334.5C260.8,327.5 262.9,322.9 265.2,318.1C267.5,313.3 270.0,309.3 273.4,305.9C276.8,302.5 280.2,299.3 285.7,297.7C291.1,296.1 299.0,296.1 306.1,296.3C313.2,296.5 320.1,298.0 328.6,298.8C337.1,299.6 347.5,300.1 357.0,301.0C366.5,301.9 377.6,303.0 385.7,304.0C393.8,305.0 401.1,305.9 405.7,306.8C410.2,307.7 412.1,308.5 413.0,309.5C413.9,310.5 413.2,311.5 411.0,313.0C408.8,314.5 404.2,317.0 400.0,318.5C395.8,320.0 390.5,321.4 385.7,322.0C380.9,322.6 376.2,322.3 371.4,322.0C366.6,321.7 361.8,320.9 357.0,320.0C352.2,319.1 347.6,317.8 342.9,316.4C338.2,315.0 335.8,312.9 328.6,311.4C321.5,309.8 306.5,307.8 300.0,307.1C293.5,306.4 293.6,306.7 289.8,307.4C286.1,308.1 280.9,309.1 277.5,311.3C274.1,313.6 271.4,317.0 269.3,320.9C267.2,324.8 265.5,328.0 264.6,334.5C263.7,341.0 263.9,348.2 263.9,360.0C263.9,371.8 265.2,397.5 264.5,405.0C263.8,412.5 260.3,412.5 259.5,405.0Z" fill="#8e8e8e"/>
<path d="M290.6,298.8Q289.8,300 289.4,300.5Q289,301.1 288.5,301.6Q288,302.1 287.5,302.6Q287.1,303.1 286.6,303.7Q286.2,304.2 285.9,304.9Q285.6,305.5 285.3,306.1Q285,306.8 284.8,307.4Q284.6,308.1 284.8,308.8Q285,309.4 285,310.1L285,310.8M293.8,297.6Q292.4,297.7 292,297.1Q291.6,296.5 291,296.2Q290.3,295.9 290,295.3Q289.6,294.7 289.5,294Q289.3,293.3 289.8,292.8Q290.2,292.2 290.8,291.9Q291.4,291.5 292,291.2L292.7,291M300.7,299Q301.6,298 302.3,298.2Q302.9,298.5 303.3,299.1Q303.6,299.7 304.2,300Q304.9,300.3 305.1,300.9Q305.3,301.6 305.9,301.9Q306.5,302.3 307.2,302L307.8,301.7M305.8,297.9Q307.2,297.6 307.8,297.9Q308.4,298.2 308.7,298.8Q309,299.4 309.7,299.5Q310.4,299.6 310.9,299.2Q311.5,298.7 312.1,298.6Q312.8,298.5 313.4,299Q313.9,299.4 314,300.1L314.2,300.8M308.1,298Q307.2,297 307.2,296.3Q307.2,295.6 307.5,295Q307.8,294.3 308.3,293.8Q308.8,293.4 309.4,293.2Q310.1,293 310.8,292.9L311.5,292.8M315.9,298.6Q316.4,297.2 316.3,296.5Q316.3,295.8 315.9,295.2Q315.6,294.6 315.6,293.9Q315.7,293.2 316.2,292.8Q316.7,292.3 317,291.7Q317.3,291 318,290.9Q318.7,290.8 319.4,290.9Q320,291.1 320.7,291.1L321.4,291.1M282.2,300.9Q281.8,302.2 281.3,302.7Q280.8,303.2 280.1,303.1Q279.4,303.1 279,302.5Q278.5,302 277.9,301.6Q277.3,301.3 276.9,300.7Q276.4,300.2 276,299.6Q275.7,299 275.6,298.3Q275.6,297.6 275.2,297.1L274.8,296.5M287.6,302.3Q288,303.7 288.7,303.8Q289.4,304 290,303.6Q290.6,303.2 290.9,302.6Q291.2,301.9 290.9,301.3Q290.7,300.6 290.2,300.1Q289.8,299.5 289.1,299.3Q288.5,299.1 288.2,298.5Q288,297.8 288.3,297.2Q288.6,296.5 289,296L289.5,295.4M291.1,301.1Q292.1,300 292.7,300.2Q293.4,300.4 293.7,301Q293.9,301.7 293.5,302.2Q293,302.8 292.4,302.9Q291.7,303.1 291.2,302.5Q290.7,302 290,302.1L289.3,302.1M296.3,303.3Q295.8,304.6 295.1,304.9Q294.5,305.1 294,305.6Q293.5,306.1 292.8,306.2Q292.2,306.3 291.5,306.5Q290.8,306.8 290.4,307.4L290.1,307.9M301.5,301.2Q302.4,300.1 303.1,299.9Q303.7,299.7 304.1,299.1Q304.4,298.5 304.5,297.8Q304.5,297.1 305.1,296.7Q305.6,296.2 306.3,296.4Q307,296.5 307.3,297.1Q307.6,297.8 307.9,298.4Q308.3,299 308.6,299.6L308.9,300.3M308.5,301.8Q307.1,301.9 306.4,302.1Q305.7,302.2 305,302Q304.4,301.9 303.7,301.7Q303,301.4 302.7,300.8Q302.4,300.2 302.6,299.5Q302.8,298.9 303.4,298.5Q303.9,298.1 304.3,297.5Q304.6,296.9 305,296.3Q305.4,295.8 305.5,295.1L305.5,294.4M311.3,301.8Q312.3,302.7 312.8,303.2Q313.3,303.7 313.4,304.4Q313.4,305.1 313.4,305.8Q313.3,306.5 313,307.1Q312.6,307.7 312.4,308.3Q312.2,309 311.7,309.4Q311.1,309.8 310.8,310.5Q310.5,311.1 310.5,311.8L310.4,312.5M315.7,303.2Q315.5,301.8 315.5,301.1Q315.5,300.4 315.2,299.8Q314.9,299.2 314.3,298.8Q313.8,298.3 313.1,298.1Q312.4,297.8 312.1,297.3Q311.7,296.7 311.6,296Q311.4,295.3 311,294.7Q310.6,294.2 310.1,293.7L309.6,293.2M321.2,303.6Q322.4,302.9 322.7,302.2Q323,301.6 323.6,301.2Q324.1,300.8 324.8,300.6Q325.5,300.4 326.2,300.6Q326.9,300.7 327,301.4L327.2,302.1M325.8,302.5Q326.9,303.4 327.1,304Q327.2,304.7 327.2,305.4Q327.1,306.1 327.3,306.8Q327.5,307.5 328.1,307.8Q328.7,308.2 329.4,308Q330.1,307.9 330.6,307.4L331,306.8M333.3,301.4Q334.7,301.6 335.1,302.3Q335.4,302.9 335.3,303.6Q335.3,304.3 335,304.9Q334.6,305.5 334.1,305.9Q333.5,306.3 332.8,306.1L332.2,305.8M335.8,300.9Q334.7,301.8 334.6,302.5Q334.6,303.2 334.9,303.8Q335.3,304.4 335.8,304.9Q336.3,305.4 336.9,305.6Q337.6,305.8 338.1,306.3Q338.5,306.9 339.2,306.8L339.9,306.7M340.8,303.2Q339.5,303.7 338.9,304.1Q338.4,304.6 338.1,305.2Q337.9,305.9 337.9,306.5Q338,307.2 338.5,307.7Q339,308.2 339.3,308.8L339.6,309.5M345.8,303.2Q346.3,304.5 346.1,305.2Q345.9,305.9 345.9,306.6Q345.9,307.3 346.3,307.9Q346.6,308.5 347.3,308.5Q348,308.6 348.7,308.4Q349.4,308.2 349.9,307.7Q350.4,307.2 350.4,306.5Q350.3,305.8 349.9,305.3Q349.5,304.7 349.7,304.1L349.9,303.4M350.4,302Q350.3,303.4 350.8,303.9Q351.3,304.3 351.3,305Q351.4,305.7 351.6,306.4Q351.8,307.1 351.7,307.8Q351.7,308.5 351.4,309.1Q351.2,309.8 350.7,310.3Q350.2,310.7 349.5,310.6Q348.8,310.4 348.6,309.8L348.3,309.1M356,303.9Q356,302.5 356.5,302Q357,301.5 357,300.8Q357.1,300.1 357.6,299.6Q358.1,299.1 358.8,299.1Q359.5,299.1 359.9,298.5Q360.3,297.9 360.4,297.2Q360.5,296.6 360.3,295.9Q360.1,295.2 359.7,294.7L359.3,294.1M361.9,303.7Q361.7,305.1 361.6,305.8Q361.6,306.5 361.5,307.2Q361.5,307.9 360.9,308.3Q360.3,308.7 360.3,309.4Q360.2,310.1 360.8,310.6L361.3,311M281.2,305.4Q281.5,306.7 281.4,307.4Q281.2,308.1 281.7,308.7Q282.1,309.2 282.8,309.4Q283.5,309.5 284.1,309.4Q284.8,309.2 285.2,308.6Q285.5,308 285.3,307.4L285,306.7M286.1,307.5Q287.4,308.1 287.5,308.8Q287.7,309.5 287.2,310Q286.7,310.5 286,310.5Q285.3,310.4 284.8,310Q284.3,309.5 283.6,309.3L283,309M287.9,305.8Q288.9,306.8 289.6,307Q290.2,307.1 290.9,307Q291.6,306.8 292,306.2Q292.5,305.7 292.2,305.1Q291.9,304.4 291.3,304Q290.8,303.6 290.1,303.7Q289.4,303.7 289,303.2Q288.6,302.6 288,302.3Q287.3,302 286.6,301.9L285.9,301.9M305.8,306.6Q306.2,305.3 306,304.6Q305.8,303.9 305.9,303.2Q306,302.5 306.4,301.9Q306.7,301.4 307.4,301Q308,300.7 308.5,300.2Q309,299.7 309.1,299Q309.3,298.4 309.7,297.8Q310,297.2 310.6,296.8L311.2,296.4M309,307.7Q308.3,308.9 307.7,309.2Q307.1,309.5 306.4,309.7Q305.7,309.9 305,309.7Q304.3,309.6 304,309Q303.6,308.4 303.1,307.9Q302.5,307.5 302.5,306.8Q302.5,306.1 302.2,305.4L301.9,304.8M315,307.2Q314,308.2 314.3,308.8Q314.5,309.5 315.1,309.8Q315.8,310.1 316.5,309.9Q317.2,309.8 317.4,309.2Q317.7,308.5 317.3,307.9Q317,307.3 316.3,307.1L315.7,306.8M317.8,306.3Q319.2,305.8 319.6,305.3Q320,304.8 320.2,304.1Q320.3,303.4 319.8,302.9Q319.3,302.4 318.7,302.1Q318.1,301.8 317.8,301.1Q317.6,300.5 316.9,300.3L316.2,300.1M324.3,308.2Q325.7,308.2 326.4,308.4Q327,308.6 327.7,308.8Q328.4,308.9 329,308.5Q329.6,308.1 330.1,307.7Q330.7,307.3 331.1,306.7Q331.6,306.2 331.8,305.5Q332.1,304.9 332.2,304.2Q332.3,303.5 332.3,302.8Q332.4,302.1 332.5,301.4L332.6,300.7M330.8,305.7Q331.8,306.7 332.4,307Q333,307.4 333.7,307.5Q334.4,307.5 335,307.1Q335.6,306.8 336,306.3Q336.5,305.8 336.6,305.1Q336.7,304.4 336.7,303.7Q336.7,303 337.1,302.4L337.5,301.9M335.9,305.3Q335.9,303.9 335.4,303.5Q334.9,303 334.6,302.3Q334.3,301.7 334.4,301Q334.5,300.3 335,299.8Q335.5,299.3 336.1,299Q336.8,298.8 337.4,298.5L338.1,298.3M339.8,306.5Q338.5,307 338.2,307.7Q337.9,308.3 338.1,308.9Q338.4,309.6 339.1,309.8Q339.7,310.1 340.4,310.3Q341.1,310.4 341.8,310.4Q342.5,310.3 343,309.8L343.5,309.4M345.8,306.6Q344.6,305.9 343.9,305.7Q343.2,305.6 342.7,306Q342.1,306.4 341.4,306.2Q340.8,305.9 340.2,305.5Q339.7,305 339,305.2Q338.3,305.3 337.8,305.8L337.3,306.2M348.9,307Q349.4,308.2 349.9,308.8Q350.4,309.3 351,309.5Q351.7,309.7 352.2,309.3Q352.8,308.9 353.5,309Q354.1,309.2 354.6,309.6Q355.1,310.1 355.3,310.8Q355.4,311.5 356,311.9Q356.6,312.3 357.3,312.1L357.9,311.9M354.6,306.6Q355.6,307.6 355.5,308.3Q355.5,309 355.3,309.7Q355.1,310.4 354.8,311Q354.5,311.6 354,312.1Q353.5,312.6 353.5,313.3Q353.6,314 354,314.5Q354.5,315.1 355.2,315.1Q355.9,315.1 356.4,314.6Q356.9,314.1 357,313.4L357.1,312.7M360.3,307.2Q361.7,307.2 362,306.6Q362.4,306 362.5,305.3Q362.6,304.6 362.2,304Q361.8,303.5 361.2,303.2Q360.6,302.8 359.9,302.7Q359.2,302.6 358.7,303.1Q358.1,303.5 358.2,304.2Q358.3,304.9 357.8,305.4L357.3,305.8M365.3,307.9Q363.9,308.2 363.2,308.1Q362.5,308 361.8,308.2Q361.2,308.4 360.5,308.2Q359.9,308 359.5,307.4Q359.1,306.8 359.2,306.1Q359.4,305.4 360,305.1Q360.6,304.7 361.3,304.9Q362,305 362.4,305.5L362.9,306M370,306.1Q369.6,304.8 369.7,304.1Q369.9,303.4 370.1,302.7Q370.4,302.1 370.9,301.6Q371.3,301.1 372,301Q372.7,300.9 373.4,301.2Q374,301.4 374.7,301.5Q375.4,301.7 376,302Q376.7,302.3 377.3,302.6L377.9,302.9M373.5,306.8Q374.9,306.7 375.5,306.4Q376.2,306.1 376.9,306.2Q377.6,306.3 377.9,306.9Q378.3,307.5 378.3,308.2Q378.2,308.9 378.5,309.6Q378.8,310.2 379.5,310.5Q380.1,310.8 380.8,310.7Q381.5,310.6 382.1,311L382.6,311.4M379.3,307.4Q378.7,306.1 378.1,305.7Q377.6,305.2 376.9,305.4Q376.2,305.5 375.7,306Q375.2,306.5 375.2,307.2Q375.1,307.9 375.5,308.5Q376,309 375.8,309.7Q375.6,310.4 375.5,311.1L375.4,311.8M384,305.4Q385.3,306 385.9,305.6Q386.5,305.3 386.8,304.6Q387.1,304 387.6,303.5Q388,303 388,302.3Q388,301.6 388.2,300.9Q388.4,300.2 389,299.9Q389.6,299.5 390.3,299.8L390.9,300.1M389.6,307.7Q389.8,309.1 389.4,309.6Q389,310.2 388.5,310.6Q387.9,311 387.2,311.2Q386.6,311.4 385.9,311.7Q385.3,312 384.9,312.6Q384.4,313.1 383.8,313.5Q383.2,313.8 382.9,314.4Q382.5,315 382.8,315.7L383,316.4M393.7,306.3Q394.2,307.6 393.8,308.1Q393.3,308.6 392.6,308.5Q391.9,308.3 391.3,308.5Q390.6,308.7 390.1,309.2Q389.6,309.7 389.7,310.4L389.7,311.1M405.3,307.4Q404.9,306.1 404.2,305.8Q403.6,305.6 402.9,305.8Q402.3,306 402,306.7Q401.8,307.4 401.3,307.8Q400.7,308.2 400.7,308.9Q400.6,309.6 400.9,310.2Q401.3,310.9 401.8,311.3Q402.4,311.7 403.1,311.8L403.8,311.8M270.3,311.4Q270.3,310 270.4,309.3Q270.4,308.7 270.7,308Q271,307.4 271.2,306.7Q271.5,306 271.5,305.3Q271.5,304.6 271.2,304Q270.9,303.4 270.4,302.9Q269.9,302.4 269.9,301.7Q269.9,301 269.6,300.4Q269.4,299.7 269.1,299.1L268.8,298.5M276,311.9Q275.8,310.5 275.2,310.2Q274.5,309.9 273.9,310.1Q273.2,310.3 272.7,310.8Q272.2,311.4 271.5,311.3Q270.8,311.3 270.2,311Q269.6,310.7 269.5,310Q269.4,309.3 268.8,308.9Q268.2,308.6 267.8,308L267.5,307.4M327.6,309.8Q326.3,310.4 326,311Q325.6,311.6 325,312Q324.5,312.4 323.8,312.5Q323.1,312.7 322.6,313.2Q322.1,313.7 321.4,313.8Q320.8,313.9 320.1,313.8L319.4,313.6M331,311.4Q329.7,310.9 329.5,310.2Q329.3,309.5 329.6,308.9Q329.9,308.3 330.6,308.1Q331.3,308 331.8,308.4Q332.4,308.8 332.6,309.4Q332.9,310.1 333.4,310.5Q334,310.9 334.7,311Q335.4,311.1 336,311.5L336.6,311.9M337.3,310.7Q336,311.3 335.3,311.4Q334.6,311.4 333.9,311.4Q333.2,311.4 332.6,311.3Q331.9,311.1 331.2,311Q330.5,311 329.8,311.2Q329.2,311.4 328.5,311.6Q327.8,311.9 327.2,312.1Q326.5,312.4 325.8,312.3Q325.2,312.2 324.5,312.1L323.8,312M343.5,311.9Q342.5,310.9 342.6,310.2Q342.6,309.5 342.6,308.8Q342.6,308.1 342.6,307.4Q342.6,306.7 342.5,306Q342.5,305.3 342.4,304.6Q342.4,303.9 342.3,303.2L342.1,302.5M347.2,310.8Q348.6,311 349,311.6Q349.3,312.2 349.2,312.9Q349.1,313.6 348.6,314.1Q348.2,314.7 348.3,315.4Q348.4,316.1 348.8,316.6Q349.2,317.2 349.9,317.1L350.6,317.1M353.1,310.7Q354.4,311.1 354.9,311.6Q355.4,312 355.7,312.7Q355.9,313.4 355.5,314Q355.1,314.6 355,315.2Q354.8,315.9 354.1,316.2Q353.5,316.5 352.8,316.6Q352.1,316.6 351.6,316.2Q351,315.7 350.4,315.5Q349.7,315.2 349.1,315.5L348.4,315.8M356,310.5Q355.3,309.3 355.2,308.6Q355.1,307.9 354.6,307.4Q354.1,306.9 353.6,306.5Q353,306.2 352.3,306.2Q351.6,306.2 350.9,306.5L350.2,306.7M360.8,310.5Q359.4,310.7 358.8,311.1Q358.2,311.4 357.5,311.6Q356.9,311.8 356.3,311.3Q355.7,310.9 355.7,310.2Q355.8,309.5 355.6,308.8Q355.4,308.2 354.8,307.9L354.1,307.6M365.8,311.4Q366.6,310.3 367.2,309.9Q367.7,309.4 368.4,309.4Q369.1,309.4 369.8,309.4Q370.5,309.4 371,308.9Q371.5,308.4 371.7,307.7Q371.8,307 371.8,306.3Q371.8,305.6 371.8,304.9L371.8,304.2M372.1,311.9Q371.4,313.1 371.2,313.7Q371.1,314.4 371.2,315.1Q371.4,315.8 371.2,316.5Q371.1,317.2 370.9,317.8Q370.8,318.5 370.7,319.2L370.7,319.9M376.3,312.5Q375,312.1 374.3,312.3Q373.6,312.4 373,312.1Q372.4,311.8 371.7,311.7Q371,311.6 370.4,311.3Q369.7,311.1 369.1,310.8L368.4,310.5M383.1,309.8Q381.9,309.1 381.3,308.7Q380.7,308.4 380,308.4Q379.3,308.5 378.6,308.4Q377.9,308.4 377.4,308.9Q377,309.5 376.3,309.5Q375.6,309.5 374.9,309.2Q374.2,309 374,308.3Q373.8,307.7 373.8,307L373.7,306.3M385.3,309.5Q383.9,309.6 383.2,309.4Q382.6,309.1 382.3,308.5Q382.1,307.8 381.9,307.1Q381.7,306.4 382,305.8Q382.2,305.1 382.8,304.7L383.4,304.4M391.1,312.1Q392.5,311.8 392.8,311.1Q393.1,310.5 393.1,309.8Q393.2,309.1 393.7,308.7Q394.3,308.3 395,308.1Q395.7,308 396.3,308.3Q396.9,308.6 397.1,309.3L397.3,310M398,309.9Q397.1,308.9 396.8,308.3Q396.5,307.6 396.7,307Q396.8,306.3 397.3,305.7Q397.7,305.2 398.4,305Q399,304.7 399.6,305.1Q400.2,305.4 400.9,305.5Q401.6,305.5 402.1,305Q402.6,304.4 403.2,304.2Q403.9,304 404.2,303.4L404.5,302.7M402.6,310.7Q403.6,311.7 403.5,312.4Q403.5,313.1 403.2,313.7Q402.9,314.4 403.2,315Q403.6,315.6 404.2,315.8Q404.9,316 405.5,315.7L406.1,315.3M408.1,310.3Q409.4,309.8 409.9,309.3Q410.3,308.7 410.9,308.4Q411.5,308 412.1,307.8Q412.8,307.5 413.1,306.9Q413.4,306.3 414.1,306.1L414.8,305.9M410.7,309.6Q410,308.3 409.7,307.7Q409.4,307.1 408.8,306.8Q408.1,306.5 407.4,306.4Q406.7,306.4 406,306.3Q405.3,306.3 404.7,306.5L404,306.7M270.5,314.9Q269.2,315.5 268.8,316Q268.3,316.5 268.1,317.2Q267.9,317.8 267.8,318.5Q267.7,319.2 268.1,319.8Q268.4,320.4 269.1,320.7L269.7,321M275,314Q274.3,312.8 273.9,312.3Q273.4,311.8 273.3,311.1Q273.2,310.4 273.6,309.8Q274,309.2 274.6,309Q275.3,308.9 276,309.1Q276.7,309.2 277.2,309.7Q277.7,310.2 278.3,310.4Q279,310.5 279.7,310.2Q280.3,309.9 281,309.8L281.7,309.7M344.6,315.1Q344.6,316.5 344.3,317.1Q344,317.8 344,318.5Q344,319.2 343.6,319.7Q343.2,320.3 343.3,321Q343.4,321.7 343,322.3Q342.6,322.9 341.9,322.9Q341.2,323 340.9,322.4L340.5,321.8M351,315.5Q349.6,315.8 349,316.1Q348.4,316.5 347.7,316.3Q347,316.1 346.5,315.6Q346,315.1 345.4,315.3Q344.7,315.5 344.1,315.2Q343.5,314.8 343.2,314.2Q342.9,313.6 343.1,312.9Q343.3,312.2 343.7,311.7L344.1,311.1M355.2,316.1Q353.9,315.5 353.2,315.5Q352.5,315.5 351.9,315.2Q351.3,314.9 350.8,314.4Q350.4,313.8 350.1,313.2Q349.8,312.6 349.3,312.1Q348.7,311.7 348.7,311Q348.6,310.3 348.4,309.6L348.2,309M359.5,314.7Q358.3,315.5 357.6,315.6Q356.9,315.6 356.3,315.4Q355.6,315.2 355.2,314.6Q354.9,314 354.2,313.7Q353.6,313.4 353,313L352.4,312.6M364.4,314.6Q364.7,316 365.1,316.5Q365.4,317.1 365.9,317.7Q366.4,318.2 366.9,318.7Q367.3,319.2 367.6,319.9Q367.8,320.5 367.7,321.2L367.7,321.9M368.8,314.6Q367.4,314.6 366.7,314.4Q366.1,314.2 365.6,313.7Q365.1,313.2 364.4,313.1Q363.7,313 363.2,313.5Q362.8,314 362.3,314.6L361.9,315.2M373.3,314.2Q372.4,315.3 372.1,315.9Q371.8,316.6 371.4,317.1Q370.9,317.6 370.2,317.9Q369.6,318.2 369,317.8Q368.4,317.5 368,316.9Q367.7,316.3 367,316.1Q366.3,315.9 365.9,316.4Q365.4,316.9 365.4,317.6L365.3,318.3M378.1,316.5Q378,315.1 378.6,314.6Q379.1,314.2 379.8,314.2Q380.5,314.2 381.1,314Q381.8,313.7 382.5,313.7Q383.2,313.7 383.8,314Q384.5,314.3 385.1,314.1Q385.8,314 386.3,313.5Q386.8,313 387,312.3L387.2,311.6M385.9,315.4Q387.1,316 387.6,316.5Q388.1,317.1 388,317.7Q388,318.4 387.8,319.1Q387.5,319.7 386.9,320.1Q386.3,320.5 385.9,321.1Q385.5,321.6 385.8,322.3Q386,323 386.6,323.3Q387.2,323.7 387.3,324.4Q387.5,325 387.1,325.6L386.7,326.2M389.6,316.4Q391,316.1 391.7,316.2Q392.4,316.3 393,316.6Q393.6,316.9 394,317.5Q394.3,318.1 395,318.1Q395.7,318.1 396.3,317.8Q396.9,317.4 397.6,317.2Q398.3,317.1 398.8,317.5Q399.3,318 399.3,318.7L399.3,319.4M396.2,314.8Q396.3,313.5 395.9,312.9Q395.4,312.4 394.8,312.1Q394.2,311.7 393.5,312Q392.9,312.2 392.7,312.9Q392.6,313.6 392.6,314.3L392.7,315M399.3,315.9Q398.2,315 397.8,314.4Q397.4,313.8 397.4,313.1Q397.4,312.4 397.6,311.8Q397.8,311.1 397.9,310.4Q398,309.7 398.1,309Q398.3,308.3 397.9,307.8Q397.5,307.2 397,306.6L396.6,306.1M405.3,314.6Q406.7,314.7 407.1,315.3Q407.5,315.9 408,316.3Q408.6,316.7 409.3,316.7Q410,316.6 410.5,317.1Q411,317.6 411.1,318.3L411.2,319M265.5,319.1Q266.9,318.9 267.6,318.6Q268.2,318.3 268.5,317.7Q268.7,317 268.8,316.3Q268.9,315.6 269.5,315.3Q270.2,314.9 270.8,314.9Q271.5,314.8 272.1,315.3Q272.6,315.7 273.3,315.8Q274,315.9 274.7,315.7L275.3,315.5M357.8,317.9Q359,317.2 359.7,317.4Q360.3,317.5 361,317.4Q361.7,317.3 362.4,317Q363,316.7 363.5,316.2Q364.1,315.8 364.5,315.2Q364.9,314.6 365.6,314.5Q366.2,314.4 366.9,314.3Q367.6,314.2 368.3,314Q369,313.8 369.6,313.5L370.3,313.3M360.9,319.7Q361.3,318.3 361.9,318.1Q362.6,317.9 363.2,318.3Q363.7,318.7 363.8,319.4Q363.8,320.1 363.4,320.7Q363,321.3 362.3,321.3Q361.6,321.4 360.9,321.2Q360.3,320.9 359.7,321.3Q359.1,321.7 358.7,322.3Q358.3,322.9 357.7,323.1L357,323.3M365.6,320.4Q366.9,320.9 367.6,321Q368.3,321 368.8,321.4Q369.4,321.9 369.8,322.4Q370.3,322.9 370.8,323.4Q371.4,323.8 372,324.2Q372.6,324.5 373.1,325Q373.6,325.4 374.3,325.5Q375,325.5 375.6,325.1L376.2,324.7M372.6,318.5Q373.7,317.7 374.3,317.3Q374.9,316.9 375.1,316.2Q375.4,315.6 375.6,314.9Q375.7,314.2 376.3,313.9Q376.9,313.5 377.6,313.2Q378.2,312.9 378.4,312.2Q378.5,311.5 378.3,310.9Q378.1,310.2 378.3,309.5L378.6,308.9M378.2,318.9Q378.8,320.1 378.8,320.8Q378.7,321.5 378.3,322.1Q377.9,322.7 377.2,322.8Q376.6,323 376,322.6Q375.4,322.2 374.7,322.1Q374,321.9 373.3,322.2Q372.7,322.4 372.7,323.1Q372.6,323.8 372.8,324.5L373,325.2M382.8,320Q381.4,319.7 380.9,319.2Q380.3,318.8 379.8,318.4Q379.2,318 378.5,318.1Q377.8,318.1 377.2,318.5Q376.7,319 376.7,319.7Q376.6,320.4 376.8,321.1Q376.9,321.8 377.2,322.4Q377.5,323 378,323.5Q378.5,324 379.1,324.4L379.7,324.8M385.9,320.1Q384.5,320.2 384,320.6Q383.5,321.1 383.1,321.7Q382.7,322.3 382.1,322.5Q381.4,322.7 380.7,322.4Q380.1,322.2 379.4,322.4Q378.8,322.7 378.2,322.3Q377.6,321.9 377.5,321.2Q377.4,320.5 377.7,319.9L377.9,319.2M393.2,318.9Q391.9,318.5 391.6,317.9Q391.3,317.2 391.6,316.6Q391.9,316 392.3,315.4Q392.8,314.9 393.5,315Q394.2,315.1 394.7,315.5L395.3,316M398,318Q397.3,316.8 396.6,316.6Q396,316.3 395.3,316.4Q394.6,316.6 394.2,317.2Q393.7,317.7 393.9,318.4Q394.1,319.1 394.6,319.5Q395.1,320 395.8,319.9Q396.5,319.7 397.2,319.8L397.9,319.9M265.7,323.9Q264.4,323.3 264.1,322.7Q263.8,322 264.1,321.4Q264.4,320.8 265.1,320.6Q265.7,320.4 265.9,319.7Q266,319 266.7,318.8Q267.4,318.7 267.9,319.1Q268.4,319.6 268.3,320.3Q268.3,321 267.9,321.6Q267.5,322.2 266.9,322.5L266.3,322.9M263.6,327.9Q262.9,329.1 262.5,329.7Q262.2,330.3 262.1,331Q261.9,331.7 262.2,332.3Q262.5,333 262.9,333.6Q263.3,334.1 263.9,334.5Q264.4,334.9 265.1,335.1L265.8,335.2M264.7,333.6Q265.3,334.8 264.8,335.4Q264.4,335.9 263.7,336Q263,336 262.4,335.7Q261.8,335.3 261.3,334.8Q260.9,334.2 260.7,333.6Q260.5,332.9 259.8,332.7Q259.1,332.5 258.6,333L258.2,333.5M260.7,337.9Q261.6,338.9 261.5,339.6Q261.4,340.3 261.5,341Q261.5,341.7 262,342.2Q262.5,342.7 263.1,343Q263.7,343.4 264.2,343.9L264.7,344.4M262.1,347.2Q263.4,347.7 263.6,348.3Q263.7,349 263.3,349.5Q262.8,350 262.9,350.7Q263,351.4 262.9,352.1Q262.7,352.8 262.3,353.3Q261.9,353.9 261.2,354L260.5,354.1M263.8,349.9Q265.2,349.8 265.6,349.2Q266,348.7 266.7,348.5Q267.4,348.3 267.9,347.9Q268.5,347.5 268.7,346.8Q268.9,346.1 269.6,345.9Q270.2,345.6 270.9,345.8Q271.5,346.1 271.7,346.7Q271.9,347.4 272.5,347.7Q273.1,348.1 273.8,348.2L274.5,348.3M263.7,353.2Q263.4,354.5 263.5,355.2Q263.6,355.9 263.4,356.6Q263.1,357.2 262.7,357.7Q262.2,358.2 262.2,358.9Q262.3,359.6 262.5,360.3Q262.7,361 263,361.6Q263.3,362.3 263.7,362.8Q264.1,363.4 264.4,364Q264.7,364.6 265.4,364.8L266.1,365M260,360Q258.6,360.2 258,360.4Q257.3,360.5 256.6,360.7Q255.9,360.8 255.4,361.3Q254.9,361.8 254.5,362.3Q254,362.9 253.3,363.1Q252.7,363.4 252.5,364Q252.2,364.7 251.6,365Q250.9,365.2 250.2,365.1L249.5,365.1M262.8,357.7Q261.9,358.8 261.8,359.5Q261.6,360.1 262,360.7Q262.5,361.3 263.1,361.3Q263.8,361.4 264.5,361.2Q265.1,360.9 265.8,360.9Q266.5,360.9 267.1,361.3L267.7,361.6M262.8,362.4Q264.1,361.8 264.8,361.7Q265.5,361.6 266,362.1Q266.6,362.6 266.9,363.2Q267.2,363.8 267.3,364.5Q267.4,365.2 266.8,365.7Q266.3,366.1 265.7,366.4L265,366.7M262.9,368Q261.6,367.6 261.5,366.9Q261.3,366.2 261.8,365.8Q262.3,365.3 263,365.2Q263.7,365.1 264.1,364.5Q264.4,363.9 264.1,363.3Q263.8,362.7 264.2,362.1Q264.5,361.5 265.2,361.5Q265.9,361.5 266.4,362L266.9,362.5M263.1,372.3Q262.4,371.2 261.8,370.7Q261.2,370.3 261.2,369.6Q261.1,368.9 261.1,368.2Q261.1,367.5 261.7,367.1Q262.2,366.6 262.3,365.9Q262.5,365.3 262.1,364.7Q261.8,364 261.3,363.6Q260.8,363.1 260.7,362.4L260.6,361.7M263.6,380.5Q262.5,381.3 261.8,381.3Q261.1,381.3 260.5,381Q259.9,380.6 259.5,380Q259.1,379.4 259.3,378.8Q259.5,378.1 260.2,377.7Q260.8,377.4 261.5,377.4Q262.2,377.4 262.8,377.6L263.4,377.9M260.4,382.9Q259.7,381.7 259,381.4Q258.4,381.2 257.7,381.3Q257,381.5 256.4,381.9Q255.9,382.4 255.7,383Q255.5,383.7 255,384.2L254.5,384.6M262.7,389.5Q261.8,390.6 261.1,390.6Q260.4,390.6 260,390.1Q259.6,389.5 259.8,388.9Q259.9,388.2 260.5,387.8Q261.1,387.4 261.8,387.3Q262.5,387.1 262.9,386.5Q263.4,386 263.5,385.3Q263.7,384.6 263.6,383.9Q263.6,383.3 263,382.9L262.4,382.5M264.1,392.4Q265.4,392.1 266,391.8Q266.6,391.4 267.3,391.6Q268,391.8 268.7,391.9Q269.4,392 270,391.7Q270.6,391.4 270.9,390.7Q271.1,390 271.3,389.4Q271.5,388.7 271.3,388Q271.1,387.4 270.5,387L269.9,386.7M262.6,398Q261.7,396.9 261,396.8Q260.3,396.7 259.8,397.2Q259.2,397.6 258.8,398.2Q258.5,398.8 258.3,399.5Q258.2,400.2 258.4,400.9Q258.6,401.5 258.2,402.1Q257.9,402.7 257.7,403.4Q257.6,404.1 257.7,404.8L257.7,405.5M260.5,401.4Q259.1,401.1 258.6,400.7Q258,400.3 257.7,399.7Q257.3,399.1 256.6,399Q255.9,398.9 255.4,399.3Q254.8,399.7 254.3,400.2Q253.9,400.8 254,401.5Q254,402.2 254.3,402.9L254.5,403.5" clip-path="url(#c10)" fill="none" stroke="#c6c6c6" stroke-width="0.9" stroke-linejoin="round" stroke-linecap="round"/>
<path d="M273.0,406.0C270.5,402.7 272.2,391.8 271.8,385.0C271.4,378.2 271.0,371.7 270.8,365.0C270.6,358.3 270.4,350.1 270.5,345.0C270.6,339.9 270.5,338.1 271.3,334.5C272.1,330.9 273.4,326.8 275.3,323.6C277.2,320.4 280.2,317.0 283.0,315.4C285.8,313.8 289.2,314.2 292.0,314.0C294.8,313.8 293.9,313.7 300.0,314.3C306.1,314.9 321.5,316.5 328.6,317.9C335.8,319.3 338.2,321.5 342.9,322.9C347.6,324.3 352.2,325.4 357.0,326.4C361.8,327.3 366.6,328.1 371.4,328.6C376.2,329.1 380.9,329.7 385.7,329.3C390.5,328.9 395.7,327.9 400.0,326.4C404.3,324.8 408.7,322.1 411.4,320.0C414.1,317.9 414.8,315.3 416.0,313.5C417.2,311.7 417.2,309.5 418.5,309.0C419.8,308.5 421.8,310.1 424.0,310.5C426.2,310.9 429.5,310.8 432.0,311.5C434.5,312.2 437.1,312.8 439.0,315.0C440.9,317.2 443.1,321.5 443.5,325.0C443.9,328.5 443.4,332.8 441.5,336.0C439.6,339.2 438.4,342.5 432.0,344.0C425.6,345.5 414.8,345.5 402.8,345.0C390.8,344.5 370.8,342.7 360.0,340.8C349.2,338.9 344.7,335.1 338.0,333.5C331.3,331.9 325.8,331.6 320.0,331.0C314.2,330.4 308.0,329.9 303.4,330.0C298.8,330.1 295.2,330.5 292.5,331.5C289.8,332.5 288.2,333.8 287.0,336.0C285.8,338.2 285.6,341.0 285.3,345.0C285.1,349.0 285.4,354.2 285.5,360.0C285.6,365.8 285.8,372.5 286.0,380.0C286.2,387.5 289.2,400.7 287.0,405.0C284.8,409.3 275.5,409.3 273.0,406.0Z" fill="none" stroke="#e8e8e8" stroke-width="1.6"/>
<path d="M273.0,406.0C270.5,402.7 272.2,391.8 271.8,385.0C271.4,378.2 271.0,371.7 270.8,365.0C270.6,358.3 270.4,350.1 270.5,345.0C270.6,339.9 270.5,338.1 271.3,334.5C272.1,330.9 273.4,326.8 275.3,323.6C277.2,320.4 280.2,317.0 283.0,315.4C285.8,313.8 289.2,314.2 292.0,314.0C294.8,313.8 293.9,313.7 300.0,314.3C306.1,314.9 321.5,316.5 328.6,317.9C335.8,319.3 338.2,321.5 342.9,322.9C347.6,324.3 352.2,325.4 357.0,326.4C361.8,327.3 366.6,328.1 371.4,328.6C376.2,329.1 380.9,329.7 385.7,329.3C390.5,328.9 395.7,327.9 400.0,326.4C404.3,324.8 408.7,322.1 411.4,320.0C414.1,317.9 414.8,315.3 416.0,313.5C417.2,311.7 417.2,309.5 418.5,309.0C419.8,308.5 421.8,310.1 424.0,310.5C426.2,310.9 429.5,310.8 432.0,311.5C434.5,312.2 437.1,312.8 439.0,315.0C440.9,317.2 443.1,321.5 443.5,325.0C443.9,328.5 443.4,332.8 441.5,336.0C439.6,339.2 438.4,342.5 432.0,344.0C425.6,345.5 414.8,345.5 402.8,345.0C390.8,344.5 370.8,342.7 360.0,340.8C349.2,338.9 344.7,335.1 338.0,333.5C331.3,331.9 325.8,331.6 320.0,331.0C314.2,330.4 308.0,329.9 303.4,330.0C298.8,330.1 295.2,330.5 292.5,331.5C289.8,332.5 288.2,333.8 287.0,336.0C285.8,338.2 285.6,341.0 285.3,345.0C285.1,349.0 285.4,354.2 285.5,360.0C285.6,365.8 285.8,372.5 286.0,380.0C286.2,387.5 289.2,400.7 287.0,405.0C284.8,409.3 275.5,409.3 273.0,406.0Z" fill="#8e8e8e"/>
<path d="M419.4,310.5Q419.3,311.9 419.7,312.4Q420.2,313 420.8,312.8Q421.5,312.6 422.1,312.3Q422.7,311.9 423.4,311.9Q424.1,311.8 424.5,312.4L424.9,313M416.5,314.1Q415.5,313.1 415.4,312.4Q415.3,311.7 415.6,311.1Q415.9,310.5 416.5,310.2Q417.1,309.9 417.8,309.8Q418.5,309.8 419.2,309.8L419.9,309.9M422.2,313.7Q423.1,314.7 423.2,315.4Q423.3,316.1 422.8,316.7Q422.4,317.2 422.6,317.9Q422.8,318.6 423.4,318.9Q424,319.3 424.7,319.2Q425.4,319.1 426,318.7L426.6,318.3M429.7,313.1Q429.7,311.7 430.1,311.1Q430.4,310.5 431.1,310.4Q431.8,310.3 432.5,310.5Q433.2,310.7 433.5,311.3Q433.9,311.9 433.9,312.6Q433.8,313.3 433.5,313.9Q433.2,314.5 432.8,315.1Q432.4,315.7 431.7,316L431.1,316.3M431.6,314.1Q431.6,315.5 431.7,316.2Q431.9,316.9 432.2,317.5Q432.5,318.2 433.2,318.3Q433.9,318.5 434.3,319Q434.8,319.5 435.1,320.1Q435.5,320.8 436.1,321.1Q436.7,321.5 437.2,321.9Q437.8,322.3 438,323L438.2,323.7M285.1,319.1Q285.1,317.7 284.7,317.2Q284.2,316.6 284.3,315.9Q284.3,315.2 284.8,314.7Q285.2,314.2 285.6,313.6Q286,313 286.2,312.3Q286.4,311.6 286.1,311L285.8,310.4M289.5,319.4Q290.1,318.1 290.2,317.4Q290.4,316.7 290.4,316Q290.3,315.3 290,314.7Q289.6,314.1 289.1,313.7Q288.5,313.3 287.8,313.4Q287.1,313.5 286.5,313.9Q285.9,314.2 285.6,314.9Q285.4,315.5 285.5,316.2Q285.7,316.9 286.1,317.4L286.5,318M295.2,317.4Q295,316 294.4,315.6Q293.9,315.1 293.9,314.4Q293.9,313.7 293.6,313.1Q293.2,312.5 292.8,311.9Q292.4,311.3 292.5,310.6Q292.6,309.9 293.1,309.5L293.7,309M301.8,317.6Q301.1,316.4 301.4,315.8Q301.8,315.2 302.4,314.9Q303.1,314.7 303.7,314.9Q304.4,315.1 304.8,315.7Q305.3,316.2 305.1,316.9L304.9,317.6M306.3,317.3Q307,316.1 307.1,315.4Q307.1,314.7 307.7,314.4Q308.3,314.1 308.7,313.5Q309,312.9 309.6,312.5Q310.2,312.2 310.9,312.4L311.5,312.7M312,316.5Q310.6,316.6 309.9,316.6Q309.2,316.6 308.5,316.6Q307.8,316.5 307.1,316.6Q306.4,316.6 305.9,316.1Q305.4,315.6 305.2,315Q305,314.3 305.1,313.6Q305.3,312.9 305.8,312.4Q306.3,311.9 306.9,311.7L307.6,311.4M314.9,318.1Q314.1,316.9 313.5,316.6Q312.9,316.2 312.2,316.2Q311.5,316.2 310.9,316.5Q310.3,316.8 309.6,316.7Q308.9,316.6 308.4,316.1L307.9,315.6M414.6,317.5Q413.2,317.8 412.6,317.4Q412,317 411.4,317.1Q410.7,317.2 410,317.6Q409.4,317.9 408.8,318.1Q408.1,318.4 407.4,318.4Q406.7,318.4 406,318.5Q405.3,318.6 404.7,318.9Q404.1,319.2 403.6,319.7Q403.2,320.3 402.9,320.9L402.6,321.5M419.5,318.8Q419,317.5 419.1,316.8Q419.3,316.1 419.8,315.6Q420.2,315.1 420.8,314.8Q421.5,314.5 422,314Q422.5,313.5 422.9,312.9Q423.3,312.4 423.9,312.1L424.6,311.9M424.6,318.2Q423.6,317.2 422.9,317.1Q422.2,317 421.5,317Q420.8,316.9 420.2,316.6Q419.6,316.2 418.9,316.3Q418.2,316.4 417.6,316.7Q416.9,316.9 416.5,317.4Q416.1,318 416.1,318.7L416.2,319.4M431.9,317.4Q431,318.5 430.7,319.2Q430.4,319.8 430.5,320.5Q430.6,321.2 431.1,321.7Q431.7,322.1 432.2,322.6Q432.6,323.1 432.6,323.8Q432.6,324.5 432.1,325L431.6,325.5M436.4,317.6Q437.7,317.1 438.4,317.1Q439.1,317.1 439.6,317.6Q440.1,318 440.7,318.5Q441.2,318.9 441.7,319.4Q442.1,319.9 442.3,320.6Q442.5,321.3 442.9,321.9L443.3,322.5M279.3,322.7Q280.1,321.6 280.1,320.9Q280.1,320.2 279.8,319.5Q279.6,318.9 278.9,318.6Q278.3,318.3 277.9,317.7Q277.5,317.1 277.7,316.4L277.9,315.8M282.9,323Q281.7,322.4 281,322.2Q280.3,322 279.7,322.3Q279.1,322.6 278.8,323.2Q278.6,323.9 278.4,324.6Q278.2,325.2 277.9,325.9Q277.7,326.5 277.7,327.2L277.8,327.9M288,322Q286.8,322.7 286.1,322.7Q285.4,322.6 284.8,322.3Q284.2,321.9 284.1,321.2Q284.1,320.5 284.6,320Q285.1,319.6 285.1,318.9Q285.1,318.2 285,317.5Q284.9,316.8 285.4,316.3L285.9,315.8M291.8,323.7Q292.2,322.4 292,321.7Q291.7,321.1 291.1,320.8Q290.5,320.4 289.8,320.7Q289.2,321 288.6,321.4Q288.1,321.9 287.9,322.5L287.7,323.2M297.1,320.7Q297.7,321.9 298.4,322.2Q299,322.6 299.7,322.6Q300.4,322.6 301,322.4Q301.7,322.1 302.3,321.9Q303,321.7 303.7,321.5Q304.4,321.4 305,321.7Q305.6,322 306.1,322.5Q306.5,323.1 306.4,323.8L306.4,324.5M304.3,324Q305.7,324.2 306.4,324.3Q307.1,324.4 307.8,324.4Q308.5,324.4 309.2,324.2Q309.8,324 310.3,323.5Q310.8,323 311.5,323Q312.2,323 312.8,323.3Q313.5,323.6 314.2,323.6L314.9,323.6M309.7,322.4Q309.2,323.7 308.8,324.2Q308.4,324.8 307.8,325.2Q307.2,325.6 307,326.3Q306.7,326.9 306.8,327.6Q306.8,328.3 307.4,328.7Q308,329.1 308.7,329L309.4,329M314.2,321.6Q315.2,322.6 315,323.2Q314.9,323.9 314.5,324.5Q314.2,325.1 313.6,325.6Q313.1,326 312.4,325.8Q311.8,325.5 311.6,324.8Q311.4,324.2 311.9,323.7L312.4,323.2M319.2,322.2Q320.4,321.4 320.7,320.8Q321,320.1 321.6,319.8Q322.2,319.4 322.9,319.6Q323.5,319.8 324,320.3Q324.5,320.8 324.5,321.5L324.4,322.2M324.7,321.5Q325.9,320.7 326.6,320.7Q327.3,320.7 327.9,321Q328.5,321.3 329.2,321.3Q329.9,321.2 330.5,320.7Q331,320.3 331.7,320.3Q332.4,320.4 333,320.6Q333.7,320.9 334.1,321.5Q334.5,322 334.7,322.7Q334.9,323.4 335.3,323.9L335.8,324.4M327.7,320.8Q326.3,320.7 325.7,321Q325.2,321.4 324.8,322Q324.5,322.6 324.3,323.3Q324.2,324 324,324.7Q323.9,325.4 324.1,326.1L324.3,326.7M332,323.4Q330.6,323.4 330.1,323.8Q329.6,324.3 328.9,324.5Q328.3,324.8 327.6,324.9Q326.9,325.1 326.2,324.9Q325.5,324.8 324.8,324.6Q324.2,324.4 323.7,323.9Q323.1,323.4 323,322.8L322.9,322.1M337.6,322.7Q337.5,324.1 337.3,324.7Q337,325.4 337.3,326Q337.6,326.6 338.2,326.9Q338.9,327.2 339.4,327.7Q339.8,328.3 340,328.9Q340.2,329.6 340.2,330.3L340.2,331M412.6,321.9Q412.6,323.3 412.7,324Q412.7,324.7 412.4,325.3Q412,325.9 411.5,326.4Q411.1,326.9 410.4,327.2Q409.7,327.4 409,327.4Q408.3,327.4 407.6,327.3Q406.9,327.3 406.3,327L405.7,326.6M419.7,321.7Q419.6,323.1 419.2,323.6Q418.7,324.2 418.2,324.6Q417.7,325 417,325Q416.3,324.9 415.7,324.6Q415.1,324.2 414.8,323.5Q414.6,322.9 415,322.3L415.4,321.7M422.7,321.5Q421.3,321.6 420.7,322Q420.1,322.4 419.7,323Q419.4,323.6 419.7,324.2Q420,324.8 420.6,325.2Q421.2,325.6 421.8,325.9Q422.5,326.1 423.2,325.9Q423.8,325.7 424.3,325.2Q424.7,324.6 424.8,323.9L424.9,323.2M426.9,322.2Q425.5,322.2 424.8,322.3Q424.1,322.4 423.6,322.8Q423,323.2 422.5,323.6Q421.9,324 421.8,324.7Q421.6,325.4 421.7,326.1Q421.8,326.8 421.6,327.5Q421.4,328.1 421,328.7Q420.6,329.3 420.4,330Q420.1,330.6 419.8,331.2L419.5,331.9M433.7,322.2Q433.1,320.9 432.5,320.5Q431.9,320.2 431.8,319.5Q431.7,318.8 432.1,318.2Q432.5,317.7 433.2,317.4Q433.8,317 434.5,316.9Q435.1,316.8 435.8,316.7Q436.5,316.6 437.2,316.9Q437.8,317.2 438.3,317.7L438.7,318.2M439,324Q438.3,322.8 437.6,322.6Q436.9,322.4 436.2,322.5Q435.5,322.6 435.1,323.1Q434.7,323.7 434.8,324.4Q434.9,325.1 435.2,325.7L435.5,326.3M441.3,323.7Q442.6,323.1 443.3,323.2Q444,323.3 444.5,323.8Q445,324.3 445.1,325Q445.1,325.7 444.9,326.3Q444.7,327 444.3,327.6Q443.9,328.2 443.2,328.2Q442.5,328.2 441.9,328.5Q441.2,328.7 440.8,329.2L440.3,329.8M276.1,325.7Q275.7,324.4 276,323.8Q276.3,323.1 276.9,322.9Q277.6,322.7 278.2,323.1Q278.8,323.4 278.9,324.1Q279,324.8 278.6,325.4Q278.2,326 277.5,325.9Q276.8,325.9 276.3,326.5Q275.8,327 275.2,327.3L274.6,327.5M281.9,327.2Q280.6,327.6 280.2,328.2Q279.9,328.8 279.6,329.4Q279.4,330.1 279.5,330.8Q279.6,331.5 279.9,332.1Q280.2,332.7 280.1,333.4Q280.1,334.1 279.7,334.7Q279.3,335.2 279.5,335.9Q279.7,336.6 280.2,337.1L280.7,337.6M286,327.9Q285.2,329 284.6,329.4Q284.1,329.9 283.4,329.9Q282.7,329.9 282,329.7Q281.4,329.5 280.8,329.9Q280.3,330.4 280.3,331.1Q280.3,331.8 279.9,332.3Q279.4,332.8 279.5,333.5L279.6,334.2M290.5,326.8Q289.1,326.5 288.6,325.9Q288.1,325.4 287.9,324.8Q287.6,324.2 287.9,323.5Q288.2,322.9 288.9,322.7Q289.6,322.5 290.3,322.7Q290.9,322.8 291.3,323.4Q291.7,324 291.7,324.7Q291.7,325.4 291.3,325.9Q290.9,326.5 290.2,326.5L289.5,326.4M296.8,325.2Q295.5,324.9 294.8,325.1Q294.1,325.3 293.4,325.4Q292.7,325.4 292,325.5Q291.3,325.5 290.6,325.4Q290,325.3 289.4,325.7Q288.9,326.2 288.7,326.9Q288.6,327.5 288.6,328.2Q288.5,328.9 289,329.5L289.4,330M301.9,325.1Q301.2,323.9 301.1,323.2Q301,322.5 301.1,321.8Q301.2,321.1 301,320.5Q300.8,319.8 301.2,319.2Q301.5,318.6 302,318L302.4,317.5M307.1,325.1Q308.4,324.6 309.1,324.9Q309.7,325.2 309.6,325.9Q309.6,326.6 310.2,326.9Q310.8,327.3 311.1,327.9Q311.4,328.5 312,328.8L312.7,329.1M310.9,328.4Q312.2,327.8 312.9,327.7Q313.6,327.7 314.1,328.1Q314.7,328.6 315.4,328.7Q316.1,328.8 316.5,328.2Q316.9,327.7 317.5,327.3Q318.1,327 318.8,327.2L319.5,327.4M316.5,325Q315.1,325.2 314.6,324.7Q314.1,324.2 313.9,323.5Q313.7,322.8 314.1,322.2Q314.5,321.7 314.5,321Q314.5,320.3 314.2,319.6Q313.9,319 313.4,318.5L313,317.9M321.2,327.6Q322.1,328.6 322.2,329.3Q322.2,330 321.8,330.5Q321.3,331.1 320.6,331Q319.9,331 319.5,330.4Q319.1,329.8 319.2,329.1Q319.3,328.4 319.9,328.1Q320.5,327.7 321.1,328.1L321.8,328.4M325.7,328.3Q325,329.5 324.6,330.1Q324.2,330.7 323.9,331.3Q323.5,331.9 323.8,332.6Q324,333.3 324.2,333.9Q324.5,334.6 325,335L325.5,335.5M331.9,325.9Q332.8,324.9 332.7,324.2Q332.7,323.5 332.1,323Q331.6,322.6 331.2,322Q330.8,321.4 330.8,320.7Q330.8,320 331,319.4Q331.2,318.7 331.6,318.1Q332,317.5 332.3,316.9Q332.6,316.3 333.2,315.9Q333.8,315.5 333.8,314.8L333.9,314.1M335.8,325.1Q335.1,323.9 335,323.2Q334.9,322.5 335.3,321.9Q335.7,321.4 336.4,321.2Q337.1,321 337.8,320.9Q338.5,320.9 339.2,321Q339.9,321 340.5,321.3Q341.2,321.5 341.6,322.1Q342.1,322.6 342.5,323.2L342.9,323.7M341.1,327.7Q340.3,328.9 340.4,329.6Q340.6,330.3 341,330.9Q341.4,331.5 341.6,332.1Q341.9,332.7 341.9,333.4Q342,334.1 342.4,334.6L342.9,335.1M344.3,328.3Q345.7,328.6 346.4,328.7Q347.1,328.8 347.7,329.1Q348.3,329.5 348.8,330Q349.3,330.5 349.4,331.2Q349.4,331.9 349.6,332.5Q349.8,333.2 350.3,333.7Q350.8,334.2 351.5,334.3Q352.2,334.3 352.7,334.7Q353.3,335.1 353.4,335.8L353.5,336.5M351.1,325.8Q352.1,326.8 352.4,327.4Q352.7,328 353.4,328.2Q354.1,328.4 354.7,328.1Q355.3,327.7 355.8,327.2Q356.3,326.7 356.4,326Q356.6,325.3 356.2,324.8Q355.8,324.2 355.3,323.8L354.7,323.4M354.7,326.1Q353.7,327 353.6,327.7Q353.5,328.4 354,328.9Q354.5,329.3 355.2,329.5Q355.9,329.6 356.5,329.9Q357.1,330.3 357.2,331Q357.3,331.7 357.3,332.4Q357.3,333.1 357,333.7Q356.7,334.4 357,335L357.3,335.6M361.1,327.8Q360.1,328.7 359.9,329.4Q359.8,330.1 360,330.8Q360.1,331.5 360.7,331.9Q361.3,332.3 362,332.3Q362.7,332.3 363.2,331.9L363.7,331.4M400.7,326.7Q400.7,328.1 400.4,328.7Q400.2,329.4 399.5,329.5Q398.8,329.7 398.6,330.3Q398.3,331 398.2,331.7Q398.2,332.4 398,333Q397.8,333.7 397.5,334.3L397.1,334.9M405.9,327.9Q404.9,326.9 404.2,326.8Q403.5,326.7 402.8,326.6Q402.1,326.5 401.4,326.5Q400.7,326.4 400.1,326.7Q399.5,327.1 398.9,327.4Q398.2,327.7 397.6,328Q397,328.3 396.3,328.2L395.6,328.1M411.4,327.4Q410.6,326.3 410.4,325.6Q410.3,324.9 410.4,324.2Q410.6,323.6 411.3,323.3Q411.9,323.1 412.6,323.1Q413.3,323.2 413.9,322.8L414.5,322.4M415,325Q413.6,325.4 413.2,325.9Q412.7,326.4 412.4,327Q412.1,327.7 412.1,328.4Q412,329.1 411.6,329.6Q411.2,330.2 410.6,330.6Q410.1,331 409.4,330.9L408.7,330.8M420.8,327Q421.3,325.7 421,325.1Q420.7,324.5 420.6,323.8Q420.5,323.1 421,322.5Q421.4,322 421.2,321.3Q421,320.6 420.6,320.1Q420.1,319.6 420.2,318.9L420.3,318.2M425.5,327.8Q426.8,328.2 427.5,328.5Q428.1,328.8 428.8,328.8Q429.5,328.9 430.1,328.5Q430.7,328.2 431,327.5Q431.2,326.9 430.9,326.3Q430.5,325.7 430,325.2Q429.5,324.7 429.3,324Q429.1,323.3 429.4,322.7L429.7,322.1M430.4,326.5Q430.2,327.9 430.4,328.6Q430.6,329.2 431,329.8Q431.5,330.3 431.5,331Q431.4,331.7 431.8,332.3Q432.2,332.9 432.1,333.6L431.9,334.3M435.8,325.8Q435.6,324.4 435,324Q434.5,323.5 433.9,323.8Q433.2,324.1 432.5,324Q431.8,324 431.4,323.5Q431,322.9 430.8,322.3Q430.6,321.6 430.9,321Q431.2,320.3 431.9,320.1Q432.5,319.9 433.2,320L433.9,320M441.8,325.9Q442.2,324.6 442.2,323.9Q442.3,323.2 442.1,322.5Q441.9,321.8 441.4,321.4Q440.8,321 440.1,321Q439.4,321 438.7,321.2Q438.1,321.4 437.4,321.7Q436.8,322 436.1,322.2Q435.5,322.4 434.8,322.5L434.1,322.6M272.6,332.5Q271.6,333.5 271,333.8Q270.4,334.1 269.7,334.3Q269,334.5 268.4,334.2Q267.7,333.9 267,333.9Q266.3,333.9 265.8,334.4Q265.3,334.8 265.1,335.5Q265,336.2 265.3,336.8Q265.7,337.4 266.3,337.8L266.9,338.2M276.8,332.5Q277.2,333.8 277.1,334.5Q277.1,335.2 276.6,335.7Q276.1,336.2 275.5,336.5Q274.8,336.7 274.1,336.6Q273.4,336.5 272.8,336.2Q272.3,335.8 271.6,336.1Q271,336.3 270.7,337L270.3,337.6M282.3,332.1Q281.9,330.8 281.2,330.5Q280.6,330.2 279.9,330.6Q279.3,330.9 279.3,331.6Q279.2,332.3 279.5,332.9Q279.8,333.6 279.6,334.2Q279.5,334.9 279.9,335.5Q280.3,336 280.9,336.4Q281.5,336.8 282.2,336.8Q282.9,336.8 283.5,337L284.2,337.2M289.3,331.1Q288.2,332 287.6,331.9Q286.9,331.7 286.3,332.1Q285.7,332.5 285.6,333.2Q285.4,333.9 285.6,334.5Q285.9,335.2 286.3,335.7Q286.8,336.2 287.4,336.5Q288.1,336.7 288.8,336.7Q289.5,336.7 289.9,337.2L290.4,337.8M316.7,329.7Q316.6,331.1 317,331.7Q317.3,332.3 318,332.5Q318.6,332.7 319.2,332.2Q319.7,331.8 320.4,331.9Q321.1,332.1 321.7,332.5Q322.2,332.8 322.5,333.5L322.8,334.1M322.3,330.8Q322.4,329.4 322.2,328.7Q322,328.1 321.4,327.8Q320.7,327.6 320.2,328Q319.7,328.5 319,328.7Q318.3,328.8 317.6,328.8Q316.9,328.8 316.3,328.5L315.6,328.3M333.5,332.3Q334.3,331.2 334.7,330.6Q335.1,330 334.9,329.3Q334.8,328.7 334.2,328.3Q333.5,328 332.9,328.2Q332.2,328.5 331.6,328.8L331,329.2M338.7,330.8Q339.2,332.2 339.5,332.8Q339.9,333.4 339.9,334.1Q340,334.8 339.8,335.5Q339.6,336.1 339.1,336.6Q338.6,337.1 338,337.5Q337.4,338 336.8,337.9Q336.1,337.7 335.6,337.2Q335.2,336.7 334.9,336L334.6,335.4M342.3,330.4Q341.5,331.6 340.8,331.7Q340.1,331.9 339.4,331.8Q338.7,331.7 338.3,331.2Q337.8,330.6 337.7,330Q337.5,329.3 337,328.8Q336.5,328.3 336,327.8Q335.5,327.3 334.9,327Q334.3,326.6 333.7,326.3Q333.1,325.9 332.4,325.8L331.7,325.6M349.2,330.6Q348.7,329.3 349.1,328.7Q349.4,328.1 349.3,327.4Q349.2,326.7 348.6,326.3Q348.1,325.8 347.8,325.2Q347.6,324.5 347.7,323.8Q347.7,323.1 348,322.5Q348.3,321.8 349,321.7Q349.7,321.5 350.3,321.9L350.9,322.3M351.5,331.2Q351.3,329.9 350.9,329.3Q350.5,328.7 349.9,328.4Q349.3,328 348.7,327.6Q348.2,327.2 347.7,326.7Q347.2,326.2 346.8,325.6Q346.4,325 345.9,324.5Q345.5,324 344.8,323.7Q344.2,323.3 343.9,322.7Q343.6,322.1 343,321.6L342.5,321.2M358.2,332.6Q357.1,331.8 356.5,332.2Q355.9,332.6 355.8,333.3Q355.6,334 354.9,334.1Q354.2,334.3 353.6,334.2Q352.9,334 352.2,334.2Q351.5,334.4 351.2,335Q351,335.7 351.2,336.3Q351.5,337 352.2,337.2Q352.8,337.4 353.4,336.9L353.9,336.5M364.1,329.8Q362.8,330.2 362.1,330.5Q361.5,330.8 361.2,331.4Q360.9,332 360.8,332.7Q360.8,333.4 361.2,334Q361.6,334.5 361.9,335.2L362.1,335.8M368.4,330.3Q367.3,331.1 366.7,331.5Q366.2,332 365.5,331.9Q364.8,331.7 364.3,331.3Q363.7,330.9 363.4,330.2Q363.1,329.6 362.8,329L362.5,328.4M373.4,330Q374.8,330.1 375.4,329.9Q376.1,329.6 376.7,329.8Q377.4,330 377.9,330.5Q378.3,331.1 378.6,331.7Q379,332.3 379.4,332.8L379.9,333.3M377,330.7Q377.5,332 377.3,332.7Q377.1,333.3 376.8,334Q376.4,334.6 376.7,335.2Q377,335.9 377.4,336.4Q377.8,337 378.4,337.4Q379,337.7 379.7,337.7Q380.4,337.6 381,337.3Q381.6,336.9 382.3,336.7L382.9,336.4M384.2,331.5Q385.2,330.5 385.1,329.8Q384.9,329.1 385.3,328.6Q385.7,328 386.4,327.7Q387,327.4 387.7,327.4Q388.4,327.3 389,327Q389.6,326.7 389.7,326Q389.8,325.3 389.6,324.6Q389.4,324 388.7,323.9L388,323.7M388.9,332.7Q390.2,333.2 390.7,333.7Q391.2,334.2 391.2,334.9Q391.2,335.6 390.7,336Q390.1,336.5 389.4,336.3Q388.7,336.1 388.5,335.5Q388.2,334.8 387.6,334.5L387,334.2M393.8,329.4Q395.1,329.9 395.5,330.5Q395.9,331.1 396,331.8Q396.1,332.5 395.8,333.1Q395.6,333.8 395.8,334.4Q396.1,335.1 396.7,335.4Q397.3,335.7 398,335.5L398.6,335.2M397.5,331.7Q396.7,330.6 396.7,329.9Q396.6,329.2 396,328.8Q395.4,328.5 394.7,328.7Q394,328.9 393.4,328.7Q392.7,328.5 392.3,327.9Q392,327.3 391.8,326.6Q391.6,325.9 392.1,325.4L392.6,324.9M401.9,332.1Q401.7,333.4 401.8,334.1Q402,334.8 402,335.5Q402.1,336.2 402,336.9Q401.9,337.6 401.5,338.1Q401.1,338.7 400.5,339.2Q400,339.6 399.7,340.2Q399.4,340.9 398.8,341.2L398.1,341.5M408.4,332.1Q409.8,332 410.5,331.8Q411.2,331.6 411.8,331.8Q412.5,332 413.1,332.4Q413.7,332.7 414.2,333.2Q414.8,333.6 415.2,334.2L415.6,334.8M411.6,330.7Q410.2,330.6 409.5,330.8Q408.8,330.9 408.5,331.5Q408.2,332.2 408.5,332.8Q408.9,333.4 409.6,333.5Q410.3,333.6 410.7,334.2L411.1,334.7M418.4,330.9Q417.1,330.4 416.5,330.1Q415.9,329.7 415.5,329.1Q415.1,328.6 415.2,327.9Q415.4,327.2 415.8,326.6Q416.2,326.1 416.9,325.9Q417.6,325.6 418.2,325.5Q418.9,325.3 419.3,324.7Q419.6,324 419.7,323.4Q419.8,322.7 419.4,322.1L419,321.6M423.7,330.1Q423.7,328.7 424,328.1Q424.4,327.5 424.9,327Q425.4,326.6 425.9,326.1Q426.4,325.6 427,325.2Q427.7,324.9 428.3,324.6Q428.9,324.3 429.6,324.6Q430.2,324.9 430.7,325.4Q431.1,326 431,326.7L430.9,327.4M427.2,330.7Q426.4,329.6 425.7,329.5Q425,329.4 424.4,329.8Q423.9,330.3 423.7,331Q423.6,331.6 424,332.2Q424.4,332.8 425,333.2Q425.6,333.5 426.3,333.6Q426.9,333.7 427.6,333.9L428.3,334M433.1,332.5Q432.1,331.5 431.4,331.4Q430.7,331.4 430,331.5Q429.4,331.7 428.7,331.7Q428,331.8 427.3,331.6Q426.6,331.3 425.9,331.2Q425.3,331.1 424.9,330.5Q424.5,329.9 424.4,329.2Q424.4,328.5 424.4,327.8L424.4,327.1M437.7,332.8Q437.2,334.1 437.2,334.8Q437.1,335.5 437.3,336.2Q437.4,336.8 437.4,337.5Q437.3,338.2 437,338.9Q436.6,339.5 436.1,339.9Q435.5,340.3 434.9,340.1Q434.2,339.9 433.8,339.4L433.4,338.8M274.8,334.1Q273.5,333.8 272.9,334.3Q272.3,334.7 272.1,335.3Q271.9,336 271.8,336.7Q271.7,337.4 272,338Q272.4,338.6 273,339L273.6,339.4M280.4,335.4Q281.6,336.1 282.2,335.8Q282.9,335.5 283.3,335Q283.8,334.5 283.7,333.8Q283.5,333.1 284,332.6Q284.4,332 285.1,332.2L285.7,332.4M285.1,335.3Q285.1,333.9 285.4,333.3Q285.6,332.6 285.3,332Q285,331.4 284.3,331.3Q283.6,331.2 283,331.7Q282.5,332.2 282.2,332.8Q281.9,333.4 281.9,334.1Q281.9,334.8 281.7,335.5L281.4,336.2M345.8,335.3Q345.9,333.9 346.3,333.3Q346.6,332.7 347.3,332.5Q347.9,332.3 348.4,331.8Q348.9,331.3 348.7,330.6Q348.5,330 347.9,329.6Q347.3,329.3 347.1,328.6L346.8,328M350.3,336.4Q349,337 348.8,337.7Q348.5,338.3 348.8,338.9Q349.2,339.5 349.9,339.5Q350.6,339.5 351.1,339.9Q351.6,340.4 351.9,341Q352.3,341.6 353,341.7Q353.7,341.8 353.9,342.5Q354.2,343.1 353.9,343.8Q353.7,344.4 353.3,345L352.8,345.5M353.9,335.6Q354.2,334.3 353.8,333.7Q353.4,333.1 352.9,332.7Q352.3,332.2 351.8,331.7Q351.3,331.3 350.7,330.9Q350,330.6 349.5,330.1Q349,329.7 348.7,329Q348.5,328.4 348.2,327.7Q348,327.1 348.2,326.4L348.4,325.7M359.7,334.7Q360.1,333.3 360.1,332.6Q360.1,331.9 359.6,331.5Q359.1,331 358.5,330.7Q357.8,330.4 357.5,329.8Q357.1,329.2 357.3,328.5Q357.4,327.8 357.2,327.2L357.1,326.5M366.7,335.8Q367.4,334.6 367.9,334.1Q368.4,333.6 369,333.7Q369.7,333.9 370.3,334.3Q370.9,334.6 371.1,335.3Q371.3,336 371.1,336.6Q370.8,337.3 370.2,337.6L369.6,337.9M370.3,334.8Q369.9,336.2 370,336.9Q370.1,337.6 370.5,338.1Q370.9,338.7 371.3,339.3Q371.7,339.8 372.2,340.3Q372.8,340.7 373.5,340.7Q374.2,340.7 374.8,340.3Q375.3,339.9 376,340Q376.7,340.1 377.4,340.3L378,340.5M374.8,336Q375,334.6 375.6,334.1Q376.1,333.6 376.8,333.8Q377.4,334 378.1,333.8Q378.8,333.7 379.2,333.1Q379.6,332.5 379.7,331.8L379.9,331.1M381.4,334Q380.1,333.4 379.9,332.8Q379.7,332.1 380.1,331.6Q380.5,331 380.5,330.3Q380.5,329.6 379.9,329.2Q379.3,328.8 378.7,329.1Q378.1,329.4 377.6,329.9Q377.1,330.4 377.3,331.1Q377.5,331.8 378.2,332Q378.8,332.3 379.5,332L380.1,331.7M386.5,334.7Q385.1,334.7 384.4,335Q383.8,335.2 383.2,335.7Q382.7,336.1 382.7,336.8Q382.7,337.5 383.3,337.9Q384,338.2 384.6,337.9Q385.3,337.7 386,337.7Q386.7,337.8 387.3,338L388,338.2M390.2,335.2Q391.3,336.1 391.6,336.7Q392,337.3 392,338Q392,338.7 392.5,339.2Q393,339.7 393.3,340.3Q393.6,340.9 393.4,341.6Q393.1,342.2 392.5,342.6Q391.9,342.9 391.2,342.8Q390.5,342.7 389.9,342.4Q389.2,342.2 389,341.5L388.7,340.9M394,333.9Q392.7,333.2 392.5,332.5Q392.2,331.9 392.3,331.2Q392.3,330.5 392,329.9Q391.6,329.3 391.2,328.7Q390.8,328.1 390.8,327.4Q390.8,326.7 390.5,326.1L390.2,325.5M399.6,335.7Q398.7,336.8 398,336.8Q397.3,336.7 396.6,336.6Q395.9,336.4 395.3,336.1Q394.7,335.8 394,335.7Q393.3,335.6 392.6,335.8L392,336.1M406.6,334.5Q406.9,335.9 407.3,336.5Q407.7,337.1 408.3,337.3Q409,337.5 409.7,337.6Q410.4,337.6 411,337.4Q411.7,337.1 412.2,336.6Q412.7,336.1 412.9,335.5L413,334.8M412.1,336.2Q411.6,337.6 411.1,338Q410.5,338.4 409.9,338Q409.3,337.7 408.7,338.1Q408.1,338.4 407.6,338Q407,337.6 406.3,337.6Q405.6,337.7 405.1,338.1Q404.5,338.6 403.9,338.7Q403.2,338.8 402.9,339.5Q402.7,340.1 402.7,340.8L402.6,341.5M414.8,336.4Q416.1,337 416.7,336.8Q417.4,336.6 417.6,335.9Q417.8,335.2 418.2,334.7Q418.7,334.2 419.4,334.1Q420.1,334 420.4,333.3Q420.7,332.7 420.4,332.1L420.1,331.5M422.2,334.4Q423.3,333.5 423.9,333.1Q424.5,332.8 425.2,333Q425.9,333.1 426.5,333.4Q427.1,333.7 427.7,334.1Q428.3,334.5 428.3,335.2Q428.4,335.9 428.1,336.6Q427.9,337.2 427.2,337.5Q426.6,337.8 425.9,337.8L425.2,337.8M424.6,335.1Q424.4,333.7 424,333.2Q423.6,332.6 423.4,332Q423.3,331.3 423.8,330.9Q424.4,330.4 424.5,329.7Q424.7,329.1 424.6,328.4Q424.5,327.7 424.9,327.1Q425.2,326.5 425.9,326.5Q426.6,326.4 427,327Q427.4,327.6 427.4,328.3L427.4,329M430.8,335Q430.4,333.7 430.6,333Q430.7,332.3 430.4,331.7Q430.1,331.1 429.4,331Q428.7,330.9 428.1,331.3Q427.6,331.7 427.6,332.4Q427.6,333.1 427.7,333.8Q427.8,334.5 428.4,334.9Q429,335.2 429.7,335.1Q430.4,335.1 430.9,334.6L431.5,334.2M435.5,334.7Q436.1,336 436.1,336.7Q436.1,337.4 435.5,337.8Q435,338.2 434.3,338.3Q433.6,338.4 433,337.9Q432.5,337.5 432.4,336.8L432.3,336.1M441.1,334Q441.9,332.8 441.5,332.2Q441.2,331.6 440.5,331.6Q439.8,331.6 439.3,332.1Q438.8,332.6 439,333.3Q439.2,334 439.8,334.4Q440.3,334.8 440.3,335.5Q440.3,336.2 440.6,336.8Q440.9,337.5 441.4,338L441.9,338.4M273.2,340.7Q272.4,341.9 272.4,342.6Q272.4,343.3 272.8,343.9Q273.1,344.6 273.7,345Q274.2,345.4 274.9,345.1Q275.5,344.8 276.1,345Q276.8,345.3 276.9,346L277,346.7M276.4,339.9Q275.8,338.6 275.7,337.9Q275.7,337.2 276,336.6Q276.4,336 277.1,336.1Q277.8,336.1 278.3,336.6Q278.8,337.1 278.9,337.8Q278.9,338.5 278.6,339.1Q278.4,339.8 277.9,340.3L277.5,340.9M282.3,339.5Q281.9,340.8 282.3,341.4Q282.7,342 282.9,342.7Q283.1,343.4 283,344.1Q282.9,344.8 282.6,345.4Q282.2,346 282.1,346.7L282,347.4M359,338.8Q359.5,337.5 360.1,337.1Q360.7,336.8 361.3,337.1Q362,337.4 362.1,338.1Q362.3,338.8 361.9,339.4Q361.6,340 361.1,340.5Q360.7,341.1 360,341.4Q359.4,341.7 359.1,342.3Q358.8,342.9 358.2,343.3L357.6,343.7M362.6,338.7Q362.9,340 362.6,340.7Q362.3,341.3 362.3,342Q362.2,342.7 361.6,343.1Q361.1,343.5 360.4,343.4Q359.7,343.3 359,343Q358.4,342.8 357.8,342.3Q357.3,341.9 357,341.3Q356.6,340.6 356.6,339.9L356.7,339.3M367.3,339.6Q367.2,338.2 366.9,337.6Q366.6,336.9 366.9,336.3Q367.3,335.7 367.3,335Q367.4,334.3 367,333.7Q366.7,333.1 366.7,332.4Q366.7,331.7 367.2,331.2Q367.8,330.8 368.1,330.2Q368.4,329.6 369.1,329.4Q369.8,329.2 370.5,329.3L371.2,329.5M374.3,339.5Q374.9,338.3 375.2,337.6Q375.4,337 375.4,336.3Q375.4,335.6 375.2,334.9Q375,334.2 374.5,333.7Q374,333.2 373.4,333Q372.7,332.8 372.3,332.2Q371.8,331.7 371.9,331L371.9,330.3M377.9,339.7Q376.7,340.6 376.3,341.1Q375.8,341.6 376.1,342.3Q376.3,343 376,343.6Q375.7,344.2 375.1,344.5Q374.5,344.9 373.9,344.5Q373.2,344.2 373.1,343.5Q372.9,342.9 373.4,342.3L373.8,341.7M384.4,338.7Q384.2,337.3 384.4,336.6Q384.5,336 384.8,335.3Q385.2,334.7 385.9,334.6Q386.5,334.4 386.8,333.8Q387.2,333.2 387.8,333Q388.5,332.7 389.2,332.8Q389.9,332.9 390.3,333.5Q390.7,334 391,334.7L391.2,335.3M388.9,339.3Q389.1,337.9 389.8,337.7Q390.4,337.4 391,337.8Q391.6,338.1 392,338.8Q392.3,339.4 391.8,339.9Q391.4,340.5 390.7,340.7L390,340.8M394.2,340.2Q393.2,341.2 393.1,341.9Q392.9,342.5 392.4,343Q391.8,343.4 391.1,343.5Q390.4,343.7 389.8,343.5Q389.1,343.4 388.5,343Q387.9,342.7 387.5,342.1L387.2,341.4M398.8,340.1Q400.2,339.8 400.7,339.3Q401.2,338.8 401.8,338.5Q402.5,338.2 403.1,338.5Q403.7,338.8 404.4,338.5Q405,338.2 405.3,337.5Q405.7,336.9 405.7,336.2Q405.8,335.5 405.2,335.1Q404.7,334.7 404,334.6L403.3,334.5M401.9,340.7Q400.9,339.9 400.2,339.5Q399.6,339.2 399,339Q398.3,338.7 397.6,338.8Q396.9,338.9 396.3,339.3Q395.7,339.7 395.2,340.1Q394.6,340.6 394.6,341.2Q394.5,341.9 394.4,342.6L394.3,343.3M408.5,339Q408.6,337.7 409.1,337.2Q409.7,336.7 410.4,336.8Q411.1,336.8 411.5,337.4Q411.9,337.9 412.6,337.9Q413.3,337.9 413.8,337.4Q414.3,336.9 414.3,336.2Q414.4,335.5 414.2,334.8L414,334.1M414.2,339.9Q414.4,341.3 414.1,342Q413.8,342.6 413.8,343.3Q413.7,344 414.1,344.6Q414.4,345.2 415.1,345.4Q415.8,345.5 416.4,345.4L417.1,345.3M416.5,338.3Q417.9,338.5 418.4,338Q418.9,337.5 419.1,336.8Q419.3,336.1 419.9,335.7Q420.4,335.3 421.1,335Q421.7,334.7 422.3,335Q422.9,335.4 423.6,335.6Q424.2,335.9 424.9,335.6Q425.5,335.4 426.2,335.4Q426.9,335.4 427.4,335.9L428,336.4M423.5,338.8Q424.6,339.7 425.3,339.8Q426,339.9 426.6,339.7Q427.3,339.5 427.9,339.1Q428.5,338.8 429.2,338.9Q429.9,338.9 430.6,338.7Q431.3,338.6 431.6,338L432,337.4M429.4,339.5Q428.5,340.7 427.9,340.9Q427.2,341.1 426.8,341.7Q426.5,342.3 426.6,343Q426.7,343.7 427.4,344Q428,344.3 428,345Q428,345.7 427.8,346.4L427.6,347M432.9,339.1Q434,340 434.6,340.3Q435.1,340.7 435.8,341Q436.4,341.3 437.1,341.1Q437.8,341 438.5,341.2Q439.2,341.4 439.6,341.9L440,342.5M437.9,338.2Q437.3,337 437.2,336.3Q437.2,335.6 437.4,334.9Q437.6,334.2 438,333.6Q438.4,333 438.3,332.3Q438.3,331.6 438.8,331.2Q439.4,330.7 440.1,330.8Q440.8,330.9 441.4,331.2Q442,331.4 442.2,332.1Q442.3,332.8 442.7,333.4L443.1,334M272.2,345Q273,343.9 273.1,343.2Q273.3,342.5 273.6,341.9Q273.9,341.3 273.9,340.6Q273.8,339.9 273.5,339.3Q273.1,338.7 272.5,338.3Q271.9,338 271.2,337.9L270.5,337.9M273.8,345Q273.4,343.6 273.3,343Q273.2,342.3 273.2,341.6Q273.3,340.9 273.7,340.4Q274.2,339.8 274.5,339.2Q274.7,338.5 274.5,337.9Q274.4,337.2 273.8,336.8L273.2,336.4M279,345.4Q278.7,346.8 278,347Q277.3,347.2 277.2,347.9Q277,348.6 277.2,349.2Q277.4,349.9 277.8,350.5Q278.2,351.1 278.9,351Q279.6,350.9 279.9,350.3L280.1,349.6M389.1,343.5Q387.9,344.2 387.2,344.2Q386.5,344.2 386.1,343.7Q385.7,343.1 385.8,342.4Q385.8,341.7 386.2,341.1Q386.6,340.5 387.2,340.2Q387.8,339.9 388.1,339.2Q388.3,338.5 388.8,338Q389.2,337.5 389.9,337.4Q390.6,337.4 391.3,337.6L391.9,337.9M405.6,343.9Q405.5,345.3 405.3,345.9Q405.1,346.6 404.6,347.2Q404.2,347.7 404.2,348.4Q404.2,349.1 404.3,349.8Q404.4,350.5 404.7,351.2Q404.9,351.8 405.4,352.4Q405.8,352.9 406.5,353.1L407.1,353.4M416.9,344Q418.2,343.6 418.8,343.2Q419.4,342.9 420,343.2Q420.7,343.5 421.3,343.2Q422,343 422.7,343Q423.4,343 424,343.4Q424.5,343.8 425,344.3Q425.5,344.8 426.1,345.1Q426.8,345.4 426.9,346.1Q427,346.8 427.3,347.4L427.5,348.1M420.2,344.4Q418.9,343.9 418.3,344.2Q417.7,344.6 417.6,345.3Q417.5,346 417.8,346.6Q418.2,347.2 418.1,347.9Q417.9,348.5 417.4,349.1Q417,349.6 416.3,349.8Q415.6,350 415.2,350.6L414.7,351.1M429.5,343.5Q428.6,342.4 427.9,342.1Q427.3,341.9 427.2,341.2Q427,340.5 426.6,339.9Q426.1,339.4 425.4,339.4Q424.7,339.4 424.1,339.7Q423.4,340 422.9,340.5Q422.5,341 422.6,341.7L422.8,342.4M274,346.9Q273.2,348 272.5,348.3Q271.9,348.5 271.3,348.9Q270.8,349.3 270.5,350Q270.3,350.7 270.6,351.3Q271,351.9 271.6,352.2L272.2,352.5M279.5,350.1Q279.7,348.7 279.4,348Q279.2,347.4 278.5,347.1Q277.9,346.7 277.2,346.6Q276.5,346.5 276,346.9Q275.4,347.3 274.9,347.8Q274.4,348.3 274.4,349Q274.4,349.7 274.9,350.2L275.4,350.7M284,346.8Q283.9,345.4 284.3,344.8Q284.7,344.2 284.8,343.6Q284.9,342.9 284.9,342.2Q284.9,341.5 284.8,340.8Q284.7,340.1 284.5,339.4Q284.3,338.7 283.9,338.2Q283.4,337.6 282.9,337.1L282.4,336.7M271.7,353.4Q272.8,352.4 273.2,351.9Q273.7,351.4 273.8,350.7Q273.8,350 273.5,349.4Q273.3,348.7 273.5,348Q273.7,347.4 273.9,346.7Q274.1,346 274.6,345.5L275,345M276.6,353.4Q277.4,352.2 277.1,351.6Q276.9,350.9 276.9,350.2Q276.9,349.5 277.1,348.8Q277.3,348.2 277.3,347.5Q277.2,346.8 277,346.1L276.8,345.4M279.5,354.1Q278.2,354.5 277.5,354.4Q276.8,354.3 276.4,353.8Q275.9,353.2 276.2,352.6Q276.4,351.9 277,351.6Q277.7,351.2 278.3,351.4L279,351.6M271.8,358.3Q272.5,357.1 272.2,356.4Q272,355.7 271.4,355.4Q270.7,355.1 270.4,354.5Q270,353.9 270.1,353.2Q270.1,352.5 269.7,351.9Q269.2,351.4 268.5,351.5L267.8,351.6M276.4,355.7Q276.2,357.1 276.5,357.7Q276.8,358.4 277.4,358.8Q277.9,359.1 278.6,359.3Q279.3,359.4 279.8,358.9Q280.3,358.4 280.2,357.7Q280.1,357 279.6,356.5Q279.2,355.9 279.4,355.3L279.5,354.6M283.6,357Q282.4,356.3 281.7,356.4Q281,356.5 280.4,356.9Q279.7,357.2 279,357.2Q278.3,357.1 277.7,357.4Q277.1,357.7 276.8,358.4Q276.5,359 276.6,359.7Q276.7,360.4 276.3,360.9Q275.9,361.5 275.9,362.2Q275.9,362.9 276.3,363.5L276.7,364.1M275.4,359.7Q275.9,358.4 276.6,358.2Q277.3,358.1 277.7,358.6Q278.2,359.1 278.5,359.7Q278.7,360.4 278.4,361Q278,361.6 277.8,362.2Q277.6,362.9 277.8,363.6L278,364.2M280.8,362.4Q281.5,363.5 282.1,364Q282.7,364.4 283.4,364.4Q284.1,364.4 284.8,364.5Q285.5,364.5 286,365Q286.6,365.4 287.2,365.7Q287.8,366 288.5,366.3Q289.1,366.6 289.5,367.2Q289.9,367.8 290.3,368.3Q290.8,368.8 291.3,369.4L291.7,369.9M273,365.1Q271.7,365.7 271.1,366Q270.5,366.3 269.8,366.1Q269.1,366 268.7,365.4Q268.3,364.8 267.9,364.2Q267.5,363.7 267.1,363.1L266.7,362.5M276.7,366.8Q275.5,367.4 274.8,367.2Q274.1,367 273.5,367.4Q272.9,367.7 272.5,368.3Q272.1,368.8 271.5,369.2Q270.8,369.5 270.2,369.4L269.5,369.3M284.5,366.5Q284,365.2 283.4,364.7Q282.9,364.3 282.6,363.7Q282.3,363 282.5,362.4Q282.8,361.7 283.3,361.2Q283.8,360.7 284.4,360.4L285,360M271.9,371.2Q273.3,371.3 273.8,370.8Q274.2,370.3 274.1,369.6Q273.9,368.9 273.5,368.4Q273,367.9 273.1,367.2Q273.3,366.5 273.5,365.8Q273.8,365.2 274.4,364.9L275,364.5M274.2,368.4Q275.4,369.1 275.4,369.8Q275.5,370.5 275.2,371.2Q275,371.8 274.3,372Q273.7,372.2 273,372.3Q272.3,372.3 271.6,372.3Q270.9,372.2 270.4,371.7Q269.9,371.2 269.9,370.5Q269.9,369.8 270.3,369.2Q270.7,368.6 271.4,368.4L272.1,368.2M279.5,369.2Q280,370.5 280.1,371.2Q280.1,371.9 280.7,372.2Q281.3,372.6 281.2,373.3Q281.1,374 280.5,374.2Q279.8,374.4 279.6,375.1Q279.4,375.7 279.6,376.4Q279.9,377.1 280.3,377.6L280.8,378.1M284.7,369.8Q286.1,369.5 286.3,368.9Q286.6,368.2 286.1,367.7Q285.6,367.2 284.9,367.3Q284.2,367.4 283.8,368Q283.4,368.6 283.3,369.2Q283.1,369.9 283.5,370.5L283.9,371.1M272.5,374.4Q272,375.7 272.4,376.3Q272.7,376.9 273.3,377.3Q273.9,377.6 274.2,378.2Q274.5,378.9 274.7,379.5Q275,380.1 275.3,380.8Q275.6,381.4 275.6,382.1L275.5,382.8M276.5,374.8Q277.5,375.8 278,376.3Q278.5,376.7 279.2,377Q279.8,377.3 280.5,377.5Q281.2,377.7 281.8,377.9Q282.5,378.1 283.2,378.3L283.8,378.5M284.2,374.5Q283.7,373.2 283,372.9Q282.4,372.7 281.7,372.5Q281,372.4 280.4,372.8Q279.8,373.2 279.3,373.6Q278.8,374.1 278.5,374.7Q278.1,375.3 277.4,375.5L276.7,375.7M271.7,378.4Q270.6,379.2 269.9,379.1Q269.2,379 268.8,379.5Q268.4,380.1 268.2,380.8Q268.1,381.5 268.4,382.1Q268.7,382.7 269.2,383.1Q269.8,383.5 270.4,383.1Q271,382.8 271.7,382.9Q272.4,383.1 273.1,382.9L273.8,382.8M274.7,376.9Q275.9,376.3 276.6,376.5Q277.3,376.8 277.7,377.3Q278.1,377.9 278.8,378.2Q279.4,378.5 280.1,378.4Q280.8,378.3 281.4,377.9Q282,377.6 282.5,377.1Q283.1,376.7 283.8,376.8L284.4,376.9M281.6,377.3Q283,377.7 283.7,377.5Q284.3,377.2 284.8,376.7Q285.3,376.2 285.1,375.5Q285,374.8 285.4,374.2Q285.7,373.7 285.6,373Q285.5,372.3 285.9,371.7Q286.3,371.1 287,371.1L287.7,371.1M273.3,384.1Q274.5,384.7 274.7,385.4Q274.8,386.1 275.4,386.5Q276,386.9 276.7,387Q277.4,387 278.1,386.9Q278.7,386.7 279.3,387.1L279.9,387.6M276.7,381.8Q277.4,380.6 278,380.2Q278.5,379.7 279.2,379.9Q279.9,380.1 280.5,380.5Q281,380.9 281,381.6Q281.1,382.3 280.5,382.7L279.9,383.1M282.7,381.5Q283.9,382.2 284.4,382.8Q284.8,383.3 285.5,383.4Q286.2,383.6 286.9,383.5Q287.6,383.4 288.1,382.9Q288.7,382.5 289.2,382Q289.8,381.6 290.2,381.1L290.6,380.5M274.6,386.2Q274.5,384.8 275.1,384.4Q275.6,383.9 276.3,383.8Q277,383.7 277.6,384.1Q278.2,384.4 278.3,385.1Q278.3,385.8 278,386.4L277.6,387M279.2,387Q280.3,386.2 281,386.2Q281.7,386.3 282.3,386.6Q282.9,386.8 283.6,386.7Q284.3,386.5 284.9,386.2Q285.6,386 286.1,385.5Q286.5,384.9 286.9,384.4Q287.3,383.8 287.1,383.1L287,382.4M273.4,392.8Q274.2,391.7 274.4,391Q274.5,390.3 274,389.8Q273.5,389.3 273.6,388.6Q273.6,387.9 273.9,387.3Q274.2,386.7 274.8,386.4Q275.5,386.2 276.1,386.5Q276.7,386.9 276.9,387.5Q277.1,388.2 277.5,388.8Q277.9,389.3 278.5,389.6L279.2,389.9M277.5,393.3Q277.3,394.7 277.1,395.4Q276.9,396 277.2,396.7Q277.5,397.3 277.4,398Q277.2,398.7 276.9,399.3Q276.7,400 276.4,400.6Q276.1,401.3 275.8,401.9L275.5,402.5M283.9,393.3Q285.3,393.7 286,393.8Q286.7,393.9 287.3,393.7Q288,393.5 288.7,393.3Q289.3,393 289.6,392.4Q290,391.8 289.8,391.1Q289.6,390.4 289.3,389.8Q289,389.1 288.4,388.7Q287.9,388.2 287.2,388.3L286.5,388.3M274.7,397Q275.4,395.9 275.7,395.2Q276,394.6 275.8,393.9Q275.5,393.3 275.2,392.6Q274.8,392 274.2,391.9Q273.5,391.7 272.9,391.3L272.3,390.9M279.2,395.5Q277.9,395 277.2,395.1Q276.5,395.2 275.9,395.5Q275.3,395.8 274.7,395.6Q274,395.4 273.6,394.8Q273.3,394.2 273.5,393.5L273.8,392.9M286.5,396.2Q286.2,397.6 286.7,398Q287.3,398.4 287.9,398.3Q288.6,398.1 289.1,397.5Q289.5,397 289.4,396.3Q289.2,395.6 288.8,395.1L288.3,394.6M276.9,399.7Q275.5,400.2 275.2,400.8Q274.8,401.4 274.1,401.6Q273.5,401.9 272.9,401.6Q272.2,401.3 271.8,400.7Q271.5,400.1 271.4,399.4L271.4,398.7M284.7,400.4Q283.8,399.3 283.1,399.4Q282.4,399.5 281.9,400Q281.5,400.6 281.5,401.3Q281.6,402 281.1,402.5Q280.6,403 279.9,403L279.2,403.1M277.2,405.2Q278.5,404.7 279,404.2Q279.6,403.8 279.4,403.1Q279.3,402.4 279.5,401.8Q279.7,401.1 280.2,400.6Q280.8,400.2 281,399.5Q281.2,398.9 281.6,398.3Q282.1,397.8 282.7,397.6L283.4,397.5M281.9,403.6Q281.1,402.5 280.4,402.2Q279.8,401.9 279.1,401.8Q278.4,401.7 277.9,402.1Q277.3,402.6 277.1,403.2Q276.8,403.9 276.9,404.6Q277,405.3 276.8,405.9L276.5,406.6M284,403.7Q282.6,403.7 281.9,403.5Q281.2,403.3 280.7,402.9Q280.2,402.4 280.2,401.7Q280.3,401 280.6,400.4Q281,399.8 281.7,399.7L282.4,399.5" clip-path="url(#c11)" fill="none" stroke="#c6c6c6" stroke-width="0.9" stroke-linejoin="round" stroke-linecap="round"/>
<path d="M247.5,410.0C248.1,407.0 249.1,407.6 250.5,407.0C251.9,406.4 254.4,406.2 256.0,406.5C257.6,406.8 258.8,409.2 260.0,409.0C261.2,408.8 258.7,405.8 263.0,405.0C267.3,404.2 281.8,403.2 286.0,404.0C290.2,404.8 287.6,407.3 288.5,410.0C289.4,412.7 290.5,416.3 291.5,420.0C292.5,423.7 294.0,428.3 294.5,432.0C295.0,435.7 295.0,439.1 294.5,442.0C294.0,444.9 293.1,447.5 291.5,449.5C289.9,451.5 287.4,452.9 285.0,454.0C282.6,455.1 280.0,455.8 277.0,456.0C274.0,456.2 270.2,456.2 267.0,455.5C263.8,454.8 260.5,453.6 258.0,452.0C255.5,450.4 253.6,448.5 252.0,446.0C250.4,443.5 249.3,440.5 248.5,437.0C247.7,433.5 247.2,429.5 247.0,425.0C246.8,420.5 246.9,413.0 247.5,410.0Z" fill="#999999"/>
<path d="M266.1,406.4Q267.5,406.6 268.1,407.1Q268.6,407.5 268.6,408.2Q268.7,408.9 268.3,409.5Q268,410.1 267.7,410.8Q267.5,411.5 267.6,412.1Q267.8,412.8 268,413.5Q268.3,414.1 268.9,414.4Q269.5,414.8 269.8,415.4L270,416.1M275.8,405.8Q277.1,406.5 277.7,406.2Q278.3,405.9 279,406Q279.7,406.1 280.1,406.6Q280.6,407.2 280.8,407.8Q280.9,408.5 280.8,409.2Q280.7,409.9 280,410.2L279.4,410.5M280.6,405.1Q279.8,406.3 279.5,406.9Q279.3,407.5 279.3,408.2Q279.4,408.9 279.9,409.4Q280.4,409.9 280.6,410.6Q280.9,411.3 280.5,411.9Q280.2,412.5 280,413.2L279.8,413.8M285.6,404.4Q286.9,404.8 287.3,405.4Q287.7,406 288,406.6Q288.3,407.2 288.8,407.8Q289.2,408.3 289.9,408.6Q290.5,408.8 291.2,408.9Q291.9,409 292.3,409.6L292.8,410.1M249.1,410.8Q249.7,409.5 250.2,409.1Q250.8,408.6 251,408Q251.2,407.3 251,406.7Q250.7,406 250.2,405.5Q249.7,405 249.5,404.4Q249.2,403.7 249.3,403Q249.3,402.3 249.1,401.7L248.8,401M255.5,410.2Q254.1,410 253.8,409.4Q253.5,408.8 253.6,408.1Q253.6,407.4 253.9,406.7Q254.1,406.1 254.7,405.7Q255.3,405.4 255.5,404.7Q255.6,404 256.1,403.6Q256.6,403.1 257.3,402.8Q257.9,402.5 258.6,402.5Q259.3,402.5 259.8,403L260.3,403.5M265.2,410.8Q263.9,411.3 263.3,410.9Q262.7,410.5 262.6,409.8Q262.6,409.1 263,408.6Q263.4,408 264.1,407.7Q264.7,407.4 265,406.8Q265.3,406.2 265,405.5L264.8,404.8M270.9,408.4Q271.2,409.8 271.9,410.1Q272.5,410.4 273.2,410.2Q273.8,410 274.4,410.4Q274.9,410.9 274.8,411.6Q274.6,412.2 274.1,412.7Q273.5,413.1 272.8,413.3L272.2,413.4M273.5,410.3Q272.9,411.6 272.9,412.3Q272.8,413 273.3,413.4Q273.9,413.9 274.5,414.1Q275.2,414.3 275.7,414.8Q276.1,415.3 276.8,415.4Q277.5,415.5 277.8,416.2Q278.1,416.8 277.6,417.3L277.2,417.9M279.3,410.3Q278,410.9 277.7,411.5Q277.4,412.1 277.6,412.8Q277.9,413.4 277.9,414.1Q278,414.8 278.5,415.2Q279.1,415.7 279.5,416.2Q279.9,416.8 280.1,417.5Q280.2,418.2 280.2,418.9Q280.2,419.6 280,420.2Q279.8,420.9 279.2,421.2L278.6,421.5M285.7,411.1Q286.5,412.3 286.9,412.9Q287.3,413.5 287.8,414Q288.3,414.4 288.6,415.1Q288.9,415.7 288.9,416.4Q288.8,417.1 288.4,417.6Q287.9,418.1 287.7,418.8Q287.4,419.4 287.5,420.1Q287.5,420.8 287.9,421.4L288.3,422M252.1,415.6Q253.5,415.3 254.1,415.5Q254.8,415.7 255.4,416.1Q256,416.4 256.2,417.1Q256.5,417.7 256.1,418.3Q255.7,418.9 255.2,419.4Q254.6,419.8 253.9,419.9Q253.2,420 252.6,419.7Q252,419.3 251.3,419.2Q250.6,419.2 250,418.8L249.4,418.5M257.2,413.4Q255.8,413.4 255.1,413.2Q254.5,413 254,412.4Q253.5,411.9 252.9,411.5Q252.4,411.1 251.7,411.1Q251,411 250.4,411.4Q249.9,411.9 249.7,412.6Q249.6,413.2 249.8,413.9Q250.1,414.5 250.7,414.9L251.3,415.2M260.9,413Q261.1,414.3 261.5,414.9Q262,415.4 262.7,415.5Q263.4,415.5 264,415.8Q264.6,416.2 264.8,416.8Q265,417.5 264.6,418.1Q264.3,418.7 264.2,419.4Q264.2,420.1 264,420.7Q263.8,421.4 263.2,421.8Q262.6,422.2 262.2,422.8L261.8,423.3M266.3,413.5Q267.4,414.4 267.5,415.1Q267.6,415.8 267.2,416.4Q266.8,416.9 266.7,417.6Q266.6,418.3 266.8,419Q267.1,419.6 267.7,420.1Q268.2,420.5 268.2,421.2Q268.1,421.9 268.4,422.6Q268.6,423.2 268.4,423.9L268.2,424.6M271.4,414.1Q272.6,413.4 272.8,412.7Q273,412.1 273.4,411.5Q273.8,410.9 274.4,410.5Q275,410.2 275.7,410.3Q276.4,410.5 276.8,411Q277.3,411.5 277.3,412.2Q277.3,412.9 277.1,413.6Q277,414.3 276.5,414.8Q276.1,415.3 275.4,415.4L274.7,415.4M276.2,412.6Q275.7,411.3 276.1,410.8Q276.5,410.2 277,409.8Q277.6,409.3 278.2,409.6Q278.9,409.8 279.4,410.3Q280,410.7 280.2,411.4Q280.4,412 280,412.6Q279.6,413.2 278.9,413Q278.2,412.9 277.6,412.6L277,412.2M281.3,414.8Q279.9,414.8 279.4,415.3Q278.8,415.7 278.1,415.5Q277.5,415.4 276.8,415.5Q276.1,415.7 275.6,416.2Q275.1,416.7 274.9,417.3Q274.7,418 274.6,418.7Q274.5,419.4 275,419.9L275.4,420.4M287,413.5Q286.5,412.1 285.9,411.9Q285.2,411.7 285.2,411Q285.1,410.3 285.5,409.7Q285.9,409.1 285.9,408.4Q285.9,407.7 285.6,407.1Q285.2,406.5 284.5,406.6L283.8,406.7M250.3,417.3Q249,417.3 248.3,417.1Q247.7,416.8 247,416.5Q246.4,416.1 245.7,416.3Q245.1,416.5 244.7,417.1Q244.3,417.6 244.4,418.3Q244.5,419 245.1,419.4Q245.6,419.8 246.3,419.9Q247,420 247.4,420.6L247.8,421.1M254,419.9Q252.7,419.5 252,419.3Q251.3,419.2 250.6,419.1Q249.9,419 249.4,419.4Q248.8,419.9 248.8,420.6Q248.8,421.3 249.3,421.8Q249.7,422.4 250,423Q250.3,423.6 250.9,424Q251.5,424.3 252,424.8Q252.5,425.3 252.5,426L252.5,426.7M260.7,419.1Q259.4,419.6 258.9,420.1Q258.3,420.5 257.6,420.6Q256.9,420.7 256.3,420.7Q255.6,420.6 254.9,420.4Q254.2,420.3 253.8,419.7L253.4,419.1M263,419.2Q263.2,417.9 263.7,417.3Q264.1,416.7 264.7,416.6Q265.4,416.4 266.1,416.5Q266.8,416.6 267.5,416.8Q268.2,417 268.6,417.5Q269.1,418 269.4,418.7Q269.7,419.3 269.7,420Q269.8,420.7 270.2,421.2L270.7,421.8M270.6,417Q269.5,416.2 269.4,415.5Q269.3,414.9 269.5,414.2Q269.6,413.5 270,412.9Q270.3,412.3 270.7,411.7Q271.1,411.1 271.7,410.7Q272.3,410.4 273,410.5Q273.7,410.5 274.3,410.9Q274.9,411.3 275.3,411.8Q275.7,412.4 276,413L276.3,413.7M275.7,419.8Q274.5,419 274,418.5Q273.4,418.1 273.2,417.4Q273.1,416.7 272.9,416Q272.8,415.3 273.2,414.7Q273.6,414.1 274.2,413.8Q274.8,413.5 275.5,413.2L276.1,412.9M280,419.3Q279.3,420.5 279.5,421.2Q279.8,421.8 280.3,422.2Q280.9,422.6 281.1,423.3Q281.2,424 281.2,424.7Q281.1,425.4 280.9,426Q280.7,426.7 280.1,427L279.5,427.4M285.8,417.4Q286.6,418.5 286.5,419.2Q286.3,419.9 286.1,420.5Q285.8,421.1 285.3,421.7Q284.9,422.2 284.3,422.7Q283.8,423.2 283.1,423.2Q282.4,423.2 281.9,422.7Q281.4,422.2 281.4,421.5Q281.3,420.8 281.4,420.1L281.4,419.4M250.6,423.5Q249.3,423.3 248.7,423.7Q248.1,424.1 247.8,424.7Q247.5,425.3 247.8,426Q248,426.6 248.6,427Q249.2,427.4 249.8,427.7Q250.5,428 250.7,428.6Q250.9,429.3 250.9,430L250.9,430.7M258,424.1Q257,425 256.8,425.7Q256.6,426.3 256.6,427Q256.6,427.7 256.9,428.4Q257.2,429 257.3,429.7Q257.5,430.4 257.5,431.1Q257.6,431.8 257.9,432.4Q258.2,433 258.8,433.4L259.4,433.7M260.5,422.5Q261,421.1 261.4,420.6Q261.8,420 262.5,419.7Q263.1,419.4 263.8,419.6Q264.5,419.8 265.1,420.1Q265.7,420.4 265.8,421.1L265.9,421.8M268,424.1Q268,422.7 268.5,422.1Q268.9,421.6 269.3,421Q269.7,420.4 270,419.8Q270.3,419.1 270.3,418.4Q270.3,417.7 270.6,417.1Q271,416.5 271.6,416.2Q272.3,416 272.7,415.4Q273.1,414.9 273.2,414.2L273.2,413.5M272.9,422.4Q271.5,422.3 271.2,421.7Q270.8,421.1 271.1,420.5Q271.4,419.9 271.9,419.4Q272.4,418.9 273.1,418.8Q273.8,418.7 274.4,419Q275,419.4 275.3,420Q275.6,420.6 276.2,421Q276.8,421.4 277.4,421.5L278.1,421.6M275.8,422.9Q274.9,424 274.6,424.7Q274.4,425.3 274.8,425.9Q275.2,426.5 275,427.2Q274.9,427.8 274.2,428.1Q273.6,428.3 273.1,428.9Q272.7,429.4 272.4,430Q272.1,430.7 272.5,431.2Q272.9,431.8 273.5,432.3L274,432.7M282.3,422.5Q282.8,423.8 283.5,423.9Q284.2,424.1 284.9,424Q285.6,423.9 286.2,423.6Q286.8,423.3 287.5,423.3Q288.2,423.4 288.6,422.8Q289,422.2 289.7,422.1Q290.4,422 290.9,421.5Q291.4,421 292,420.9Q292.7,420.7 293.2,421.2L293.8,421.7M288.7,422.5Q289.6,423.6 290.1,424Q290.7,424.4 291.4,424.4Q292.1,424.4 292.8,424.2Q293.4,424 294.1,423.8Q294.8,423.6 295.4,424Q296,424.4 296.6,424.7Q297.2,425.1 297.5,425.7Q297.8,426.3 298.4,426.8Q299,427.2 299.5,427.6L300.1,428.1M291,423.5Q289.7,423 289,423.2Q288.3,423.3 287.6,423.1Q286.9,423 286.3,423.3Q285.7,423.7 285.2,424.1Q284.7,424.6 284,424.6Q283.3,424.6 282.8,424.1Q282.4,423.6 281.7,423.4Q281,423.3 280.3,423.4Q279.6,423.5 279,423.8L278.4,424.2M251.2,427Q250,426.3 249.3,426.3Q248.6,426.3 247.9,426.3Q247.2,426.4 246.6,426.7Q246,427.1 245.6,427.6Q245.1,428.2 245.1,428.9Q245.1,429.6 244.7,430.2Q244.4,430.8 243.9,431.2Q243.3,431.6 242.7,432L242.2,432.5M255.3,427.3Q254,427.8 253.7,428.4Q253.3,429 253.1,429.7Q252.8,430.3 252.9,431Q252.9,431.7 252.9,432.4Q252.8,433.1 252.3,433.6Q251.8,434.1 251.9,434.8Q252,435.5 252.5,436Q253,436.5 253.7,436.5Q254.4,436.4 255,436.1L255.6,435.7M258.6,426Q259.9,425.6 260.6,425.5Q261.3,425.3 261.9,425.6Q262.5,425.9 263.2,426Q263.9,426.1 264.4,426.6Q264.9,427.2 264.9,427.9Q264.9,428.6 264.6,429.2L264.2,429.8M265.6,427.2Q265.6,425.8 265.1,425.4Q264.5,425 263.8,424.8Q263.2,424.6 262.5,424.7Q261.8,424.8 261.4,425.3Q261,425.9 260.4,426.2Q259.7,426.4 259.2,426Q258.6,425.5 257.9,425.6L257.3,425.6M269.8,425.5Q268.4,425.6 267.9,425Q267.5,424.4 267,424Q266.4,423.6 266.1,423Q265.9,422.3 266,421.6Q266.1,420.9 266.1,420.2L266.1,419.5M274.9,428.4Q276.2,429 276.9,428.8Q277.6,428.6 278.1,428.1Q278.6,427.6 278.7,426.9Q278.9,426.3 278.9,425.6Q278.9,424.9 279.2,424.2Q279.5,423.6 279.9,423.1Q280.4,422.5 281,422.2Q281.6,421.9 282,421.3L282.4,420.7M278.3,426.6Q277,426.2 276.5,425.7Q276.1,425.1 275.5,424.8Q274.9,424.4 274.5,423.8Q274.1,423.2 273.5,422.9Q272.9,422.6 272.3,423Q271.7,423.3 271.3,423.9L270.9,424.5M284.7,428Q284,426.8 283.8,426.2Q283.7,425.5 283.7,424.8Q283.7,424.1 284.4,423.8Q285,423.5 285.7,423.5Q286.4,423.5 286.9,424Q287.5,424.4 287.3,425.1Q287.1,425.8 286.5,426.2Q285.9,426.6 285.3,426.2Q284.7,425.9 284.6,425.2L284.6,424.5M290.7,425.5Q291.6,426.6 291.9,427.2Q292.2,427.8 292.4,428.5Q292.7,429.2 292.2,429.7Q291.8,430.3 291.2,430.5Q290.5,430.7 289.9,430.3Q289.4,429.9 289.3,429.2Q289.3,428.5 289.5,427.8Q289.6,427.1 290.2,426.8L290.8,426.5M253.1,432.8Q253.5,431.5 253.5,430.8Q253.5,430.1 254,429.6Q254.5,429.1 255.1,428.7Q255.7,428.3 256.4,428.2Q257.1,428.1 257.8,428.2Q258.5,428.2 259,428.6Q259.6,429.1 259.8,429.7Q260,430.4 260.1,431.1L260.1,431.8M255.5,432.3Q255.3,433.6 255.5,434.3Q255.7,435 256.2,435.4Q256.8,435.8 257.5,435.7Q258.2,435.7 258.8,436.1Q259.4,436.5 259.6,437.1Q259.7,437.8 260.1,438.4L260.5,439M261.1,431.2Q260.6,432.5 260.2,433Q259.7,433.6 259,433.8Q258.4,434 257.7,433.8Q257,433.6 256.4,433.4Q255.7,433.1 255.3,432.6Q254.9,432 254.3,431.7Q253.6,431.4 253,431.7L252.3,431.9M267.1,432.1Q266.3,433.2 266.7,433.8Q267.1,434.4 267.7,434.7Q268.4,434.9 269,434.6Q269.7,434.3 269.7,433.6Q269.8,432.9 269.3,432.5Q268.8,432 268.7,431.3Q268.7,430.6 269.3,430.2L269.8,429.7M271.5,431Q270.5,432 270.5,432.7Q270.4,433.4 270,434Q269.6,434.6 269.9,435.2Q270.3,435.8 271,435.8Q271.7,435.9 272.3,435.8Q273,435.6 273.4,435Q273.7,434.4 273.8,433.7Q273.9,433 273.6,432.4L273.3,431.8M277.8,429.8Q279,430.4 279.3,431.1Q279.6,431.7 279.3,432.4Q279,433 278.8,433.7Q278.5,434.3 277.9,434.6Q277.2,434.8 276.5,434.9L275.8,435M280.4,429.9Q279.2,430.5 278.8,431.2Q278.5,431.8 278.6,432.4Q278.8,433.1 279.2,433.7Q279.6,434.3 280.2,434.4Q280.9,434.5 281.6,434.3Q282.3,434.2 282.8,433.6L283.2,433.1M286.7,431.8Q285.7,430.7 286,430.1Q286.3,429.5 286.8,429Q287.3,428.5 288,428.3Q288.7,428.1 289.3,428.3Q290,428.6 290.4,429.1Q290.8,429.7 290.8,430.4Q290.9,431.1 290.4,431.6Q290,432.2 289.3,432Q288.6,431.8 288.4,431.1L288.2,430.5M291.3,433.1Q291.1,434.5 291.5,435.1Q291.9,435.6 292.2,436.2Q292.6,436.9 293.1,437.3Q293.7,437.7 294.4,437.7Q295.1,437.7 295.8,438Q296.4,438.2 296.7,438.9Q297,439.5 297.5,440Q298,440.4 298.6,440.8Q299.2,441.3 299.3,441.9L299.4,442.6M249.9,435.6Q250.6,434.4 251.1,434Q251.7,433.5 252.3,433.3Q253,433 253.7,432.9Q254.4,432.8 254.8,433.3Q255.3,433.8 256,433.8Q256.7,433.8 257.2,434.3Q257.7,434.8 257.6,435.5L257.4,436.1M253.3,435.3Q253.4,433.9 253.2,433.2Q253,432.5 252.8,431.8Q252.6,431.2 252.1,430.7Q251.6,430.3 250.9,430.1Q250.2,430 249.7,429.5Q249.2,429 248.8,428.4L248.3,427.9M260.9,437.3Q260.3,436.1 260.1,435.4Q259.9,434.7 259.9,434Q259.9,433.3 260.4,432.8Q260.8,432.3 261.5,432Q262.1,431.8 262.5,431.2L262.9,430.7M264.9,436.2Q266,437 266.7,437.2Q267.3,437.5 268,437.5Q268.7,437.6 269.3,437.9Q269.9,438.3 270.6,438.5Q271.3,438.6 272,438.4Q272.6,438.2 273.2,437.8L273.7,437.3M269.9,436.6Q271.1,437.4 271.7,437.8Q272.3,438.2 272.9,438Q273.6,437.9 274.1,437.4Q274.5,436.8 275,436.3Q275.5,435.8 276.1,435.6Q276.8,435.3 277.2,434.8Q277.7,434.3 278,433.7Q278.4,433.1 278.2,432.4Q277.9,431.7 277.5,431.2L277,430.7M276.2,434.1Q275.8,435.4 275.6,436.1Q275.5,436.8 275.7,437.5Q275.9,438.1 275.5,438.7Q275.2,439.3 275.4,440Q275.6,440.7 275.9,441.3Q276.3,441.9 276.7,442.4L277.2,443M279.6,434.1Q280.7,433.3 281.4,433.2Q282.1,433.2 282.6,433.8Q283,434.3 283.4,434.9Q283.8,435.5 284,436.2Q284.2,436.8 284.3,437.5Q284.4,438.2 284.3,438.9Q284.3,439.6 284,440.3L283.8,440.9M286,436.9Q284.8,437.6 284.1,437.6Q283.4,437.5 282.7,437.5Q282,437.5 281.4,437.1Q280.8,436.8 280.3,436.2Q279.9,435.7 280,435L280.1,434.3M289.5,435.2Q290.9,435.6 291.6,435.6Q292.3,435.6 292.8,436Q293.4,436.4 293.4,437.1Q293.4,437.8 292.9,438.3Q292.4,438.8 292.1,439.4Q291.8,440.1 291.8,440.8Q291.8,441.5 292.3,442L292.8,442.5M253.4,439.7Q252,440 251.3,439.8Q250.7,439.7 250.2,440.2Q249.8,440.8 249.6,441.4Q249.3,442.1 249.7,442.7Q250.1,443.2 250.8,443.4L251.5,443.6M258.6,440.3Q259.6,439.4 260,438.7Q260.3,438.1 260.9,437.9Q261.6,437.7 262.2,437.3Q262.8,437 263.3,436.5Q263.8,436 263.8,435.3Q263.9,434.6 264,434Q264.2,433.3 264.4,432.6L264.6,431.9M260.6,438.9Q261.4,437.7 262.1,437.6Q262.8,437.5 263.5,437.5Q264.2,437.6 264.6,438.1Q265.1,438.7 265.4,439.3Q265.7,439.9 266.3,440.2Q267,440.6 267.6,440.8L268.3,441.1M265.3,438.7Q264.1,437.9 264.1,437.2Q264.1,436.5 263.9,435.8Q263.7,435.2 263.9,434.5Q264,433.8 264.3,433.2Q264.7,432.5 264.3,431.9Q264,431.3 263.4,431Q262.7,430.8 262.1,431.1Q261.5,431.4 260.9,431.9L260.4,432.4M272.2,440.3Q271.4,439.2 270.8,438.8Q270.2,438.4 269.6,438.6Q268.9,438.8 268.3,438.5Q267.7,438.2 267,438.1Q266.3,438.1 265.8,438.6Q265.3,439.1 265.1,439.8Q264.9,440.4 264.3,440.9Q263.8,441.3 263.1,441.5L262.5,441.7M276.6,440.9Q277.1,439.6 276.8,438.9Q276.5,438.3 276,437.8Q275.4,437.4 275,436.9Q274.5,436.4 273.8,436.2Q273.1,436.1 272.4,435.9Q271.8,435.7 271.3,435.2L270.9,434.6M280.8,438.3Q279.9,437.3 279.7,436.6Q279.6,435.9 279.6,435.2Q279.5,434.5 279.4,433.9Q279.2,433.2 278.8,432.6Q278.4,432 277.7,431.9Q277,431.8 276.4,431.6Q275.7,431.4 275.1,431Q274.6,430.6 274.3,429.9Q274,429.3 273.9,428.6L273.7,427.9M286.4,438.9Q287.7,439.4 288.2,439.9Q288.7,440.5 289.3,440.6Q290,440.8 290.7,440.8Q291.4,440.7 292.1,440.7Q292.8,440.7 293.3,440.3Q293.9,439.8 294.4,439.4Q295,439 295.6,438.6L296.2,438.3M292,438.9Q290.6,439.3 290,439.1Q289.3,438.8 289,438.2Q288.7,437.6 289,436.9Q289.3,436.3 289.2,435.6Q289,434.9 288.9,434.2Q288.9,433.5 289.5,433.1Q290,432.7 290.7,432.5Q291.4,432.4 292,432.7Q292.6,433.1 292.7,433.8L292.9,434.5M253,443.4Q253.4,442.1 253.1,441.5Q252.8,440.8 252.4,440.3Q252,439.7 251.4,439.6Q250.7,439.4 250,439.6Q249.3,439.8 249,440.4Q248.6,441 248.6,441.7Q248.6,442.4 249,443L249.4,443.6M259.7,444Q259.6,445.4 260.1,445.9Q260.6,446.3 260.9,447Q261.2,447.6 261.3,448.3Q261.4,449 261.1,449.6Q260.8,450.3 260.3,450.7Q259.7,451.1 259,451Q258.3,451 257.8,450.5Q257.4,450 257.2,449.3Q257,448.6 257.4,448L257.9,447.5M264.9,445.7Q266.1,444.9 266.3,444.2Q266.5,443.6 266.5,442.9Q266.5,442.2 267,441.7Q267.6,441.3 268.2,441Q268.9,440.8 269.6,440.6Q270.2,440.4 270.9,440.3Q271.6,440.2 272.3,440.3Q273,440.5 273.5,440Q274.1,439.6 274.2,438.9L274.3,438.2M267.9,445.8Q266.5,445.3 265.9,444.9Q265.4,444.6 264.7,444.8Q264.1,445.1 263.4,444.9Q262.8,444.6 262.4,444Q262.1,443.4 261.5,443Q261,442.6 260.7,441.9Q260.4,441.3 260.5,440.6Q260.6,439.9 261.2,439.5Q261.8,439.1 262.5,439L263.1,439M274.2,444Q273.8,445.3 273.1,445.5Q272.4,445.7 271.9,445.2Q271.4,444.8 271.5,444.1Q271.6,443.4 272.1,442.8Q272.5,442.3 273.2,442.3Q273.9,442.3 274.4,442.8Q274.8,443.4 275.5,443.5Q276.1,443.7 276.8,443.4L277.4,443M279.9,444.7Q280.9,445.7 281.6,445.9Q282.3,446 282.4,446.7Q282.4,447.4 282.2,448.1Q281.9,448.7 282.2,449.4Q282.5,450 283.2,450.2Q283.9,450.4 284.3,449.8Q284.8,449.3 285.5,449.1L286.1,449M285.1,445Q283.8,444.5 283.2,444.8Q282.6,445.1 281.9,445.3Q281.2,445.4 280.8,444.8Q280.4,444.2 280.4,443.5Q280.3,442.8 280.5,442.2Q280.6,441.5 281.2,441.2Q281.9,440.8 282.6,440.9Q283.2,441 283.9,441.4Q284.5,441.7 285.1,441.4L285.7,441M288.1,445.9Q288.1,447.3 287.5,447.6Q286.9,448 286.4,448.5Q286,449.1 286.2,449.8Q286.3,450.5 285.9,451Q285.5,451.6 284.9,451.9Q284.3,452.3 283.6,452.5Q282.9,452.7 282.3,452.5L281.6,452.4M253.3,447.2Q251.9,447.2 251.5,446.6Q251,446.1 251.2,445.4Q251.4,444.8 251.1,444.1Q250.8,443.5 250.1,443.3Q249.5,443 249.3,442.4L249.1,441.7M257.4,449.6Q258,448.4 258.6,448Q259.1,447.6 259.1,446.9Q259.2,446.2 258.9,445.6Q258.6,444.9 258.1,444.4Q257.7,443.8 257,443.8Q256.3,443.8 255.8,444.3Q255.3,444.9 255.2,445.5Q255.1,446.2 254.9,446.9L254.7,447.6M261.9,450.2Q261.8,448.8 262.2,448.2Q262.7,447.7 263.2,447.2Q263.7,446.7 264.2,446.3Q264.8,445.8 265.5,445.8Q266.2,445.8 266.8,446Q267.5,446.2 268.2,446.2Q268.9,446.2 269.6,446L270.2,445.8M267,447.5Q265.8,446.8 265.4,446.2Q265,445.7 264.7,445.1Q264.4,444.4 264.3,443.7Q264.3,443 264.8,442.6Q265.4,442.1 266.1,442.3Q266.8,442.4 267.5,442.3Q268.2,442.1 268.6,441.6L269.1,441.1M273.3,447.6Q271.9,447.8 271.3,447.7Q270.6,447.6 269.9,447.8Q269.2,448 268.9,448.6Q268.6,449.2 268.2,449.8Q267.8,450.4 267.4,451Q267,451.5 266.3,451.7Q265.6,451.9 264.9,451.8L264.2,451.8M275.3,448.2Q276,449.4 276.3,450Q276.6,450.7 276.6,451.4Q276.7,452.1 276.3,452.6Q275.8,453.2 275.1,453.2Q274.4,453.2 274,452.6Q273.6,452.1 273,451.7L272.4,451.4M282.6,449Q281.6,448 281.8,447.3Q281.9,446.6 282.4,446.2Q283,445.8 283.7,445.7Q284.4,445.7 285,445.2Q285.5,444.8 286.2,444.8Q286.9,444.8 287.4,445.3Q287.9,445.8 288.6,445.6Q289.2,445.5 289.8,445L290.3,444.5M287.8,449.9Q286.6,449.2 286.6,448.5Q286.6,447.8 287,447.2Q287.3,446.6 287.1,445.9Q286.9,445.2 286.9,444.5Q286.8,443.8 286.5,443.3Q286.1,442.7 286.1,442Q286.2,441.3 286.8,441Q287.5,440.6 288.2,440.7L288.9,440.7M265.3,451.5Q265.3,452.9 265.5,453.6Q265.7,454.3 266.1,454.8Q266.5,455.4 267.1,455.8Q267.6,456.2 268.3,456Q269,455.9 269.5,456.4L270,456.9M271,452.4Q271.6,453.7 272.2,454.1Q272.7,454.4 273.4,454.6Q274.1,454.8 274.8,454.6Q275.4,454.4 276,454Q276.6,453.7 276.8,453L277,452.3M274.3,452.5Q273.9,453.9 273.9,454.6Q273.9,455.3 273.7,456Q273.5,456.6 273.1,457.2Q272.7,457.8 272.1,458.1Q271.4,458.4 270.8,458.6Q270.1,458.9 269.7,459.4Q269.2,460 269.1,460.6Q269,461.3 269.4,461.9L269.8,462.5M279.2,454.1Q280.3,453.3 280.8,452.8Q281.3,452.3 281.2,451.6Q281,450.9 281.2,450.2Q281.3,449.5 281.5,448.9Q281.8,448.2 281.9,447.5Q282.1,446.8 281.9,446.2Q281.8,445.5 281.5,444.8L281.3,444.2M285.5,453Q285.9,454.3 285.6,454.9Q285.2,455.5 284.7,456Q284.2,456.4 283.5,456.6Q282.8,456.7 282.1,456.6Q281.4,456.5 280.7,456.7Q280,456.8 279.5,456.4Q278.9,456.1 278.4,455.5Q278,455 277.7,454.3L277.5,453.7" clip-path="url(#c12)" fill="none" stroke="#cccccc" stroke-width="0.9" stroke-linejoin="round" stroke-linecap="round"/>
<path d="M248.0,409.0C247.8,411.7 246.9,420.3 247.0,425.0C247.1,429.7 247.7,433.5 248.5,437.0C249.3,440.5 250.4,443.5 252.0,446.0C253.6,448.5 255.5,450.4 258.0,452.0C260.5,453.6 263.8,454.8 267.0,455.5C270.2,456.2 274.0,456.2 277.0,456.0C280.0,455.8 282.6,455.1 285.0,454.0C287.4,452.9 289.9,451.5 291.5,449.5C293.1,447.5 294.0,443.2 294.5,442.0" fill="none" stroke="#555" stroke-width="2"/>
<path d="M256.0,450.0C257.0,450.6 259.8,452.6 262.0,453.5C264.2,454.4 266.5,454.9 269.0,455.2C271.5,455.5 274.3,455.7 277.0,455.4C279.7,455.1 282.8,454.3 285.0,453.3C287.2,452.3 289.6,450.1 290.5,449.5" fill="none" stroke="#555" stroke-width="3.6"/>
<path d="M421.0,243.0C421.0,247.5 421.0,261.8 421.0,270.0C421.0,278.2 421.2,286.5 420.8,292.0C420.4,297.5 420.1,299.3 418.5,303.0C416.9,306.7 414.5,310.8 411.4,314.0C408.3,317.2 404.3,320.1 400.0,322.0C395.7,323.9 390.5,325.1 385.7,325.7C380.9,326.2 376.2,325.7 371.4,325.3C366.6,324.9 361.8,324.1 357.0,323.2C352.2,322.2 347.6,321.0 342.9,319.6C338.2,318.2 335.8,316.1 328.6,314.6C321.5,313.1 306.6,311.3 300.0,310.7C293.4,310.1 292.3,310.4 289.0,310.8C285.7,311.2 283.0,311.4 280.2,313.3C277.4,315.2 274.1,318.7 272.0,322.2C269.9,325.7 268.4,328.2 267.6,334.5C266.8,340.8 267.1,349.1 267.2,360.0C267.3,370.9 267.6,388.3 268.5,400.0C269.4,411.7 271.2,420.9 272.5,430.0C273.8,439.1 275.8,450.4 276.5,454.5" fill="none" stroke="#f2f2f2" stroke-width="7" stroke-linecap="butt"/>
<path d="M421.0,243.0C421.0,247.5 421.0,261.8 421.0,270.0C421.0,278.2 421.2,286.5 420.8,292.0C420.4,297.5 420.1,299.3 418.5,303.0C416.9,306.7 414.5,310.8 411.4,314.0C408.3,317.2 404.3,320.1 400.0,322.0C395.7,323.9 390.5,325.1 385.7,325.7C380.9,326.2 376.2,325.7 371.4,325.3C366.6,324.9 361.8,324.1 357.0,323.2C352.2,322.2 347.6,321.0 342.9,319.6C338.2,318.2 335.8,316.1 328.6,314.6C321.5,313.1 306.6,311.3 300.0,310.7C293.4,310.1 292.3,310.4 289.0,310.8C285.7,311.2 283.0,311.4 280.2,313.3C277.4,315.2 274.1,318.7 272.0,322.2C269.9,325.7 268.4,328.2 267.6,334.5C266.8,340.8 267.1,349.1 267.2,360.0C267.3,370.9 267.6,388.3 268.5,400.0C269.4,411.7 271.2,420.9 272.5,430.0C273.8,439.1 275.8,450.4 276.5,454.5" fill="none" stroke="#d2d2d2" stroke-width="5" stroke-linecap="butt"/>
<path d="M421.0,243.0C421.0,247.5 421.0,261.8 421.0,270.0C421.0,278.2 421.2,286.5 420.8,292.0C420.4,297.5 420.1,299.3 418.5,303.0C416.9,306.7 414.5,310.8 411.4,314.0C408.3,317.2 404.3,320.1 400.0,322.0C395.7,323.9 390.5,325.1 385.7,325.7C380.9,326.2 376.2,325.7 371.4,325.3C366.6,324.9 361.8,324.1 357.0,323.2C352.2,322.2 347.6,321.0 342.9,319.6C338.2,318.2 335.8,316.1 328.6,314.6C321.5,313.1 306.6,311.3 300.0,310.7C293.4,310.1 292.3,310.4 289.0,310.8C285.7,311.2 283.0,311.4 280.2,313.3C277.4,315.2 274.1,318.7 272.0,322.2C269.9,325.7 268.4,328.2 267.6,334.5C266.8,340.8 267.1,349.1 267.2,360.0C267.3,370.9 267.6,388.3 268.5,400.0C269.4,411.7 271.2,420.9 272.5,430.0C273.8,439.1 275.8,450.4 276.5,454.5" fill="none" stroke="#e2e2e2" stroke-width="1.6" stroke-linecap="butt"/>
<path d="M305.6,337.8C304.1,339.8 306.2,343.5 305.8,346.3C305.4,349.1 304.1,352.0 303.0,354.8C301.9,357.6 300.2,360.8 299.0,363.3C297.8,365.8 296.5,366.9 295.8,370.0C295.1,373.1 294.9,377.0 294.6,382.0C294.3,387.0 293.8,394.0 294.1,400.0C294.4,406.0 295.7,412.7 296.3,418.0C296.9,423.3 296.7,428.2 297.5,432.0C298.3,435.8 298.9,438.4 301.0,441.0C303.1,443.6 306.1,445.4 309.9,447.5C313.7,449.6 318.7,452.4 323.7,453.5C328.7,454.6 335.1,455.4 340.0,454.0C344.9,452.6 349.1,448.7 353.2,445.0C357.2,441.3 361.5,437.2 364.3,432.0C367.1,426.8 368.7,420.7 369.8,414.0C370.9,407.3 370.7,399.3 370.8,392.0C370.9,384.7 370.7,376.7 370.3,370.0C369.9,363.3 369.9,356.0 368.5,352.0C367.1,348.0 365.9,348.2 362.0,346.0C358.1,343.8 350.3,340.8 345.0,339.0C339.7,337.2 335.0,336.2 330.0,335.5C325.0,334.8 319.1,334.1 315.0,334.5C310.9,334.9 307.1,335.8 305.6,337.8Z" fill="#f3f3f3" stroke="#1a1a1a" stroke-width="0.9"/>
<path d="M308.1,335.2C307.1,336.9 309.4,342.6 309.0,346.3C308.6,350.0 307.2,353.4 305.6,357.4C304.0,361.3 300.9,365.4 299.5,370.0C298.1,374.6 298.0,380.0 297.5,385.0C297.0,390.0 296.5,394.5 296.4,400.0C296.2,405.5 296.3,412.7 296.6,418.0C296.9,423.3 297.1,428.3 298.0,432.0C298.9,435.7 300.1,437.6 302.0,440.0C303.9,442.4 306.0,444.6 309.5,446.5C313.0,448.4 317.9,450.6 323.0,451.5C328.1,452.4 335.2,453.0 340.0,451.8C344.8,450.6 348.2,447.9 352.0,444.5C355.8,441.1 359.9,436.6 362.5,431.5C365.1,426.4 366.5,420.6 367.5,414.0C368.5,407.4 368.4,399.3 368.5,392.0C368.6,384.7 368.3,376.7 368.0,370.0C367.7,363.3 367.8,356.0 366.5,352.0C365.2,348.0 363.6,347.8 360.0,346.0C356.4,344.2 350.0,342.3 345.0,341.0C340.0,339.7 335.0,338.8 330.0,338.0C325.0,337.2 318.6,336.5 315.0,336.0C311.4,335.5 309.1,333.5 308.1,335.2Z" fill="#e9e9e9" stroke="#333" stroke-width="0.75"/>
<path d="M304.0,360.0C303.4,362.0 301.3,367.8 300.5,372.0C299.7,376.2 299.3,380.3 299.0,385.0C298.7,389.7 298.6,394.5 298.6,400.0C298.6,405.5 298.9,415.0 299.0,418.0" fill="none" stroke="#f7f7f7" stroke-width="2.2"/>
<path d="M313.9,351.0C313.8,348.6 315.0,345.8 316.3,343.9C317.6,342.0 319.6,340.6 321.7,339.8C323.8,339.1 326.5,339.0 328.9,339.4C331.3,339.8 334.0,340.8 336.0,342.1C338.0,343.5 339.4,345.4 340.8,347.5C342.2,349.6 343.5,352.5 344.4,354.7C345.3,356.9 345.6,358.4 346.2,360.6C346.8,362.8 347.3,365.6 348.0,367.8C348.7,370.0 349.5,371.8 350.3,373.8C351.1,375.8 352.0,377.0 352.7,379.7C353.4,382.4 354.0,385.8 354.5,390.0C355.0,394.2 355.6,400.0 355.8,405.0C356.0,410.0 356.1,415.7 355.8,420.0C355.5,424.3 355.0,427.8 353.8,431.0C352.6,434.2 350.6,436.5 348.5,439.0C346.4,441.5 342.9,444.2 341.0,446.0C339.1,447.8 337.9,450.9 337.1,449.7C336.3,448.5 336.0,442.7 336.0,438.6C336.0,434.5 337.1,429.4 337.1,425.3C337.1,421.2 336.8,417.7 336.0,414.3C335.2,410.9 333.1,407.4 332.5,405.0C331.9,402.6 332.3,402.2 332.4,400.0C332.5,397.8 333.2,394.0 333.0,391.6C332.8,389.2 332.0,387.7 331.2,385.7C330.4,383.7 329.1,382.1 328.3,379.7C327.5,377.3 327.4,373.8 326.5,371.4C325.6,369.0 324.5,367.6 322.9,365.4C321.3,363.2 318.4,360.6 316.9,358.2C315.4,355.8 314.0,353.4 313.9,351.0Z" fill="#e7e7e7" stroke="none"/>
<path d="M340.0,352.0C340.4,351.1 343.4,353.3 344.4,354.7C345.4,356.1 345.6,358.4 346.2,360.6C346.8,362.8 348.2,366.9 348.0,367.8C347.8,368.7 346.0,367.3 345.0,366.0C344.0,364.7 342.8,362.3 342.0,360.0C341.2,357.7 339.6,352.9 340.0,352.0Z" fill="#c6c6c6"/>
<path d="M345.0,378.0C345.7,376.3 349.0,373.5 350.3,373.8C351.6,374.1 352.0,377.0 352.7,379.7C353.4,382.4 354.1,386.3 354.5,390.0C354.9,393.7 355.6,400.7 355.2,402.0C354.8,403.3 353.0,400.0 352.0,398.0C351.0,396.0 350.0,392.3 349.0,390.0C348.0,387.7 346.7,386.0 346.0,384.0C345.3,382.0 344.3,379.7 345.0,378.0Z" fill="#c6c6c6"/>
<path d="M341.0,415.0C342.2,411.0 346.0,408.8 348.0,408.0C350.0,407.2 351.8,408.0 353.0,410.0C354.2,412.0 355.4,416.5 355.5,420.0C355.6,423.5 355.0,427.8 353.8,431.0C352.6,434.2 350.5,436.8 348.5,439.0C346.5,441.2 343.2,445.2 342.0,444.0C340.8,442.8 341.2,436.8 341.0,432.0C340.8,427.2 339.8,419.0 341.0,415.0Z" fill="#c9c9c9"/>
<path d="M318.0,349.0C318.5,347.0 320.8,345.3 322.0,345.0C323.2,344.7 324.8,345.3 325.0,347.0C325.2,348.7 324.0,353.3 323.0,355.0C322.0,356.7 319.8,358.0 319.0,357.0C318.2,356.0 317.5,351.0 318.0,349.0Z" fill="#f6f6f6"/>
<path d="M330.0,372.0C330.3,370.0 333.2,369.7 334.0,371.0C334.8,372.3 335.3,378.0 335.0,380.0C334.7,382.0 332.8,384.3 332.0,383.0C331.2,381.7 329.7,374.0 330.0,372.0Z" fill="#f6f6f6"/>
<path d="M300.5,417.0C301.8,414.8 307.8,422.7 312.0,425.0C316.2,427.3 322.0,429.2 326.0,431.0C330.0,432.8 334.2,432.9 336.0,436.0C337.8,439.1 338.5,447.1 336.5,449.5C334.5,451.9 328.1,451.1 324.0,450.5C319.9,449.9 315.2,448.1 312.0,446.0C308.8,443.9 306.4,442.8 304.5,438.0C302.6,433.2 299.2,419.2 300.5,417.0Z" fill="#d0d0d0"/>
<path d="M313.9,351.0C314.3,349.8 315.0,345.8 316.3,343.9C317.6,342.0 319.6,340.6 321.7,339.8C323.8,339.1 326.5,339.0 328.9,339.4C331.3,339.8 334.0,340.8 336.0,342.1C338.0,343.5 339.4,345.4 340.8,347.5C342.2,349.6 343.5,352.5 344.4,354.7C345.3,356.9 345.6,358.4 346.2,360.6C346.8,362.8 347.3,365.6 348.0,367.8C348.7,370.0 349.5,371.8 350.3,373.8C351.1,375.8 352.0,377.0 352.7,379.7C353.4,382.4 354.0,385.8 354.5,390.0C355.0,394.2 355.6,400.0 355.8,405.0C356.0,410.0 356.1,415.7 355.8,420.0C355.5,424.3 354.1,429.2 353.8,431.0" fill="none" stroke="#333" stroke-width="0.75"/>
<path d="M313.9,351.0C314.4,352.2 315.4,355.8 316.9,358.2C318.4,360.6 321.3,363.2 322.9,365.4C324.5,367.6 325.6,369.0 326.5,371.4C327.4,373.8 327.5,377.3 328.3,379.7C329.1,382.1 330.4,383.7 331.2,385.7C332.0,387.7 332.8,389.2 333.0,391.6C333.2,394.0 332.2,397.3 332.4,400.0C332.6,402.7 333.4,405.6 334.0,408.0C334.6,410.4 335.5,411.4 336.0,414.3C336.5,417.2 337.1,421.2 337.1,425.3C337.1,429.4 336.0,434.5 336.0,438.6C336.0,442.7 336.9,447.9 337.1,449.7" fill="none" stroke="#333" stroke-width="0.75"/>
<path d="M305.0,334.0C309.0,333.4 322.5,333.8 330.0,334.5C337.5,335.2 344.7,336.4 350.0,338.0C355.3,339.6 361.0,342.7 362.0,344.0C363.0,345.3 358.8,346.5 356.0,346.0C353.2,345.5 349.3,342.2 345.0,341.0C340.7,339.8 336.5,339.0 330.0,338.5C323.5,338.0 310.2,338.8 306.0,338.0C301.8,337.2 301.0,334.6 305.0,334.0Z" fill="#d6d6d6"/>
<path d="M358.5,352.0C359.3,350.0 362.5,351.7 364.0,353.0C365.5,354.3 366.8,356.3 367.6,360.0C368.4,363.7 368.7,369.7 369.0,375.0C369.3,380.3 369.6,385.8 369.5,392.0C369.4,398.2 369.2,406.3 368.5,412.0C367.8,417.7 366.4,422.5 365.0,426.0C363.6,429.5 361.5,432.2 360.0,433.0C358.5,433.8 356.1,433.2 356.0,431.0C355.9,428.8 358.8,425.2 359.5,420.0C360.2,414.8 360.4,406.7 360.5,400.0C360.6,393.3 360.2,385.8 360.0,380.0C359.8,374.2 359.2,369.7 359.0,365.0C358.8,360.3 357.7,354.0 358.5,352.0Z" fill="#ececec"/>
<path d="M362.0,352.0C362.3,354.2 363.4,359.5 364.0,365.0C364.6,370.5 365.3,378.3 365.5,385.0C365.7,391.7 365.6,398.8 365.0,405.0C364.4,411.2 363.3,417.3 362.0,422.0C360.7,426.7 357.8,431.2 357.0,433.0" fill="none" stroke="#333" stroke-width="0.7"/>
<path d="M351.0,433.0C351.6,430.8 353.6,424.7 354.5,420.0C355.4,415.3 356.1,410.8 356.5,405.0C356.9,399.2 356.9,391.7 357.0,385.0C357.1,378.3 357.0,370.0 357.0,365.0C357.0,360.0 357.3,358.2 356.8,355.0C356.3,351.8 355.5,348.8 354.0,346.0C352.5,343.2 350.2,340.7 348.0,338.0C345.8,335.3 342.2,331.3 341.0,330.0" fill="none" stroke="#4a4a4a" stroke-width="5.0" stroke-linecap="round"/>
<path d="M351.0,433.0C351.6,430.8 353.6,424.7 354.5,420.0C355.4,415.3 356.1,410.8 356.5,405.0C356.9,399.2 356.9,391.7 357.0,385.0C357.1,378.3 357.0,370.0 357.0,365.0C357.0,360.0 357.3,358.2 356.8,355.0C356.3,351.8 355.5,348.8 354.0,346.0C352.5,343.2 350.2,340.7 348.0,338.0C345.8,335.3 342.2,331.3 341.0,330.0" fill="none" stroke="#d4d4d4" stroke-width="3.6" stroke-linecap="round"/>
<path d="M348.0,338.0C346.8,336.7 343.3,332.8 341.0,330.0C338.7,327.2 336.3,324.2 334.0,321.0C331.7,317.8 328.9,314.0 327.0,311.0C325.1,308.0 324.2,306.6 322.5,303.2C320.8,299.8 318.2,294.4 316.5,290.5C314.8,286.6 313.5,283.9 312.0,280.0C310.5,276.1 308.9,271.9 307.6,267.4C306.4,262.9 305.2,257.5 304.5,252.9C303.8,248.3 303.7,244.0 303.6,240.0C303.5,236.0 303.5,232.7 303.8,229.0C304.1,225.3 304.6,221.5 305.4,218.0C306.2,214.5 307.2,211.2 308.8,208.0C310.4,204.8 312.6,201.7 314.7,198.7C316.8,195.7 318.8,192.7 321.6,190.1C324.5,187.5 328.2,185.3 331.8,183.3C335.4,181.3 339.1,179.5 343.0,178.2C346.9,176.8 348.8,176.1 355.0,175.2C361.2,174.3 371.7,173.2 380.0,172.8C388.3,172.4 395.3,172.3 405.0,172.8C414.7,173.3 430.1,174.5 438.3,175.8C446.5,177.1 450.3,178.6 454.0,180.5C457.7,182.4 458.8,184.2 460.5,187.0C462.2,189.8 463.5,193.0 464.5,197.0C465.5,201.0 466.3,206.4 466.7,211.0C467.1,215.6 467.4,220.3 467.0,224.5C466.6,228.7 464.9,234.1 464.5,236.0" fill="none" stroke="#444" stroke-width="5.0" stroke-linecap="round"/>
<path d="M348.0,338.0C346.8,336.7 343.3,332.8 341.0,330.0C338.7,327.2 336.3,324.2 334.0,321.0C331.7,317.8 328.9,314.0 327.0,311.0C325.1,308.0 324.2,306.6 322.5,303.2C320.8,299.8 318.2,294.4 316.5,290.5C314.8,286.6 313.5,283.9 312.0,280.0C310.5,276.1 308.9,271.9 307.6,267.4C306.4,262.9 305.2,257.5 304.5,252.9C303.8,248.3 303.7,244.0 303.6,240.0C303.5,236.0 303.5,232.7 303.8,229.0C304.1,225.3 304.6,221.5 305.4,218.0C306.2,214.5 307.2,211.2 308.8,208.0C310.4,204.8 312.6,201.7 314.7,198.7C316.8,195.7 318.8,192.7 321.6,190.1C324.5,187.5 328.2,185.3 331.8,183.3C335.4,181.3 339.1,179.5 343.0,178.2C346.9,176.8 348.8,176.1 355.0,175.2C361.2,174.3 371.7,173.2 380.0,172.8C388.3,172.4 395.3,172.3 405.0,172.8C414.7,173.3 430.1,174.5 438.3,175.8C446.5,177.1 450.3,178.6 454.0,180.5C457.7,182.4 458.8,184.2 460.5,187.0C462.2,189.8 463.5,193.0 464.5,197.0C465.5,201.0 466.3,206.4 466.7,211.0C467.1,215.6 467.4,220.3 467.0,224.5C466.6,228.7 464.9,234.1 464.5,236.0" fill="none" stroke="#ebebeb" stroke-width="3.7" stroke-linecap="round"/>
<path d="M464.5,236.0C463.8,237.8 461.9,243.2 460.5,246.9C459.1,250.7 457.8,254.9 456.0,258.5C454.2,262.1 452.3,265.2 450.0,268.4C447.7,271.6 444.8,275.2 442.0,277.5C439.2,279.8 434.5,281.2 433.0,282.0" fill="none" stroke="#555" stroke-width="3.6" stroke-linecap="butt"/>
<path d="M464.5,236.0C463.8,237.8 461.9,243.2 460.5,246.9C459.1,250.7 457.8,254.9 456.0,258.5C454.2,262.1 452.3,265.2 450.0,268.4C447.7,271.6 444.8,275.2 442.0,277.5C439.2,279.8 434.5,281.2 433.0,282.0" fill="none" stroke="#e2e2e2" stroke-width="2.4" stroke-linecap="butt"/>
<path d="M332.7,137.8C334.1,139.7 338.2,145.6 341.3,148.9C344.4,152.2 347.8,155.4 351.1,157.4C354.4,159.4 356.9,160.1 360.9,161.1C364.9,162.1 370.4,162.8 375.0,163.6C379.6,164.3 380.5,164.4 388.3,165.6C396.1,166.8 411.7,169.4 421.7,170.8C431.7,172.2 441.1,172.4 448.3,174.2C455.5,176.0 460.0,178.8 465.0,181.7C470.0,184.6 474.7,188.6 478.3,191.7C481.9,194.8 484.3,196.2 486.4,200.2C488.4,204.2 489.9,210.1 490.6,215.5C491.3,220.9 491.2,226.9 490.6,232.6C490.0,238.3 488.3,243.9 487.2,249.6C486.1,255.3 484.8,261.5 483.8,266.6C482.8,271.7 481.8,275.1 481.3,280.2C480.8,285.3 480.2,291.5 480.6,297.0C481.0,302.5 482.1,307.9 483.6,313.3C485.1,318.7 488.7,324.8 489.7,329.5C490.7,334.2 491.4,337.4 489.7,341.6C488.0,345.8 484.5,351.6 479.6,354.7C474.8,357.8 467.0,358.9 460.6,360.0C454.2,361.1 449.2,361.7 441.3,361.0C433.4,360.3 422.8,357.6 413.5,355.7C404.2,353.8 392.5,350.7 385.7,349.7C378.9,348.7 376.0,349.1 372.8,349.7C369.6,350.3 367.6,349.6 366.4,353.5C365.2,357.4 365.0,367.4 365.4,372.8C365.8,378.2 367.9,381.1 368.6,385.6C369.3,390.1 369.4,397.6 369.6,400.0" fill="none" stroke="#1a1a1a" stroke-width="0.9"/>
<path d="M325.1,138.0C325.5,138.3 326.4,138.4 327.5,140.0C328.6,141.6 330.2,145.3 331.7,147.7C333.2,150.1 334.4,152.1 336.4,154.2C338.4,156.3 340.5,158.8 343.6,160.3C346.7,161.9 348.9,162.2 355.0,163.5C361.1,164.8 371.1,167.2 380.0,168.4C388.9,169.7 399.6,170.2 408.6,171.0C417.7,171.8 428.4,172.5 434.3,173.4C440.2,174.3 440.7,175.6 444.3,176.6C447.9,177.6 452.4,177.8 455.7,179.5C459.0,181.2 461.9,183.6 464.3,186.5C466.7,189.4 468.7,193.4 470.0,197.0C471.3,200.6 471.7,206.2 472.0,208.0" fill="none" stroke="#444" stroke-width="0.7"/>
<path d="M660.5,137.7C660.5,142.4 660.8,155.1 660.5,165.7C660.2,176.3 659.5,190.7 658.6,201.4C657.7,212.1 656.7,221.9 655.0,230.0C653.3,238.1 650.2,243.9 648.2,250.0C646.2,256.1 644.6,261.9 642.8,266.8C641.0,271.7 639.7,274.5 637.5,279.1C635.3,283.7 632.3,290.1 629.8,294.4C627.2,298.7 625.0,301.5 622.2,305.1C619.4,308.7 616.3,312.5 613.0,315.8C609.7,319.1 605.4,322.4 602.3,325.0C599.2,327.6 597.5,329.1 594.6,331.2C591.7,333.3 589.8,335.1 585.0,337.5C580.2,339.9 572.2,343.0 566.0,345.4C559.8,347.8 554.1,349.9 548.0,352.0C541.9,354.1 538.0,356.0 529.5,357.7C521.0,359.4 505.3,361.2 497.0,362.1C488.7,363.0 482.8,363.0 479.9,363.2" fill="none" stroke="#1a1a1a" stroke-width="0.9"/>
<path d="M515.2,374.0C518.3,373.4 527.5,371.8 534.0,370.5C540.5,369.2 548.0,367.9 554.0,366.0C560.0,364.1 565.2,361.4 570.0,359.0C574.8,356.6 579.2,354.4 582.7,351.6C586.2,348.8 588.6,345.4 591.0,342.0C593.4,338.6 596.0,332.8 597.0,331.0" fill="none" stroke="#1a1a1a" stroke-width="0.9"/>
<path d="M597.0,331.0C595.5,332.0 590.0,335.3 588.0,337.0C586.0,338.7 585.8,338.8 584.7,341.0C583.6,343.2 582.2,346.5 581.5,350.0C580.8,353.5 580.7,356.8 580.6,361.8C580.5,366.8 580.8,373.2 581.0,380.0C581.2,386.8 581.5,395.5 582.0,402.7C582.5,409.9 583.2,416.2 584.0,423.0C584.8,429.8 585.9,437.4 586.8,443.6C587.7,449.8 588.7,454.6 589.5,460.0C590.3,465.4 591.2,471.0 591.7,476.0C592.2,481.0 592.6,485.2 592.8,490.0C593.0,494.8 593.0,502.5 593.0,505.0" fill="none" stroke="#1a1a1a" stroke-width="0.9"/>
<path d="M293.0,450.0C293.4,453.1 294.4,462.0 295.3,468.4C296.2,474.8 297.4,482.2 298.4,488.3C299.4,494.4 301.0,502.4 301.5,505.2" fill="none" stroke="#1a1a1a" stroke-width="0.9"/>
</g><!--/anat-->
<!-- LABEL LINES -->
<g fill="none" stroke-linejoin="miter">
<path d="M4.5,89.5H229.3" stroke="#000" stroke-width="1.25"/>
<path d="M4.6,155.5H262.2M4.6,221.5H229M613,332.5H837.3M613,529.5H837.3" stroke="#888" stroke-width="1"/>
<path d="M4.6,287H229M613.4,398H837.3M613.4,464H837.3" stroke="#b2b2b2" stroke-width="2"/>
<path d="M229.3,89.5L401.1,196" stroke="#333" stroke-width="0.9"/>
<path d="M262.2,155.5L416,247.6" stroke="#333" stroke-width="0.9"/>
<path d="M229,221.5L436.6,264.5M229,221.5L405.4,272.5" stroke="#333" stroke-width="0.9"/>
<path d="M229,287L245.1,341.7" stroke="#333" stroke-width="0.9"/>
<path d="M466.4,262.7L613,332.5M335.6,365.2L613.4,398M367,388L613.4,464M312.5,427.3L613,529.5" stroke="#333" stroke-width="0.9"/>
</g>
<g fill="#000">
<circle cx="401.1" cy="196" r="2.4"/>
<circle cx="416" cy="247.6" r="2.4"/>
<circle cx="436.6" cy="264.5" r="2.4"/>
<circle cx="405.4" cy="272.5" r="2.4"/>
<circle cx="245.1" cy="341.7" r="2.4"/>
<circle cx="466.4" cy="262.7" r="2.4"/>
<circle cx="335.6" cy="365.2" r="2.4"/>
<circle cx="367" cy="388" r="2.4"/>
<circle cx="312.5" cy="427.3" r="2.4"/>
</g>
<!-- LABEL TEXT -->
<text class="lb" transform="translate(13.5,83.2) scale(1.12,1)">1.</text>
<text class="lb" transform="translate(12.8,149.0) scale(1.12,1)">2.</text>
<text class="lb" transform="translate(12.8,215.8) scale(1.12,1)">3.</text>
<text class="lb" transform="translate(12.8,281.8) scale(1.12,1)">4.</text>
<text class="lb" transform="translate(621.0,326.2) scale(1.12,1)">5.</text>
<text class="lb" transform="translate(621.0,392.0) scale(1.12,1)">6.</text>
<text class="lb" transform="translate(621.0,458.0) scale(1.12,1)">7.</text>
<text class="lb" transform="translate(621.0,523.8) scale(1.12,1)">8.</text>
<!-- TITLE -->
<text transform="translate(210.5,27) scale(1.03,1)" x="0" y="0" font-size="22.6" fill="#111" textLength="441.6" lengthAdjust="spacing">Male Reproductive System and Organs</text>
<text x="253.3" y="581" font-size="7.4" fill="#939393" textLength="370" lengthAdjust="spacingAndGlyphs">LifeART Collection Images Copyright © 1989-2001 by Lippincott Williams &amp; Wilkins, Baltimore, MD</text>
</svg>
</body></html>
